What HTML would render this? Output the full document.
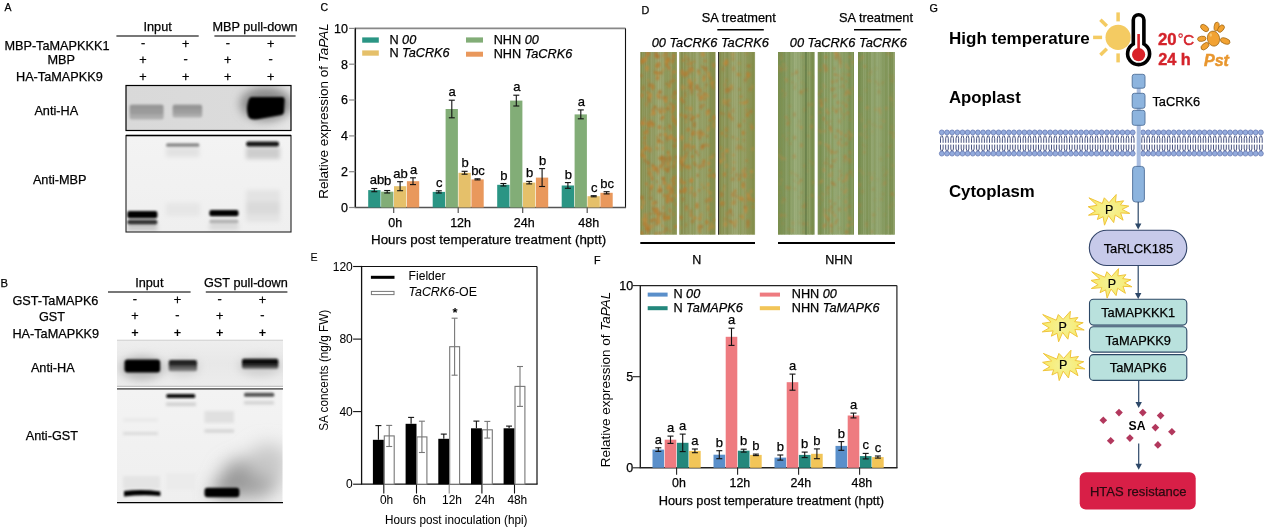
<!DOCTYPE html>
<html><head><meta charset="utf-8"><style>
html,body{margin:0;padding:0;background:#fff;}
svg{display:block;font-family:"Liberation Sans", sans-serif;will-change:transform;}
</style></head><body>
<svg width="1270" height="529" viewBox="0 0 1270 529">
<defs>
<filter id="bl1" x="-20%" y="-50%" width="140%" height="200%"><feGaussianBlur stdDeviation="1"/></filter>
<filter id="bl2" x="-20%" y="-50%" width="140%" height="200%"><feGaussianBlur stdDeviation="1.6"/></filter>
<filter id="bl3" x="-50%" y="-50%" width="200%" height="200%"><feGaussianBlur stdDeviation="8"/></filter>
<linearGradient id="gA1" x1="0" y1="0" x2="1" y2="0"><stop offset="0" stop-color="#d9d9d9"/><stop offset="0.7" stop-color="#dbdbdb"/><stop offset="1" stop-color="#e6e6e6"/></linearGradient>
<linearGradient id="gA2" x1="0" y1="0" x2="0" y2="1"><stop offset="0" stop-color="#f3f3f3"/><stop offset="1" stop-color="#efefef"/></linearGradient>
<linearGradient id="gB1" x1="0" y1="0" x2="0" y2="1"><stop offset="0" stop-color="#eeeeee"/><stop offset="0.5" stop-color="#e8e8e8"/><stop offset="1" stop-color="#ececec"/></linearGradient>
<linearGradient id="gB2" x1="0" y1="0" x2="0" y2="1"><stop offset="0" stop-color="#f3f3f3"/><stop offset="1" stop-color="#efefef"/></linearGradient>
<linearGradient id="band1" x1="0" y1="0" x2="0" y2="1"><stop offset="0" stop-color="#a3a3a3"/><stop offset="0.35" stop-color="#989898"/><stop offset="0.65" stop-color="#a6a6a6"/><stop offset="1" stop-color="#b2b2b2"/></linearGradient>
<linearGradient id="band2" x1="0" y1="0" x2="0" y2="1"><stop offset="0" stop-color="#1a1a1a"/><stop offset="0.4" stop-color="#262626"/><stop offset="0.6" stop-color="#555"/><stop offset="1" stop-color="#8a8a8a"/></linearGradient>
<linearGradient id="band3" x1="0" y1="0" x2="0" y2="1"><stop offset="0" stop-color="#080808"/><stop offset="0.5" stop-color="#151515"/><stop offset="0.75" stop-color="#444"/><stop offset="1" stop-color="#8a8a8a"/></linearGradient>
<clipPath id="cA1"><rect x="126" y="85.5" width="165" height="45"/></clipPath>
<clipPath id="cA2"><rect x="126" y="135.5" width="165" height="96.5"/></clipPath>
<clipPath id="cB1"><rect x="117" y="340" width="166" height="46.5"/></clipPath>
<clipPath id="cB2"><rect x="117" y="390" width="165.5" height="112"/></clipPath>
<radialGradient id="starg" cx="0.5" cy="0.5" r="0.5"><stop offset="0" stop-color="#f4f29a"/><stop offset="1" stop-color="#f8ea6a"/></radialGradient>
<filter id="bl05" x="-50%" y="-50%" width="200%" height="200%"><feGaussianBlur stdDeviation="0.7"/></filter>
<linearGradient id="leafN" x1="0" y1="0" x2="1" y2="0"><stop offset="0" stop-color="#838a4a"/><stop offset="0.5" stop-color="#9aa36e"/><stop offset="1" stop-color="#868e4c"/></linearGradient>
<linearGradient id="leafH" x1="0" y1="0" x2="1" y2="0"><stop offset="0" stop-color="#778c4e"/><stop offset="0.5" stop-color="#93a672"/><stop offset="1" stop-color="#7a8e50"/></linearGradient>
<filter id="f0_85" x="-50%" y="-50%" width="200%" height="200%"><feGaussianBlur stdDeviation="0.85"/></filter><filter id="f0_9" x="-50%" y="-50%" width="200%" height="200%"><feGaussianBlur stdDeviation="0.9"/></filter><filter id="f1_2" x="-50%" y="-50%" width="200%" height="200%"><feGaussianBlur stdDeviation="1.2"/></filter><filter id="f1_3" x="-50%" y="-50%" width="200%" height="200%"><feGaussianBlur stdDeviation="1.3"/></filter><filter id="f1_8" x="-50%" y="-50%" width="200%" height="200%"><feGaussianBlur stdDeviation="1.8"/></filter><filter id="f2_2" x="-50%" y="-50%" width="200%" height="200%"><feGaussianBlur stdDeviation="2.2"/></filter><filter id="f4" x="-50%" y="-50%" width="200%" height="200%"><feGaussianBlur stdDeviation="4"/></filter><filter id="f5" x="-50%" y="-50%" width="200%" height="200%"><feGaussianBlur stdDeviation="5"/></filter><filter id="f9" x="-50%" y="-50%" width="200%" height="200%"><feGaussianBlur stdDeviation="9"/></filter><clipPath id="cl0"><rect x="640.3" y="52" width="36.6" height="182.7"/></clipPath><clipPath id="cl1"><rect x="679.3" y="52" width="36.2" height="182.7"/></clipPath><clipPath id="cl2"><rect x="718.4" y="52" width="36.4" height="182.7"/></clipPath><clipPath id="cl3"><rect x="778.0" y="52" width="36.6" height="182.7"/></clipPath><clipPath id="cl4"><rect x="817.7" y="52" width="36.3" height="182.7"/></clipPath><clipPath id="cl5"><rect x="858.0" y="52" width="36.8" height="182.7"/></clipPath></defs>
<text x="4.6" y="11.2" font-size="10.5" text-anchor="start" font-weight="normal" font-style="normal" fill="#000"  stroke="#000" stroke-width="0.25">A</text>
<text x="4.4" y="49.9" font-size="12.7" text-anchor="start" font-weight="normal" font-style="normal" fill="#000"  stroke="#000" stroke-width="0.25">MBP-TaMAPKKK1</text>
<text x="47.4" y="64.4" font-size="12.7" text-anchor="start" font-weight="normal" font-style="normal" fill="#000"  stroke="#000" stroke-width="0.25">MBP</text>
<text x="16.0" y="81.1" font-size="12.7" text-anchor="start" font-weight="normal" font-style="normal" fill="#000"  stroke="#000" stroke-width="0.25">HA-TaMAPKK9</text>
<text x="34.4" y="115.0" font-size="12.7" text-anchor="start" font-weight="normal" font-style="normal" fill="#000"  stroke="#000" stroke-width="0.25">Anti-HA</text>
<text x="32.9" y="184.3" font-size="12.7" text-anchor="start" font-weight="normal" font-style="normal" fill="#000"  stroke="#000" stroke-width="0.25">Anti-MBP</text>
<text x="143.5" y="31.2" font-size="12.7" text-anchor="start" font-weight="normal" font-style="normal" fill="#000"  stroke="#000" stroke-width="0.25">Input</text>
<text x="212.5" y="31.2" font-size="12.7" text-anchor="start" font-weight="normal" font-style="normal" fill="#000"  stroke="#000" stroke-width="0.25">MBP pull-down</text>
<line x1="116.4" y1="36.0" x2="198.7" y2="36.0" stroke="#777" stroke-width="2"/>
<line x1="214.4" y1="36.0" x2="295.6" y2="36.0" stroke="#777" stroke-width="2"/>
<text x="143.0" y="47.2" font-size="12.7" text-anchor="middle" font-weight="normal" font-style="normal" fill="#000" stroke="#000" stroke-width="0.3">-</text>
<text x="185.6" y="48.2" font-size="12.7" text-anchor="middle" font-weight="normal" font-style="normal" fill="#000"  stroke="#000" stroke-width="0.25">+</text>
<text x="227.8" y="47.2" font-size="12.7" text-anchor="middle" font-weight="normal" font-style="normal" fill="#000" stroke="#000" stroke-width="0.3">-</text>
<text x="270.7" y="48.2" font-size="12.7" text-anchor="middle" font-weight="normal" font-style="normal" fill="#000"  stroke="#000" stroke-width="0.25">+</text>
<text x="143.0" y="63.8" font-size="12.7" text-anchor="middle" font-weight="normal" font-style="normal" fill="#000"  stroke="#000" stroke-width="0.25">+</text>
<text x="185.6" y="62.8" font-size="12.7" text-anchor="middle" font-weight="normal" font-style="normal" fill="#000" stroke="#000" stroke-width="0.3">-</text>
<text x="227.8" y="63.8" font-size="12.7" text-anchor="middle" font-weight="normal" font-style="normal" fill="#000"  stroke="#000" stroke-width="0.25">+</text>
<text x="270.7" y="62.8" font-size="12.7" text-anchor="middle" font-weight="normal" font-style="normal" fill="#000" stroke="#000" stroke-width="0.3">-</text>
<text x="143.0" y="80.9" font-size="12.7" text-anchor="middle" font-weight="normal" font-style="normal" fill="#000"  stroke="#000" stroke-width="0.25">+</text>
<text x="185.6" y="80.9" font-size="12.7" text-anchor="middle" font-weight="normal" font-style="normal" fill="#000"  stroke="#000" stroke-width="0.25">+</text>
<text x="227.8" y="80.9" font-size="12.7" text-anchor="middle" font-weight="normal" font-style="normal" fill="#000"  stroke="#000" stroke-width="0.25">+</text>
<text x="270.7" y="80.9" font-size="12.7" text-anchor="middle" font-weight="normal" font-style="normal" fill="#000"  stroke="#000" stroke-width="0.25">+</text>
<rect x="126" y="85.5" width="165" height="45" fill="url(#gA1)"/>
<g filter="url(#f5)" clip-path="url(#cA1)">
<ellipse cx="266" cy="104" rx="26" ry="17" fill="#8a8a8a"/>
</g>
<g filter="url(#f1_2)" clip-path="url(#cA1)">
<rect x="129.5" y="104.5" width="34.1" height="15.1" rx="2" fill="url(#band1)" opacity="1"/>
<rect x="172.6" y="104.5" width="29.6" height="13.0" rx="2" fill="url(#band1)" opacity="1"/>
<rect x="130.5" y="105.5" width="32.5" height="2.5" rx="1" fill="#8e8e8e" opacity="0.6"/>
<rect x="173.5" y="105.5" width="28.0" height="2.5" rx="1" fill="#8e8e8e" opacity="0.6"/>
<rect x="130.5" y="111.5" width="32.5" height="2.5" rx="1" fill="#959595" opacity="0.5"/>
<rect x="173.5" y="111.0" width="28.0" height="2.5" rx="1" fill="#999" opacity="0.4"/>
<path d="M252,97 L282,97 Q285,97 284.6,101 L284,112 Q283.5,115 280,115.3 L262,118.5 Q250,121.5 248,116 Q246,108 248,102 Q249,97 252,97 Z" fill="#050505"/>
</g>
<rect x="126" y="85.5" width="165" height="45" fill="none" stroke="#000" stroke-width="1.2"/>
<rect x="126" y="135.5" width="165" height="96.5" fill="url(#gA2)"/>
<g filter="url(#f2_2)" clip-path="url(#cA2)">
<rect x="166.0" y="147.0" width="33.4" height="10.0" rx="0" fill="#e2e2e2" opacity="1"/>
<rect x="246.0" y="147.0" width="34.0" height="12.0" rx="0" fill="#cdcdcd" opacity="1"/>
<rect x="166.0" y="203.0" width="34.0" height="13.0" rx="0" fill="#e6e6e6" opacity="1"/>
<rect x="246.0" y="190.0" width="34.0" height="32.0" rx="0" fill="#e3e3e3" opacity="1"/>
<rect x="246.0" y="202.0" width="34.0" height="12.0" rx="0" fill="#dadada" opacity="1"/>
<rect x="127.3" y="224.0" width="30.1" height="7.0" rx="0" fill="#c8c8c8" opacity="1"/>
<rect x="209.4" y="223.0" width="29.1" height="7.0" rx="0" fill="#d8d8d8" opacity="1"/>
</g>
<g filter="url(#f0_9)" clip-path="url(#cA2)">
<rect x="166.1" y="143.3" width="33.3" height="3.4" rx="1.5" fill="#8a8a8a" opacity="1"/>
<rect x="246.2" y="141.6" width="32.8" height="5.0" rx="2" fill="#151515" opacity="1"/>
<rect x="127.3" y="211.0" width="30.1" height="7.3" rx="2" fill="#000" opacity="1"/>
<rect x="127.3" y="219.8" width="30.1" height="4.8" rx="2" fill="#303030" opacity="1"/>
<rect x="209.4" y="210.0" width="29.1" height="6.3" rx="2" fill="#000" opacity="1"/>
<rect x="209.4" y="219.4" width="29.1" height="4.2" rx="2" fill="#b4b4b4" opacity="1"/>
</g>
<rect x="126" y="135.5" width="165" height="96.5" fill="none" stroke="#222" stroke-width="1.1"/>
<line x1="126.0" y1="135.5" x2="291.0" y2="135.5" stroke="#000" stroke-width="1.3"/>
<text x="0.5" y="286.8" font-size="11.2" text-anchor="start" font-weight="normal" font-style="normal" fill="#000"  stroke="#000" stroke-width="0.25">B</text>
<text x="12.4" y="305.2" font-size="12.7" text-anchor="start" font-weight="normal" font-style="normal" fill="#000"  stroke="#000" stroke-width="0.25">GST-TaMAPK6</text>
<text x="39.0" y="321.0" font-size="12.7" text-anchor="start" font-weight="normal" font-style="normal" fill="#000"  stroke="#000" stroke-width="0.25">GST</text>
<text x="12.4" y="337.8" font-size="12.7" text-anchor="start" font-weight="normal" font-style="normal" fill="#000"  stroke="#000" stroke-width="0.25">HA-TaMAPKK9</text>
<text x="30.9" y="371.5" font-size="12.7" text-anchor="start" font-weight="normal" font-style="normal" fill="#000"  stroke="#000" stroke-width="0.25">Anti-HA</text>
<text x="25.8" y="440.2" font-size="12.7" text-anchor="start" font-weight="normal" font-style="normal" fill="#000"  stroke="#000" stroke-width="0.25">Anti-GST</text>
<text x="135.2" y="287.2" font-size="12.7" text-anchor="start" font-weight="normal" font-style="normal" fill="#000"  stroke="#000" stroke-width="0.25">Input</text>
<text x="204.0" y="287.2" font-size="12.7" text-anchor="start" font-weight="normal" font-style="normal" fill="#000"  stroke="#000" stroke-width="0.25">GST pull-down</text>
<line x1="108.0" y1="292.0" x2="190.6" y2="292.0" stroke="#777" stroke-width="2"/>
<line x1="205.8" y1="292.0" x2="287.4" y2="292.0" stroke="#777" stroke-width="2"/>
<text x="134.9" y="303.2" font-size="12.7" text-anchor="middle" font-weight="normal" font-style="normal" fill="#000" stroke="#000" stroke-width="0.3">-</text>
<text x="177.4" y="304.2" font-size="12.7" text-anchor="middle" font-weight="normal" font-style="normal" fill="#000"  stroke="#000" stroke-width="0.25">+</text>
<text x="219.6" y="303.2" font-size="12.7" text-anchor="middle" font-weight="normal" font-style="normal" fill="#000" stroke="#000" stroke-width="0.3">-</text>
<text x="262.4" y="304.2" font-size="12.7" text-anchor="middle" font-weight="normal" font-style="normal" fill="#000"  stroke="#000" stroke-width="0.25">+</text>
<text x="134.9" y="319.8" font-size="12.7" text-anchor="middle" font-weight="normal" font-style="normal" fill="#000"  stroke="#000" stroke-width="0.25">+</text>
<text x="177.4" y="318.8" font-size="12.7" text-anchor="middle" font-weight="normal" font-style="normal" fill="#000" stroke="#000" stroke-width="0.3">-</text>
<text x="219.6" y="319.8" font-size="12.7" text-anchor="middle" font-weight="normal" font-style="normal" fill="#000"  stroke="#000" stroke-width="0.25">+</text>
<text x="262.4" y="318.8" font-size="12.7" text-anchor="middle" font-weight="normal" font-style="normal" fill="#000" stroke="#000" stroke-width="0.3">-</text>
<text x="134.9" y="337.3" font-size="12.7" text-anchor="middle" font-weight="bold" font-style="normal" fill="#000" >+</text>
<text x="177.4" y="337.3" font-size="12.7" text-anchor="middle" font-weight="bold" font-style="normal" fill="#000" >+</text>
<text x="219.6" y="337.3" font-size="12.7" text-anchor="middle" font-weight="bold" font-style="normal" fill="#000" >+</text>
<text x="262.4" y="337.3" font-size="12.7" text-anchor="middle" font-weight="bold" font-style="normal" fill="#000" >+</text>
<rect x="117" y="340" width="166" height="46.5" fill="url(#gB1)"/>
<g filter="url(#f4)" clip-path="url(#cB1)">
<ellipse cx="142" cy="368" rx="22" ry="12" fill="#b8b8b8"/>
<ellipse cx="260" cy="366" rx="22" ry="10" fill="#cfcfcf"/>
<ellipse cx="183" cy="367" rx="17" ry="9" fill="#d2d2d2"/>
</g>
<g filter="url(#f1_3)" clip-path="url(#cB1)">
<rect x="124.5" y="359.4" width="35.7" height="13.0" rx="3" fill="#020202" opacity="1"/>
<rect x="168.7" y="360.0" width="28.3" height="11.3" rx="2" fill="url(#band2)" opacity="1"/>
<rect x="242.0" y="358.8" width="36.3" height="10.2" rx="2" fill="url(#band3)" opacity="1"/>
</g>
<line x1="117.0" y1="340.2" x2="283.0" y2="340.2" stroke="#c8c8c8" stroke-width="0.8"/>
<line x1="117.0" y1="386.3" x2="283.0" y2="386.3" stroke="#b0b0b0" stroke-width="0.9"/>
<line x1="117.0" y1="388.9" x2="283.0" y2="388.9" stroke="#6a6a6a" stroke-width="1.7"/>
<rect x="117" y="390" width="165.5" height="112" fill="url(#gB2)"/>
<g filter="url(#f9)" clip-path="url(#cB2)">
<ellipse cx="250" cy="478" rx="30" ry="20" fill="#9c9c9c"/>
<ellipse cx="268" cy="462" rx="20" ry="18" fill="#c8c8c8"/>
<ellipse cx="225" cy="490" rx="14" ry="8" fill="#888"/>
</g>
<g filter="url(#f1_8)" clip-path="url(#cB2)">
<rect x="204.5" y="411.0" width="29.5" height="12.0" rx="0" fill="#e0e0e0" opacity="1"/>
<rect x="123.0" y="418.0" width="35.0" height="4.0" rx="0" fill="#eaeaea" opacity="1"/>
<rect x="123.0" y="432.0" width="35.0" height="3.0" rx="0" fill="#dadada" opacity="1"/>
<rect x="204.5" y="429.5" width="29.5" height="3.0" rx="0" fill="#d0d0d0" opacity="1"/>
<rect x="166.0" y="402.5" width="30.0" height="3.5" rx="0" fill="#cfcfcf" opacity="1"/>
<rect x="244.0" y="401.0" width="30.0" height="3.5" rx="0" fill="#d2d2d2" opacity="1"/>
<rect x="123.0" y="476.0" width="37.0" height="13.0" rx="0" fill="#e4e4e4" opacity="1"/>
<rect x="166.0" y="473.0" width="30.0" height="17.0" rx="0" fill="#ebebeb" opacity="1"/>
</g>
<g filter="url(#f0_9)" clip-path="url(#cB2)">
<rect x="166.3" y="394.0" width="28.9" height="4.0" rx="1.5" fill="#111" opacity="1"/>
<rect x="244.1" y="392.8" width="30.1" height="4.0" rx="1.5" fill="#555" opacity="1"/>
<path d="M124,491 Q142,489 160.4,491.5 L160.4,496 Q142,494.5 124,496.5 Z" fill="#000"/>
<rect x="204.5" y="487.8" width="34.9" height="9.4" rx="3" fill="#000" opacity="1"/>
</g>
<line x1="117.0" y1="502.6" x2="283.0" y2="502.6" stroke="#000" stroke-width="1.3"/>
<text x="320.5" y="11.0" font-size="10.5" text-anchor="start" font-weight="normal" font-style="normal" fill="#000"  stroke="#000" stroke-width="0.25">C</text>
<line x1="355.3" y1="28.4" x2="625.5" y2="28.4" stroke="#888" stroke-width="1.6"/>
<line x1="625.5" y1="28.4" x2="625.5" y2="207.5" stroke="#111" stroke-width="1.1"/>
<line x1="355.3" y1="27.8" x2="355.3" y2="207.5" stroke="#111" stroke-width="1.5"/>
<line x1="354.6" y1="207.5" x2="626.1" y2="207.5" stroke="#555" stroke-width="1.5"/>
<line x1="349.1" y1="207.5" x2="355.3" y2="207.5" stroke="#888" stroke-width="1.2"/>
<text x="348.0" y="211.8" font-size="12.5" text-anchor="end" font-weight="normal" font-style="normal" fill="#000"  stroke="#000" stroke-width="0.25">0</text>
<line x1="349.1" y1="171.7" x2="355.3" y2="171.7" stroke="#888" stroke-width="1.2"/>
<text x="348.0" y="176.0" font-size="12.5" text-anchor="end" font-weight="normal" font-style="normal" fill="#000"  stroke="#000" stroke-width="0.25">2</text>
<line x1="349.1" y1="135.9" x2="355.3" y2="135.9" stroke="#888" stroke-width="1.2"/>
<text x="348.0" y="140.2" font-size="12.5" text-anchor="end" font-weight="normal" font-style="normal" fill="#000"  stroke="#000" stroke-width="0.25">4</text>
<line x1="349.1" y1="100.0" x2="355.3" y2="100.0" stroke="#888" stroke-width="1.2"/>
<text x="348.0" y="104.3" font-size="12.5" text-anchor="end" font-weight="normal" font-style="normal" fill="#000"  stroke="#000" stroke-width="0.25">6</text>
<line x1="349.1" y1="64.2" x2="355.3" y2="64.2" stroke="#888" stroke-width="1.2"/>
<text x="348.0" y="68.5" font-size="12.5" text-anchor="end" font-weight="normal" font-style="normal" fill="#000"  stroke="#000" stroke-width="0.25">8</text>
<line x1="349.1" y1="28.4" x2="355.3" y2="28.4" stroke="#888" stroke-width="1.2"/>
<text x="348.0" y="32.7" font-size="12.5" text-anchor="end" font-weight="normal" font-style="normal" fill="#000"  stroke="#000" stroke-width="0.25">10</text>
<line x1="393.7" y1="207.5" x2="393.7" y2="213.0" stroke="#555" stroke-width="1.2"/>
<text x="395.3" y="226.8" font-size="12.5" text-anchor="middle" font-weight="normal" font-style="normal" fill="#000"  stroke="#000" stroke-width="0.25">0h</text>
<line x1="458.2" y1="207.5" x2="458.2" y2="213.0" stroke="#555" stroke-width="1.2"/>
<text x="460.6" y="226.8" font-size="12.5" text-anchor="middle" font-weight="normal" font-style="normal" fill="#000"  stroke="#000" stroke-width="0.25">12h</text>
<line x1="522.7" y1="207.5" x2="522.7" y2="213.0" stroke="#555" stroke-width="1.2"/>
<text x="524.3" y="226.8" font-size="12.5" text-anchor="middle" font-weight="normal" font-style="normal" fill="#000"  stroke="#000" stroke-width="0.25">24h</text>
<line x1="587.2" y1="207.5" x2="587.2" y2="213.0" stroke="#555" stroke-width="1.2"/>
<text x="588.8" y="226.8" font-size="12.5" text-anchor="middle" font-weight="normal" font-style="normal" fill="#000"  stroke="#000" stroke-width="0.25">48h</text>
<text x="488.6" y="244.4" font-size="13.35" text-anchor="middle" font-weight="normal" font-style="normal" fill="#000"  stroke="#000" stroke-width="0.25">Hours post temperature treatment (hptt)</text>
<text transform="translate(328.4,111) rotate(-90)" font-size="13.5" text-anchor="middle">Relative expression of <tspan font-style="italic">TaPAL</tspan></text>
<rect x="368.2" y="190.1" width="12.3" height="17.4" fill="#2a9584" />
<line x1="374.3" y1="188.5" x2="374.3" y2="191.7" stroke="#111" stroke-width="1.1"/>
<line x1="371.3" y1="188.5" x2="377.3" y2="188.5" stroke="#111" stroke-width="1.1"/>
<line x1="371.3" y1="191.7" x2="377.3" y2="191.7" stroke="#111" stroke-width="1.1"/>
<text x="369.7" y="183.6" font-size="13" text-anchor="start" font-weight="normal" font-style="normal" fill="#000"  stroke="#000" stroke-width="0.25">ab</text>
<rect x="381.1" y="191.7" width="12.3" height="15.8" fill="#82ad77" />
<line x1="387.2" y1="190.5" x2="387.2" y2="193.0" stroke="#111" stroke-width="1.1"/>
<line x1="384.2" y1="190.5" x2="390.2" y2="190.5" stroke="#111" stroke-width="1.1"/>
<line x1="384.2" y1="193.0" x2="390.2" y2="193.0" stroke="#111" stroke-width="1.1"/>
<text x="384.0" y="184.6" font-size="13" text-anchor="start" font-weight="normal" font-style="normal" fill="#000"  stroke="#000" stroke-width="0.25">b</text>
<rect x="394.0" y="186.2" width="12.3" height="21.3" fill="#e5c06a" />
<line x1="400.1" y1="181.7" x2="400.1" y2="190.7" stroke="#111" stroke-width="1.1"/>
<line x1="397.1" y1="181.7" x2="403.1" y2="181.7" stroke="#111" stroke-width="1.1"/>
<line x1="397.1" y1="190.7" x2="403.1" y2="190.7" stroke="#111" stroke-width="1.1"/>
<text x="400.6" y="177.7" font-size="13" text-anchor="middle" font-weight="normal" font-style="normal" fill="#000"  stroke="#000" stroke-width="0.25">ab</text>
<rect x="406.9" y="181.2" width="12.3" height="26.3" fill="#e9985c" />
<line x1="413.0" y1="177.8" x2="413.0" y2="184.6" stroke="#111" stroke-width="1.1"/>
<line x1="410.0" y1="177.8" x2="416.0" y2="177.8" stroke="#111" stroke-width="1.1"/>
<line x1="410.0" y1="184.6" x2="416.0" y2="184.6" stroke="#111" stroke-width="1.1"/>
<text x="413.5" y="173.8" font-size="13" text-anchor="middle" font-weight="normal" font-style="normal" fill="#000"  stroke="#000" stroke-width="0.25">a</text>
<rect x="432.7" y="191.9" width="12.3" height="15.6" fill="#2a9584" />
<line x1="438.8" y1="190.8" x2="438.8" y2="193.0" stroke="#111" stroke-width="1.1"/>
<line x1="435.8" y1="190.8" x2="441.8" y2="190.8" stroke="#111" stroke-width="1.1"/>
<line x1="435.8" y1="193.0" x2="441.8" y2="193.0" stroke="#111" stroke-width="1.1"/>
<text x="439.3" y="186.8" font-size="13" text-anchor="middle" font-weight="normal" font-style="normal" fill="#000"  stroke="#000" stroke-width="0.25">c</text>
<rect x="445.6" y="109.0" width="12.3" height="98.5" fill="#82ad77" />
<line x1="451.8" y1="100.2" x2="451.8" y2="117.8" stroke="#111" stroke-width="1.1"/>
<line x1="448.8" y1="100.2" x2="454.8" y2="100.2" stroke="#111" stroke-width="1.1"/>
<line x1="448.8" y1="117.8" x2="454.8" y2="117.8" stroke="#111" stroke-width="1.1"/>
<text x="452.2" y="96.2" font-size="13" text-anchor="middle" font-weight="normal" font-style="normal" fill="#000"  stroke="#000" stroke-width="0.25">a</text>
<rect x="458.5" y="172.8" width="12.3" height="34.7" fill="#e5c06a" />
<line x1="464.6" y1="171.3" x2="464.6" y2="174.2" stroke="#111" stroke-width="1.1"/>
<line x1="461.6" y1="171.3" x2="467.6" y2="171.3" stroke="#111" stroke-width="1.1"/>
<line x1="461.6" y1="174.2" x2="467.6" y2="174.2" stroke="#111" stroke-width="1.1"/>
<text x="465.1" y="167.3" font-size="13" text-anchor="middle" font-weight="normal" font-style="normal" fill="#000"  stroke="#000" stroke-width="0.25">b</text>
<rect x="471.4" y="179.4" width="12.3" height="28.1" fill="#e9985c" />
<line x1="477.5" y1="178.8" x2="477.5" y2="179.9" stroke="#111" stroke-width="1.1"/>
<line x1="474.5" y1="178.8" x2="480.5" y2="178.8" stroke="#111" stroke-width="1.1"/>
<line x1="474.5" y1="179.9" x2="480.5" y2="179.9" stroke="#111" stroke-width="1.1"/>
<text x="478.0" y="174.8" font-size="13" text-anchor="middle" font-weight="normal" font-style="normal" fill="#000"  stroke="#000" stroke-width="0.25">bc</text>
<rect x="497.2" y="184.8" width="12.3" height="22.7" fill="#2a9584" />
<line x1="503.4" y1="183.5" x2="503.4" y2="186.0" stroke="#111" stroke-width="1.1"/>
<line x1="500.4" y1="183.5" x2="506.4" y2="183.5" stroke="#111" stroke-width="1.1"/>
<line x1="500.4" y1="186.0" x2="506.4" y2="186.0" stroke="#111" stroke-width="1.1"/>
<text x="503.9" y="179.5" font-size="13" text-anchor="middle" font-weight="normal" font-style="normal" fill="#000"  stroke="#000" stroke-width="0.25">b</text>
<rect x="510.1" y="100.6" width="12.3" height="106.9" fill="#82ad77" />
<line x1="516.3" y1="95.2" x2="516.3" y2="106.0" stroke="#111" stroke-width="1.1"/>
<line x1="513.3" y1="95.2" x2="519.3" y2="95.2" stroke="#111" stroke-width="1.1"/>
<line x1="513.3" y1="106.0" x2="519.3" y2="106.0" stroke="#111" stroke-width="1.1"/>
<text x="516.8" y="91.2" font-size="13" text-anchor="middle" font-weight="normal" font-style="normal" fill="#000"  stroke="#000" stroke-width="0.25">a</text>
<rect x="523.0" y="182.6" width="12.3" height="24.9" fill="#e5c06a" />
<line x1="529.2" y1="181.4" x2="529.2" y2="183.9" stroke="#111" stroke-width="1.1"/>
<line x1="526.2" y1="181.4" x2="532.2" y2="181.4" stroke="#111" stroke-width="1.1"/>
<line x1="526.2" y1="183.9" x2="532.2" y2="183.9" stroke="#111" stroke-width="1.1"/>
<text x="529.7" y="177.4" font-size="13" text-anchor="middle" font-weight="normal" font-style="normal" fill="#000"  stroke="#000" stroke-width="0.25">b</text>
<rect x="535.9" y="177.6" width="12.3" height="29.9" fill="#e9985c" />
<line x1="542.1" y1="168.6" x2="542.1" y2="186.5" stroke="#111" stroke-width="1.1"/>
<line x1="539.1" y1="168.6" x2="545.1" y2="168.6" stroke="#111" stroke-width="1.1"/>
<line x1="539.1" y1="186.5" x2="545.1" y2="186.5" stroke="#111" stroke-width="1.1"/>
<text x="542.6" y="164.6" font-size="13" text-anchor="middle" font-weight="normal" font-style="normal" fill="#000"  stroke="#000" stroke-width="0.25">b</text>
<rect x="561.7" y="185.5" width="12.3" height="22.0" fill="#2a9584" />
<line x1="567.9" y1="182.6" x2="567.9" y2="188.3" stroke="#111" stroke-width="1.1"/>
<line x1="564.9" y1="182.6" x2="570.9" y2="182.6" stroke="#111" stroke-width="1.1"/>
<line x1="564.9" y1="188.3" x2="570.9" y2="188.3" stroke="#111" stroke-width="1.1"/>
<text x="568.4" y="178.6" font-size="13" text-anchor="middle" font-weight="normal" font-style="normal" fill="#000"  stroke="#000" stroke-width="0.25">b</text>
<rect x="574.6" y="114.4" width="12.3" height="93.1" fill="#82ad77" />
<line x1="580.8" y1="109.9" x2="580.8" y2="118.8" stroke="#111" stroke-width="1.1"/>
<line x1="577.8" y1="109.9" x2="583.8" y2="109.9" stroke="#111" stroke-width="1.1"/>
<line x1="577.8" y1="118.8" x2="583.8" y2="118.8" stroke="#111" stroke-width="1.1"/>
<text x="581.3" y="105.9" font-size="13" text-anchor="middle" font-weight="normal" font-style="normal" fill="#000"  stroke="#000" stroke-width="0.25">a</text>
<rect x="587.5" y="196.2" width="12.3" height="11.3" fill="#e5c06a" />
<line x1="593.7" y1="195.7" x2="593.7" y2="196.8" stroke="#111" stroke-width="1.1"/>
<line x1="590.7" y1="195.7" x2="596.7" y2="195.7" stroke="#111" stroke-width="1.1"/>
<line x1="590.7" y1="196.8" x2="596.7" y2="196.8" stroke="#111" stroke-width="1.1"/>
<text x="594.2" y="191.7" font-size="13" text-anchor="middle" font-weight="normal" font-style="normal" fill="#000"  stroke="#000" stroke-width="0.25">c</text>
<rect x="600.4" y="192.8" width="12.3" height="14.7" fill="#e9985c" />
<line x1="606.6" y1="191.7" x2="606.6" y2="193.9" stroke="#111" stroke-width="1.1"/>
<line x1="603.6" y1="191.7" x2="609.6" y2="191.7" stroke="#111" stroke-width="1.1"/>
<line x1="603.6" y1="193.9" x2="609.6" y2="193.9" stroke="#111" stroke-width="1.1"/>
<text x="607.1" y="187.7" font-size="13" text-anchor="middle" font-weight="normal" font-style="normal" fill="#000"  stroke="#000" stroke-width="0.25">bc</text>
<rect x="362.2" y="37.4" width="16.6" height="5.3" fill="#2a9584" />
<rect x="362.2" y="50.4" width="16.6" height="5.3" fill="#e5c06a" />
<rect x="466.0" y="37.4" width="17.0" height="5.2" fill="#82ad77" />
<rect x="466.0" y="51.7" width="17.0" height="5.0" fill="#e9985c" />
<text x="389.4" y="43.8" font-size="12.7" text-anchor="start" font-weight="normal" font-style="normal" fill="#000"  stroke="#000" stroke-width="0.25">N <tspan font-style="italic">00</tspan></text>
<text x="389.4" y="56.6" font-size="12.7" text-anchor="start" font-weight="normal" font-style="normal" fill="#000"  stroke="#000" stroke-width="0.25">N <tspan font-style="italic">TaCRK6</tspan></text>
<text x="493.7" y="43.8" font-size="12.7" text-anchor="start" font-weight="normal" font-style="normal" fill="#000"  stroke="#000" stroke-width="0.25">NHN <tspan font-style="italic">00</tspan></text>
<text x="493.7" y="58.2" font-size="12.7" text-anchor="start" font-weight="normal" font-style="normal" fill="#000"  stroke="#000" stroke-width="0.25">NHN <tspan font-style="italic">TaCRK6</tspan></text>
<text x="641.5" y="13.6" font-size="10.8" text-anchor="start" font-weight="normal" font-style="normal" fill="#000"  stroke="#000" stroke-width="0.25">D</text>
<text x="701.8" y="21.7" font-size="12.8" text-anchor="start" font-weight="normal" font-style="normal" fill="#000"  stroke="#000" stroke-width="0.25">SA treatment</text>
<line x1="717.3" y1="29.7" x2="763.8" y2="29.7" stroke="#000" stroke-width="1.6"/>
<text x="651.7" y="46.9" font-size="12.8" text-anchor="start" font-weight="normal" font-style="italic" fill="#000"  stroke="#000" stroke-width="0.25"><tspan>00</tspan> TaCRK6 TaCRK6</text>
<text x="839.0" y="21.7" font-size="12.8" text-anchor="start" font-weight="normal" font-style="normal" fill="#000"  stroke="#000" stroke-width="0.25">SA treatment</text>
<line x1="854.0" y1="29.7" x2="900.7" y2="29.7" stroke="#000" stroke-width="1.6"/>
<text x="789.8" y="46.9" font-size="12.8" text-anchor="start" font-weight="normal" font-style="italic" fill="#000"  stroke="#000" stroke-width="0.25"><tspan>00</tspan> TaCRK6 TaCRK6</text>
<rect x="640.3" y="52" width="36.6" height="182.7" fill="url(#leafN)"/>
<rect x="640.8" y="52" width="0.8" height="182.7" fill="#778a46" opacity="0.37"/>
<rect x="642.2" y="52" width="1.2" height="182.7" fill="#a9b886" opacity="0.36"/>
<rect x="644.1" y="52" width="0.9" height="182.7" fill="#a9b886" opacity="0.28"/>
<rect x="646.4" y="52" width="0.7" height="182.7" fill="#b3c093" opacity="0.38"/>
<rect x="649.1" y="52" width="0.6" height="182.7" fill="#778a46" opacity="0.44"/>
<rect x="651.4" y="52" width="0.5" height="182.7" fill="#b3c093" opacity="0.37"/>
<rect x="654.3" y="52" width="0.5" height="182.7" fill="#778a46" opacity="0.34"/>
<rect x="655.7" y="52" width="0.6" height="182.7" fill="#9cad72" opacity="0.42"/>
<rect x="658.1" y="52" width="0.6" height="182.7" fill="#b3c093" opacity="0.44"/>
<rect x="660.0" y="52" width="0.9" height="182.7" fill="#a9b886" opacity="0.42"/>
<rect x="662.6" y="52" width="0.9" height="182.7" fill="#b3c093" opacity="0.38"/>
<rect x="664.7" y="52" width="1.0" height="182.7" fill="#84964f" opacity="0.36"/>
<rect x="666.7" y="52" width="0.6" height="182.7" fill="#778a46" opacity="0.27"/>
<rect x="668.5" y="52" width="0.9" height="182.7" fill="#9cad72" opacity="0.47"/>
<rect x="670.5" y="52" width="1.3" height="182.7" fill="#a9b886" opacity="0.40"/>
<rect x="672.7" y="52" width="0.8" height="182.7" fill="#84964f" opacity="0.38"/>
<rect x="675.8" y="52" width="0.6" height="182.7" fill="#b3c093" opacity="0.42"/>
<g filter="url(#f0_85)" clip-path="url(#cl0)">
<ellipse cx="652.2" cy="178.6" rx="1.6" ry="2.3" fill="#b87c2e" opacity="0.71"/>
<ellipse cx="674.0" cy="138.7" rx="1.7" ry="1.7" fill="#b5803a" opacity="0.82"/>
<ellipse cx="651.1" cy="122.7" rx="1.7" ry="1.7" fill="#ad7630" opacity="0.71"/>
<ellipse cx="662.4" cy="142.2" rx="1.2" ry="1.5" fill="#b5803a" opacity="0.83"/>
<ellipse cx="654.8" cy="210.5" rx="1.1" ry="1.5" fill="#ad7630" opacity="0.75"/>
<ellipse cx="669.6" cy="209.1" rx="1.3" ry="1.7" fill="#b5803a" opacity="0.66"/>
<ellipse cx="674.4" cy="80.3" rx="1.2" ry="1.4" fill="#b5803a" opacity="0.61"/>
<ellipse cx="670.1" cy="85.9" rx="1.3" ry="1.4" fill="#c08a3c" opacity="0.74"/>
<ellipse cx="674.3" cy="177.8" rx="1.5" ry="2.3" fill="#b87c2e" opacity="0.80"/>
<ellipse cx="657.1" cy="210.4" rx="2.0" ry="3.0" fill="#b5803a" opacity="0.75"/>
<ellipse cx="655.1" cy="71.7" rx="1.6" ry="1.7" fill="#ad7630" opacity="0.53"/>
<ellipse cx="656.5" cy="72.9" rx="1.6" ry="1.7" fill="#b87c2e" opacity="0.76"/>
<ellipse cx="674.1" cy="163.9" rx="1.1" ry="1.2" fill="#c08a3c" opacity="0.67"/>
<ellipse cx="674.4" cy="161.8" rx="1.5" ry="1.6" fill="#b5803a" opacity="0.72"/>
<ellipse cx="657.9" cy="109.4" rx="1.1" ry="1.8" fill="#b5803a" opacity="0.83"/>
<ellipse cx="670.0" cy="82.2" rx="1.0" ry="1.8" fill="#ad7630" opacity="0.74"/>
<ellipse cx="665.2" cy="218.2" rx="1.8" ry="2.2" fill="#b87c2e" opacity="0.79"/>
<ellipse cx="665.4" cy="100.2" rx="1.4" ry="1.5" fill="#c08a3c" opacity="0.85"/>
<ellipse cx="663.3" cy="163.8" rx="1.8" ry="2.9" fill="#ad7630" opacity="0.59"/>
<ellipse cx="669.6" cy="186.7" rx="1.2" ry="1.7" fill="#b87c2e" opacity="0.66"/>
<ellipse cx="675.5" cy="195.8" rx="1.5" ry="1.7" fill="#c08a3c" opacity="0.77"/>
<ellipse cx="656.8" cy="222.3" rx="2.0" ry="3.5" fill="#ad7630" opacity="0.66"/>
<ellipse cx="644.8" cy="137.9" rx="1.3" ry="1.9" fill="#b87c2e" opacity="0.94"/>
<ellipse cx="657.9" cy="171.0" rx="1.8" ry="1.9" fill="#b5803a" opacity="0.80"/>
<ellipse cx="668.4" cy="188.6" rx="1.5" ry="1.7" fill="#c08a3c" opacity="0.86"/>
<ellipse cx="644.3" cy="224.0" rx="1.7" ry="2.4" fill="#b87c2e" opacity="0.83"/>
<ellipse cx="666.4" cy="83.7" rx="1.1" ry="1.3" fill="#ad7630" opacity="0.91"/>
<ellipse cx="662.5" cy="160.7" rx="1.5" ry="2.6" fill="#ad7630" opacity="0.57"/>
<ellipse cx="642.0" cy="197.4" rx="1.7" ry="1.9" fill="#ad7630" opacity="0.84"/>
<ellipse cx="656.3" cy="210.5" rx="1.8" ry="2.1" fill="#c08a3c" opacity="0.61"/>
<ellipse cx="658.6" cy="191.0" rx="1.3" ry="1.9" fill="#b87c2e" opacity="0.88"/>
<ellipse cx="672.8" cy="116.9" rx="1.5" ry="2.1" fill="#b5803a" opacity="0.91"/>
<ellipse cx="669.9" cy="211.7" rx="1.1" ry="1.3" fill="#b5803a" opacity="0.73"/>
<ellipse cx="668.2" cy="163.0" rx="1.8" ry="2.0" fill="#b87c2e" opacity="0.56"/>
<ellipse cx="660.6" cy="111.9" rx="1.5" ry="2.2" fill="#b87c2e" opacity="0.85"/>
<ellipse cx="671.9" cy="63.3" rx="1.2" ry="1.2" fill="#b5803a" opacity="0.54"/>
<ellipse cx="660.7" cy="190.3" rx="1.9" ry="2.6" fill="#ad7630" opacity="0.78"/>
<ellipse cx="665.3" cy="134.7" rx="1.5" ry="2.1" fill="#c08a3c" opacity="0.92"/>
<ellipse cx="673.2" cy="214.3" rx="1.2" ry="1.6" fill="#b5803a" opacity="0.69"/>
<ellipse cx="656.6" cy="66.1" rx="1.2" ry="1.3" fill="#b87c2e" opacity="0.80"/>
<ellipse cx="672.3" cy="80.9" rx="1.7" ry="2.6" fill="#ad7630" opacity="0.56"/>
<ellipse cx="674.8" cy="92.7" rx="2.0" ry="2.6" fill="#ad7630" opacity="0.72"/>
<ellipse cx="646.9" cy="131.0" rx="1.5" ry="1.9" fill="#c08a3c" opacity="0.59"/>
<ellipse cx="644.5" cy="119.1" rx="1.3" ry="1.8" fill="#b5803a" opacity="0.82"/>
<ellipse cx="652.8" cy="165.7" rx="1.5" ry="1.6" fill="#ad7630" opacity="0.94"/>
<ellipse cx="674.9" cy="71.9" rx="1.3" ry="1.3" fill="#c08a3c" opacity="0.85"/>
<ellipse cx="667.4" cy="201.1" rx="1.8" ry="2.8" fill="#b5803a" opacity="0.93"/>
<ellipse cx="646.5" cy="219.1" rx="1.6" ry="2.5" fill="#b87c2e" opacity="0.54"/>
<ellipse cx="669.0" cy="86.1" rx="1.9" ry="2.3" fill="#b87c2e" opacity="0.51"/>
<ellipse cx="669.0" cy="68.1" rx="1.9" ry="2.0" fill="#b5803a" opacity="0.89"/>
<ellipse cx="641.7" cy="232.7" rx="1.4" ry="2.5" fill="#b87c2e" opacity="0.78"/>
<ellipse cx="659.5" cy="96.1" rx="1.1" ry="1.3" fill="#ad7630" opacity="0.52"/>
<ellipse cx="673.6" cy="166.6" rx="1.5" ry="1.8" fill="#ad7630" opacity="0.70"/>
<ellipse cx="650.7" cy="198.2" rx="2.0" ry="2.1" fill="#ad7630" opacity="0.51"/>
<ellipse cx="659.1" cy="97.4" rx="1.4" ry="2.2" fill="#b5803a" opacity="0.79"/>
<ellipse cx="660.2" cy="213.6" rx="2.0" ry="2.5" fill="#ad7630" opacity="0.60"/>
<ellipse cx="653.2" cy="203.4" rx="1.7" ry="2.6" fill="#c08a3c" opacity="0.68"/>
<ellipse cx="675.3" cy="204.2" rx="1.0" ry="1.5" fill="#b5803a" opacity="0.90"/>
<ellipse cx="646.9" cy="68.3" rx="1.8" ry="3.1" fill="#c08a3c" opacity="0.80"/>
<ellipse cx="662.0" cy="178.2" rx="1.0" ry="1.2" fill="#b87c2e" opacity="0.62"/>
<ellipse cx="650.4" cy="226.8" rx="2.0" ry="2.8" fill="#c08a3c" opacity="0.61"/>
<ellipse cx="648.8" cy="86.1" rx="1.3" ry="1.4" fill="#ad7630" opacity="0.63"/>
<ellipse cx="649.9" cy="193.3" rx="1.1" ry="1.8" fill="#b87c2e" opacity="0.56"/>
<ellipse cx="654.9" cy="107.1" rx="1.6" ry="1.7" fill="#ad7630" opacity="0.93"/>
<ellipse cx="664.1" cy="182.4" rx="1.9" ry="2.5" fill="#b5803a" opacity="0.65"/>
<ellipse cx="646.5" cy="183.9" rx="1.6" ry="1.7" fill="#b5803a" opacity="0.88"/>
<ellipse cx="666.7" cy="199.8" rx="1.1" ry="1.6" fill="#b87c2e" opacity="0.73"/>
<ellipse cx="669.9" cy="158.5" rx="1.9" ry="2.9" fill="#ad7630" opacity="0.81"/>
<ellipse cx="644.2" cy="60.6" rx="1.6" ry="2.9" fill="#b5803a" opacity="0.67"/>
<ellipse cx="660.6" cy="166.4" rx="1.6" ry="2.5" fill="#b87c2e" opacity="0.72"/>
<ellipse cx="657.1" cy="65.7" rx="1.9" ry="3.3" fill="#b87c2e" opacity="0.54"/>
<ellipse cx="667.1" cy="138.6" rx="1.8" ry="3.0" fill="#ad7630" opacity="0.61"/>
<ellipse cx="649.3" cy="170.4" rx="1.5" ry="2.4" fill="#c08a3c" opacity="0.53"/>
<ellipse cx="667.8" cy="164.5" rx="1.6" ry="1.7" fill="#c08a3c" opacity="0.57"/>
<ellipse cx="663.8" cy="178.2" rx="1.6" ry="1.8" fill="#b5803a" opacity="0.72"/>
<ellipse cx="650.6" cy="174.4" rx="1.7" ry="2.6" fill="#c08a3c" opacity="0.63"/>
<ellipse cx="657.4" cy="137.3" rx="1.1" ry="1.9" fill="#b87c2e" opacity="0.59"/>
<ellipse cx="673.7" cy="56.2" rx="1.5" ry="2.4" fill="#b5803a" opacity="0.94"/>
<ellipse cx="675.7" cy="122.9" rx="1.9" ry="3.3" fill="#b87c2e" opacity="0.53"/>
<ellipse cx="646.2" cy="147.7" rx="2.0" ry="2.2" fill="#c08a3c" opacity="0.87"/>
<ellipse cx="672.0" cy="180.1" rx="1.2" ry="2.1" fill="#b87c2e" opacity="0.72"/>
<ellipse cx="646.8" cy="224.7" rx="1.7" ry="2.2" fill="#b5803a" opacity="0.83"/>
<ellipse cx="653.2" cy="110.1" rx="1.8" ry="1.8" fill="#b5803a" opacity="0.84"/>
<ellipse cx="645.5" cy="220.4" rx="1.7" ry="2.9" fill="#c08a3c" opacity="0.63"/>
<ellipse cx="643.5" cy="123.5" rx="1.9" ry="2.0" fill="#c08a3c" opacity="0.92"/>
<ellipse cx="670.9" cy="103.7" rx="1.1" ry="1.6" fill="#ad7630" opacity="0.79"/>
<ellipse cx="649.9" cy="101.0" rx="1.5" ry="1.7" fill="#b5803a" opacity="0.67"/>
<ellipse cx="671.9" cy="199.7" rx="1.6" ry="2.8" fill="#ad7630" opacity="0.92"/>
<ellipse cx="666.2" cy="61.9" rx="1.7" ry="2.4" fill="#c08a3c" opacity="0.84"/>
<ellipse cx="658.1" cy="217.8" rx="1.6" ry="1.8" fill="#c08a3c" opacity="0.69"/>
<ellipse cx="651.6" cy="186.5" rx="2.0" ry="2.4" fill="#c08a3c" opacity="0.80"/>
<ellipse cx="658.0" cy="173.9" rx="1.1" ry="1.7" fill="#b5803a" opacity="0.53"/>
<ellipse cx="660.3" cy="134.9" rx="1.3" ry="2.1" fill="#ad7630" opacity="0.69"/>
<ellipse cx="649.7" cy="84.6" rx="1.6" ry="2.0" fill="#ad7630" opacity="0.67"/>
<ellipse cx="672.0" cy="188.5" rx="1.4" ry="1.9" fill="#b5803a" opacity="0.74"/>
<ellipse cx="650.7" cy="188.9" rx="1.5" ry="2.2" fill="#ad7630" opacity="0.66"/>
<ellipse cx="644.5" cy="215.0" rx="1.4" ry="2.1" fill="#c08a3c" opacity="0.69"/>
<ellipse cx="670.7" cy="210.7" rx="1.0" ry="1.0" fill="#b5803a" opacity="0.82"/>
<ellipse cx="674.8" cy="141.5" rx="1.1" ry="1.9" fill="#b5803a" opacity="0.92"/>
<ellipse cx="674.9" cy="97.9" rx="1.1" ry="1.2" fill="#b87c2e" opacity="0.74"/>
<ellipse cx="673.9" cy="183.4" rx="1.6" ry="2.7" fill="#b87c2e" opacity="0.71"/>
<ellipse cx="641.3" cy="75.7" rx="1.6" ry="1.6" fill="#ad7630" opacity="0.82"/>
<ellipse cx="663.0" cy="148.5" rx="1.4" ry="2.3" fill="#c08a3c" opacity="0.54"/>
<ellipse cx="659.4" cy="158.3" rx="1.4" ry="1.6" fill="#b87c2e" opacity="0.77"/>
<ellipse cx="659.9" cy="233.0" rx="1.3" ry="1.6" fill="#ad7630" opacity="0.88"/>
<ellipse cx="657.7" cy="95.4" rx="1.2" ry="2.2" fill="#c08a3c" opacity="0.82"/>
<ellipse cx="643.2" cy="88.1" rx="1.9" ry="2.9" fill="#ad7630" opacity="0.54"/>
<ellipse cx="664.4" cy="220.2" rx="1.2" ry="1.3" fill="#b5803a" opacity="0.65"/>
<ellipse cx="653.8" cy="124.6" rx="1.0" ry="1.2" fill="#b87c2e" opacity="0.88"/>
<ellipse cx="648.4" cy="228.3" rx="1.3" ry="2.2" fill="#ad7630" opacity="0.60"/>
<ellipse cx="650.5" cy="213.7" rx="1.1" ry="1.7" fill="#ad7630" opacity="0.77"/>
<ellipse cx="658.1" cy="217.5" rx="1.1" ry="1.6" fill="#b87c2e" opacity="0.91"/>
<ellipse cx="648.7" cy="229.0" rx="1.1" ry="1.2" fill="#b5803a" opacity="0.53"/>
<ellipse cx="656.9" cy="181.7" rx="1.3" ry="1.4" fill="#ad7630" opacity="0.54"/>
<ellipse cx="652.7" cy="86.5" rx="1.9" ry="3.1" fill="#b5803a" opacity="0.51"/>
<ellipse cx="670.3" cy="231.0" rx="1.4" ry="1.6" fill="#b87c2e" opacity="0.54"/>
<ellipse cx="653.5" cy="225.7" rx="1.1" ry="2.0" fill="#c08a3c" opacity="0.59"/>
<ellipse cx="667.9" cy="108.8" rx="1.8" ry="1.9" fill="#ad7630" opacity="0.82"/>
<ellipse cx="654.2" cy="219.2" rx="1.2" ry="1.5" fill="#b87c2e" opacity="0.90"/>
<ellipse cx="663.2" cy="97.8" rx="1.6" ry="2.2" fill="#b5803a" opacity="0.67"/>
<ellipse cx="643.5" cy="219.3" rx="1.3" ry="2.0" fill="#c08a3c" opacity="0.90"/>
<ellipse cx="653.9" cy="113.5" rx="2.0" ry="2.0" fill="#c08a3c" opacity="0.84"/>
<ellipse cx="673.3" cy="106.7" rx="1.7" ry="2.5" fill="#b87c2e" opacity="0.86"/>
<ellipse cx="642.1" cy="95.3" rx="1.5" ry="2.6" fill="#b5803a" opacity="0.93"/>
<ellipse cx="668.6" cy="218.1" rx="1.8" ry="2.0" fill="#b87c2e" opacity="0.72"/>
<ellipse cx="669.1" cy="186.4" rx="1.8" ry="2.9" fill="#c08a3c" opacity="0.77"/>
<ellipse cx="671.1" cy="136.3" rx="1.8" ry="2.6" fill="#b5803a" opacity="0.73"/>
<ellipse cx="667.3" cy="97.7" rx="1.1" ry="1.1" fill="#c08a3c" opacity="0.75"/>
<ellipse cx="646.9" cy="130.1" rx="1.1" ry="1.2" fill="#ad7630" opacity="0.78"/>
<ellipse cx="644.6" cy="143.1" rx="1.7" ry="2.3" fill="#b5803a" opacity="0.61"/>
<ellipse cx="657.2" cy="214.1" rx="1.2" ry="1.8" fill="#b87c2e" opacity="0.85"/>
<ellipse cx="668.3" cy="106.1" rx="1.3" ry="1.6" fill="#c08a3c" opacity="0.61"/>
<ellipse cx="648.2" cy="97.7" rx="1.2" ry="1.4" fill="#ad7630" opacity="0.90"/>
<ellipse cx="652.6" cy="124.6" rx="2.0" ry="2.8" fill="#b87c2e" opacity="0.60"/>
<ellipse cx="663.9" cy="232.1" rx="1.1" ry="1.5" fill="#b5803a" opacity="0.87"/>
<ellipse cx="672.9" cy="60.3" rx="1.3" ry="1.4" fill="#ad7630" opacity="0.59"/>
<ellipse cx="673.5" cy="120.3" rx="1.9" ry="2.5" fill="#b87c2e" opacity="0.62"/>
<ellipse cx="645.0" cy="160.7" rx="1.6" ry="1.9" fill="#ad7630" opacity="0.67"/>
<ellipse cx="642.8" cy="233.7" rx="1.0" ry="1.6" fill="#b87c2e" opacity="0.91"/>
<ellipse cx="669.6" cy="126.9" rx="1.4" ry="2.1" fill="#b87c2e" opacity="0.54"/>
<ellipse cx="668.8" cy="152.0" rx="1.1" ry="1.1" fill="#ad7630" opacity="0.68"/>
<ellipse cx="663.4" cy="69.5" rx="1.2" ry="1.8" fill="#c08a3c" opacity="0.68"/>
<ellipse cx="664.4" cy="128.5" rx="1.1" ry="1.7" fill="#b5803a" opacity="0.90"/>
<ellipse cx="655.7" cy="209.2" rx="2.0" ry="2.6" fill="#b5803a" opacity="0.59"/>
<ellipse cx="648.3" cy="54.1" rx="1.9" ry="2.5" fill="#b5803a" opacity="0.87"/>
<ellipse cx="661.3" cy="118.9" rx="1.8" ry="2.0" fill="#ad7630" opacity="0.52"/>
<ellipse cx="663.5" cy="217.4" rx="1.1" ry="1.6" fill="#ad7630" opacity="0.67"/>
<ellipse cx="646.3" cy="104.2" rx="1.5" ry="2.6" fill="#b5803a" opacity="0.55"/>
<ellipse cx="667.4" cy="196.1" rx="1.8" ry="2.2" fill="#b87c2e" opacity="0.88"/>
<ellipse cx="675.1" cy="140.2" rx="1.1" ry="1.8" fill="#ad7630" opacity="0.67"/>
<ellipse cx="663.5" cy="207.8" rx="1.6" ry="2.4" fill="#b5803a" opacity="0.59"/>
<ellipse cx="647.6" cy="92.4" rx="1.4" ry="2.0" fill="#b87c2e" opacity="0.67"/>
<ellipse cx="646.5" cy="228.4" rx="1.8" ry="2.1" fill="#b87c2e" opacity="0.90"/>
<ellipse cx="664.4" cy="111.6" rx="1.4" ry="1.9" fill="#c08a3c" opacity="0.88"/>
<ellipse cx="663.8" cy="108.7" rx="1.2" ry="1.6" fill="#b5803a" opacity="0.67"/>
<ellipse cx="647.5" cy="53.6" rx="2.0" ry="2.7" fill="#b5803a" opacity="0.70"/>
<ellipse cx="670.2" cy="199.5" rx="1.4" ry="1.5" fill="#c08a3c" opacity="0.66"/>
<ellipse cx="644.5" cy="132.9" rx="1.5" ry="1.6" fill="#b87c2e" opacity="0.79"/>
<ellipse cx="673.2" cy="109.7" rx="1.7" ry="1.8" fill="#b5803a" opacity="0.84"/>
<ellipse cx="663.9" cy="194.7" rx="1.0" ry="1.1" fill="#b87c2e" opacity="0.78"/>
<ellipse cx="648.0" cy="230.4" rx="1.5" ry="2.6" fill="#ad7630" opacity="0.91"/>
<ellipse cx="665.0" cy="183.3" rx="1.2" ry="2.0" fill="#c08a3c" opacity="0.77"/>
<ellipse cx="646.8" cy="215.0" rx="1.3" ry="2.1" fill="#b5803a" opacity="0.56"/>
<ellipse cx="648.5" cy="100.5" rx="1.5" ry="1.9" fill="#ad7630" opacity="0.52"/>
<ellipse cx="655.3" cy="168.0" rx="1.3" ry="1.6" fill="#c08a3c" opacity="0.67"/>
<ellipse cx="645.3" cy="148.9" rx="1.6" ry="2.1" fill="#b87c2e" opacity="0.89"/>
<ellipse cx="650.0" cy="149.8" rx="1.9" ry="3.0" fill="#b5803a" opacity="0.67"/>
<ellipse cx="675.6" cy="157.3" rx="1.4" ry="2.2" fill="#ad7630" opacity="0.70"/>
<ellipse cx="662.6" cy="226.1" rx="1.3" ry="1.8" fill="#c08a3c" opacity="0.64"/>
<ellipse cx="666.7" cy="188.0" rx="1.2" ry="1.5" fill="#b5803a" opacity="0.78"/>
<ellipse cx="659.0" cy="214.8" rx="1.1" ry="1.3" fill="#b87c2e" opacity="0.79"/>
<ellipse cx="643.2" cy="155.5" rx="1.3" ry="1.8" fill="#b5803a" opacity="0.74"/>
<ellipse cx="661.5" cy="159.4" rx="1.2" ry="1.8" fill="#ad7630" opacity="0.71"/>
<ellipse cx="641.8" cy="197.8" rx="1.7" ry="2.3" fill="#ad7630" opacity="0.53"/>
<ellipse cx="671.4" cy="194.3" rx="1.4" ry="1.7" fill="#c08a3c" opacity="0.51"/>
<ellipse cx="661.9" cy="157.5" rx="1.6" ry="2.3" fill="#ad7630" opacity="0.72"/>
<ellipse cx="672.6" cy="61.0" rx="1.5" ry="2.0" fill="#b87c2e" opacity="0.61"/>
<ellipse cx="672.8" cy="72.0" rx="1.6" ry="2.5" fill="#b5803a" opacity="0.59"/>
<ellipse cx="648.2" cy="162.9" rx="1.5" ry="2.3" fill="#ad7630" opacity="0.87"/>
<ellipse cx="658.9" cy="64.5" rx="1.6" ry="2.9" fill="#b5803a" opacity="0.83"/>
<ellipse cx="666.1" cy="54.1" rx="1.8" ry="2.9" fill="#b5803a" opacity="0.71"/>
<ellipse cx="647.4" cy="233.1" rx="1.3" ry="1.9" fill="#c08a3c" opacity="0.56"/>
<ellipse cx="665.9" cy="101.1" rx="1.6" ry="2.1" fill="#c08a3c" opacity="0.85"/>
<ellipse cx="651.5" cy="220.8" rx="1.9" ry="2.0" fill="#ad7630" opacity="0.73"/>
<ellipse cx="650.3" cy="95.7" rx="1.7" ry="3.1" fill="#c08a3c" opacity="0.84"/>
<ellipse cx="647.9" cy="123.2" rx="1.6" ry="2.1" fill="#b5803a" opacity="0.88"/>
<ellipse cx="657.6" cy="148.9" rx="1.0" ry="1.0" fill="#ad7630" opacity="0.93"/>
<ellipse cx="661.0" cy="108.6" rx="1.2" ry="1.8" fill="#ad7630" opacity="0.54"/>
<ellipse cx="646.3" cy="57.9" rx="1.1" ry="1.9" fill="#ad7630" opacity="0.66"/>
<ellipse cx="665.5" cy="58.6" rx="1.1" ry="1.7" fill="#b87c2e" opacity="0.52"/>
<ellipse cx="666.8" cy="64.9" rx="1.6" ry="2.1" fill="#b87c2e" opacity="0.87"/>
<ellipse cx="671.7" cy="189.6" rx="1.7" ry="2.2" fill="#ad7630" opacity="0.61"/>
<ellipse cx="645.2" cy="59.2" rx="1.8" ry="3.0" fill="#c08a3c" opacity="0.79"/>
<ellipse cx="657.8" cy="77.0" rx="1.8" ry="2.7" fill="#c08a3c" opacity="0.63"/>
<ellipse cx="656.0" cy="56.8" rx="1.3" ry="1.5" fill="#c08a3c" opacity="0.82"/>
<ellipse cx="672.8" cy="192.0" rx="1.6" ry="2.2" fill="#b87c2e" opacity="0.63"/>
<ellipse cx="668.6" cy="58.6" rx="1.5" ry="1.6" fill="#b87c2e" opacity="0.71"/>
<ellipse cx="659.9" cy="92.1" rx="1.9" ry="2.0" fill="#ad7630" opacity="0.87"/>
<ellipse cx="656.4" cy="147.6" rx="1.3" ry="2.1" fill="#c08a3c" opacity="0.52"/>
<ellipse cx="658.3" cy="141.8" rx="1.8" ry="2.1" fill="#c08a3c" opacity="0.72"/>
<ellipse cx="674.4" cy="146.1" rx="1.6" ry="1.8" fill="#ad7630" opacity="0.87"/>
<ellipse cx="658.5" cy="72.9" rx="1.6" ry="1.7" fill="#b87c2e" opacity="0.85"/>
<ellipse cx="663.0" cy="117.3" rx="1.4" ry="1.8" fill="#b87c2e" opacity="0.90"/>
<ellipse cx="655.9" cy="169.7" rx="1.4" ry="1.7" fill="#ad7630" opacity="0.69"/>
<ellipse cx="654.4" cy="212.7" rx="1.2" ry="1.7" fill="#b87c2e" opacity="0.74"/>
<ellipse cx="653.4" cy="112.0" rx="1.2" ry="1.9" fill="#c08a3c" opacity="0.80"/>
<ellipse cx="647.2" cy="132.3" rx="1.8" ry="2.6" fill="#b5803a" opacity="0.56"/>
<ellipse cx="663.5" cy="178.9" rx="1.5" ry="1.8" fill="#ad7630" opacity="0.84"/>
<ellipse cx="666.3" cy="229.1" rx="1.7" ry="2.6" fill="#ad7630" opacity="0.66"/>
<ellipse cx="652.7" cy="87.2" rx="2.0" ry="3.1" fill="#b87c2e" opacity="0.55"/>
<ellipse cx="648.1" cy="80.3" rx="1.1" ry="1.4" fill="#c08a3c" opacity="0.63"/>
<ellipse cx="648.1" cy="168.3" rx="1.1" ry="1.3" fill="#b87c2e" opacity="0.67"/>
<ellipse cx="641.7" cy="207.4" rx="1.4" ry="1.7" fill="#c08a3c" opacity="0.94"/>
<ellipse cx="657.3" cy="78.6" rx="1.6" ry="2.1" fill="#b5803a" opacity="0.83"/>
<ellipse cx="665.6" cy="159.1" rx="1.6" ry="2.8" fill="#ad7630" opacity="0.80"/>
<ellipse cx="664.8" cy="168.9" rx="1.5" ry="1.8" fill="#b87c2e" opacity="0.78"/>
<ellipse cx="672.3" cy="96.8" rx="1.4" ry="2.2" fill="#b5803a" opacity="0.57"/>
<ellipse cx="658.0" cy="56.6" rx="1.9" ry="2.6" fill="#ad7630" opacity="0.80"/>
<ellipse cx="672.2" cy="112.3" rx="1.0" ry="1.7" fill="#b87c2e" opacity="0.91"/>
<ellipse cx="642.6" cy="151.2" rx="1.2" ry="1.9" fill="#c08a3c" opacity="0.92"/>
<ellipse cx="644.8" cy="156.8" rx="1.5" ry="2.4" fill="#c08a3c" opacity="0.73"/>
<ellipse cx="659.4" cy="127.2" rx="1.9" ry="2.3" fill="#b5803a" opacity="0.81"/>
<ellipse cx="659.1" cy="221.5" rx="1.7" ry="2.6" fill="#c08a3c" opacity="0.79"/>
<ellipse cx="650.8" cy="125.2" rx="1.0" ry="1.4" fill="#c08a3c" opacity="0.69"/>
<ellipse cx="661.4" cy="72.7" rx="1.3" ry="1.7" fill="#ad7630" opacity="0.93"/>
<ellipse cx="675.7" cy="226.6" rx="1.5" ry="1.7" fill="#b87c2e" opacity="0.92"/>
<ellipse cx="669.3" cy="167.6" rx="1.5" ry="2.1" fill="#ad7630" opacity="0.60"/>
<ellipse cx="653.5" cy="168.4" rx="1.8" ry="3.0" fill="#c08a3c" opacity="0.71"/>
<ellipse cx="667.6" cy="170.4" rx="1.8" ry="2.4" fill="#ad7630" opacity="0.85"/>
<ellipse cx="650.6" cy="121.0" rx="1.3" ry="1.7" fill="#b87c2e" opacity="0.58"/>
<ellipse cx="669.2" cy="197.4" rx="1.4" ry="2.1" fill="#b5803a" opacity="0.64"/>
<ellipse cx="656.1" cy="168.2" rx="1.7" ry="2.1" fill="#b5803a" opacity="0.92"/>
<ellipse cx="643.3" cy="202.6" rx="1.9" ry="3.1" fill="#c08a3c" opacity="0.56"/>
<ellipse cx="663.2" cy="55.7" rx="1.0" ry="1.8" fill="#c08a3c" opacity="0.80"/>
<ellipse cx="662.3" cy="157.5" rx="1.9" ry="2.1" fill="#ad7630" opacity="0.70"/>
<ellipse cx="648.5" cy="125.7" rx="1.5" ry="2.3" fill="#b87c2e" opacity="0.81"/>
<ellipse cx="664.4" cy="214.5" rx="1.8" ry="3.0" fill="#ad7630" opacity="0.59"/>
<ellipse cx="659.7" cy="187.1" rx="1.4" ry="2.5" fill="#c08a3c" opacity="0.75"/>
<ellipse cx="655.8" cy="202.4" rx="1.5" ry="2.1" fill="#ad7630" opacity="0.72"/>
<ellipse cx="665.5" cy="97.6" rx="1.2" ry="1.7" fill="#ad7630" opacity="0.83"/>
<ellipse cx="670.4" cy="137.6" rx="1.6" ry="2.4" fill="#c08a3c" opacity="0.88"/>
<ellipse cx="656.0" cy="233.7" rx="1.7" ry="1.9" fill="#b87c2e" opacity="0.66"/>
<ellipse cx="642.0" cy="61.3" rx="1.7" ry="3.1" fill="#b87c2e" opacity="0.86"/>
<ellipse cx="659.0" cy="140.6" rx="1.9" ry="1.9" fill="#ad7630" opacity="0.82"/>
<ellipse cx="653.0" cy="208.7" rx="1.4" ry="1.9" fill="#ad7630" opacity="0.74"/>
<ellipse cx="651.1" cy="114.8" rx="1.3" ry="1.3" fill="#c08a3c" opacity="0.63"/>
<ellipse cx="669.9" cy="126.0" rx="1.5" ry="1.8" fill="#ad7630" opacity="0.73"/>
<ellipse cx="663.9" cy="196.1" rx="1.3" ry="1.7" fill="#b87c2e" opacity="0.63"/>
<ellipse cx="668.4" cy="60.2" rx="1.7" ry="2.9" fill="#b87c2e" opacity="0.75"/>
<ellipse cx="655.1" cy="72.6" rx="1.0" ry="1.7" fill="#b87c2e" opacity="0.71"/>
<ellipse cx="668.6" cy="217.4" rx="1.6" ry="2.4" fill="#b87c2e" opacity="0.78"/>
<ellipse cx="648.7" cy="173.5" rx="1.5" ry="2.3" fill="#ad7630" opacity="0.55"/>
<ellipse cx="671.4" cy="129.2" rx="1.1" ry="1.9" fill="#ad7630" opacity="0.51"/>
<ellipse cx="668.5" cy="154.6" rx="1.3" ry="1.6" fill="#c08a3c" opacity="0.69"/>
<ellipse cx="642.0" cy="155.3" rx="1.6" ry="2.7" fill="#b87c2e" opacity="0.72"/>
<ellipse cx="669.8" cy="192.8" rx="1.4" ry="2.2" fill="#b87c2e" opacity="0.68"/>
<ellipse cx="641.8" cy="123.0" rx="1.6" ry="2.8" fill="#b5803a" opacity="0.94"/>
<ellipse cx="667.9" cy="152.2" rx="1.1" ry="1.5" fill="#b87c2e" opacity="0.90"/>
<ellipse cx="656.1" cy="54.7" rx="1.7" ry="3.0" fill="#ad7630" opacity="0.89"/>
<ellipse cx="671.4" cy="76.3" rx="1.0" ry="1.6" fill="#ad7630" opacity="0.61"/>
</g>
<rect x="679.3" y="52" width="36.2" height="182.7" fill="url(#leafN)"/>
<rect x="679.8" y="52" width="1.2" height="182.7" fill="#9cad72" opacity="0.48"/>
<rect x="682.9" y="52" width="1.2" height="182.7" fill="#a9b886" opacity="0.34"/>
<rect x="685.7" y="52" width="0.9" height="182.7" fill="#9cad72" opacity="0.52"/>
<rect x="687.3" y="52" width="0.5" height="182.7" fill="#a9b886" opacity="0.25"/>
<rect x="689.6" y="52" width="1.2" height="182.7" fill="#a9b886" opacity="0.37"/>
<rect x="691.9" y="52" width="1.0" height="182.7" fill="#84964f" opacity="0.43"/>
<rect x="694.1" y="52" width="1.3" height="182.7" fill="#84964f" opacity="0.39"/>
<rect x="696.2" y="52" width="1.3" height="182.7" fill="#a9b886" opacity="0.36"/>
<rect x="699.3" y="52" width="1.0" height="182.7" fill="#84964f" opacity="0.39"/>
<rect x="702.3" y="52" width="0.9" height="182.7" fill="#9cad72" opacity="0.49"/>
<rect x="704.7" y="52" width="0.7" height="182.7" fill="#a9b886" opacity="0.44"/>
<rect x="707.3" y="52" width="1.1" height="182.7" fill="#b3c093" opacity="0.35"/>
<rect x="710.1" y="52" width="1.3" height="182.7" fill="#778a46" opacity="0.43"/>
<rect x="712.5" y="52" width="0.8" height="182.7" fill="#778a46" opacity="0.36"/>
<g filter="url(#f0_85)" clip-path="url(#cl1)">
<ellipse cx="700.9" cy="214.9" rx="1.8" ry="2.2" fill="#c08a3c" opacity="0.45"/>
<ellipse cx="689.5" cy="81.4" rx="1.9" ry="3.1" fill="#c08a3c" opacity="0.77"/>
<ellipse cx="708.8" cy="199.7" rx="1.9" ry="2.7" fill="#b5803a" opacity="0.56"/>
<ellipse cx="692.2" cy="68.4" rx="1.6" ry="2.5" fill="#ad7630" opacity="0.53"/>
<ellipse cx="690.9" cy="63.4" rx="1.4" ry="2.2" fill="#b87c2e" opacity="0.83"/>
<ellipse cx="707.4" cy="136.1" rx="1.1" ry="1.8" fill="#ad7630" opacity="0.76"/>
<ellipse cx="693.9" cy="147.2" rx="1.3" ry="2.1" fill="#ad7630" opacity="0.58"/>
<ellipse cx="686.8" cy="87.8" rx="1.2" ry="1.8" fill="#c08a3c" opacity="0.60"/>
<ellipse cx="694.1" cy="146.5" rx="1.1" ry="1.2" fill="#c08a3c" opacity="0.85"/>
<ellipse cx="709.9" cy="120.2" rx="1.5" ry="1.6" fill="#b87c2e" opacity="0.58"/>
<ellipse cx="692.1" cy="146.9" rx="1.0" ry="1.0" fill="#b5803a" opacity="0.85"/>
<ellipse cx="700.4" cy="91.6" rx="1.9" ry="2.4" fill="#b5803a" opacity="0.49"/>
<ellipse cx="706.5" cy="201.0" rx="2.0" ry="2.4" fill="#ad7630" opacity="0.47"/>
<ellipse cx="714.3" cy="121.3" rx="1.0" ry="1.1" fill="#b5803a" opacity="0.60"/>
<ellipse cx="696.9" cy="205.8" rx="1.9" ry="3.2" fill="#b87c2e" opacity="0.71"/>
<ellipse cx="704.5" cy="69.3" rx="1.3" ry="1.6" fill="#b5803a" opacity="0.49"/>
<ellipse cx="686.5" cy="206.5" rx="1.4" ry="1.6" fill="#ad7630" opacity="0.74"/>
<ellipse cx="681.6" cy="99.2" rx="1.4" ry="2.3" fill="#b87c2e" opacity="0.82"/>
<ellipse cx="689.1" cy="145.8" rx="1.7" ry="2.8" fill="#b87c2e" opacity="0.65"/>
<ellipse cx="685.3" cy="189.4" rx="1.9" ry="3.0" fill="#b5803a" opacity="0.57"/>
<ellipse cx="706.2" cy="72.0" rx="1.3" ry="1.6" fill="#b5803a" opacity="0.50"/>
<ellipse cx="693.3" cy="132.8" rx="1.8" ry="3.1" fill="#b5803a" opacity="0.81"/>
<ellipse cx="704.8" cy="88.3" rx="1.0" ry="1.8" fill="#c08a3c" opacity="0.54"/>
<ellipse cx="710.7" cy="78.3" rx="1.4" ry="1.6" fill="#b87c2e" opacity="0.83"/>
<ellipse cx="701.8" cy="134.7" rx="1.3" ry="2.2" fill="#c08a3c" opacity="0.64"/>
<ellipse cx="685.2" cy="93.1" rx="1.1" ry="1.7" fill="#ad7630" opacity="0.67"/>
<ellipse cx="695.3" cy="80.0" rx="1.4" ry="1.7" fill="#c08a3c" opacity="0.46"/>
<ellipse cx="691.7" cy="83.3" rx="1.5" ry="1.9" fill="#b87c2e" opacity="0.82"/>
<ellipse cx="685.5" cy="145.8" rx="1.6" ry="2.7" fill="#b5803a" opacity="0.82"/>
<ellipse cx="708.9" cy="74.5" rx="1.8" ry="3.1" fill="#c08a3c" opacity="0.62"/>
<ellipse cx="714.4" cy="220.2" rx="1.1" ry="1.4" fill="#b87c2e" opacity="0.81"/>
<ellipse cx="708.8" cy="229.8" rx="1.1" ry="1.7" fill="#c08a3c" opacity="0.63"/>
<ellipse cx="697.8" cy="133.1" rx="1.8" ry="3.1" fill="#c08a3c" opacity="0.57"/>
<ellipse cx="695.2" cy="217.8" rx="1.2" ry="1.8" fill="#ad7630" opacity="0.51"/>
<ellipse cx="698.1" cy="94.6" rx="1.2" ry="1.7" fill="#b5803a" opacity="0.79"/>
<ellipse cx="706.3" cy="84.7" rx="1.1" ry="1.7" fill="#ad7630" opacity="0.70"/>
<ellipse cx="700.2" cy="89.6" rx="1.1" ry="1.7" fill="#b87c2e" opacity="0.62"/>
<ellipse cx="698.0" cy="115.8" rx="1.3" ry="1.9" fill="#b87c2e" opacity="0.83"/>
<ellipse cx="680.8" cy="217.5" rx="1.5" ry="2.5" fill="#ad7630" opacity="0.56"/>
<ellipse cx="699.6" cy="231.1" rx="1.0" ry="1.6" fill="#b87c2e" opacity="0.68"/>
<ellipse cx="692.5" cy="221.4" rx="2.0" ry="2.1" fill="#ad7630" opacity="0.59"/>
<ellipse cx="708.2" cy="209.4" rx="1.3" ry="2.1" fill="#b87c2e" opacity="0.60"/>
<ellipse cx="690.3" cy="72.5" rx="1.7" ry="2.3" fill="#ad7630" opacity="0.46"/>
<ellipse cx="681.0" cy="227.8" rx="1.2" ry="1.4" fill="#c08a3c" opacity="0.49"/>
<ellipse cx="699.3" cy="225.6" rx="1.0" ry="1.8" fill="#c08a3c" opacity="0.75"/>
<ellipse cx="680.9" cy="161.3" rx="1.6" ry="2.2" fill="#b87c2e" opacity="0.73"/>
<ellipse cx="692.3" cy="70.0" rx="1.2" ry="1.4" fill="#c08a3c" opacity="0.64"/>
<ellipse cx="684.1" cy="75.0" rx="1.9" ry="2.7" fill="#ad7630" opacity="0.54"/>
<ellipse cx="685.3" cy="156.5" rx="1.7" ry="2.0" fill="#b5803a" opacity="0.78"/>
<ellipse cx="704.0" cy="160.9" rx="1.6" ry="1.6" fill="#b87c2e" opacity="0.84"/>
<ellipse cx="706.9" cy="114.2" rx="1.2" ry="1.6" fill="#c08a3c" opacity="0.63"/>
<ellipse cx="708.2" cy="206.2" rx="1.1" ry="1.5" fill="#c08a3c" opacity="0.84"/>
<ellipse cx="688.8" cy="129.3" rx="1.6" ry="2.1" fill="#b87c2e" opacity="0.66"/>
<ellipse cx="691.4" cy="89.3" rx="1.7" ry="2.0" fill="#b5803a" opacity="0.62"/>
<ellipse cx="706.9" cy="222.3" rx="1.6" ry="2.7" fill="#b87c2e" opacity="0.81"/>
<ellipse cx="681.5" cy="168.9" rx="1.3" ry="2.0" fill="#b87c2e" opacity="0.56"/>
<ellipse cx="701.5" cy="98.3" rx="1.5" ry="2.0" fill="#c08a3c" opacity="0.84"/>
<ellipse cx="684.2" cy="115.8" rx="1.2" ry="1.2" fill="#c08a3c" opacity="0.84"/>
<ellipse cx="683.2" cy="159.7" rx="1.9" ry="2.6" fill="#c08a3c" opacity="0.66"/>
<ellipse cx="711.6" cy="157.3" rx="1.3" ry="2.0" fill="#c08a3c" opacity="0.75"/>
<ellipse cx="709.0" cy="163.2" rx="1.6" ry="2.4" fill="#c08a3c" opacity="0.53"/>
<ellipse cx="696.1" cy="152.0" rx="1.6" ry="2.2" fill="#ad7630" opacity="0.58"/>
<ellipse cx="691.7" cy="87.1" rx="1.5" ry="2.7" fill="#c08a3c" opacity="0.61"/>
<ellipse cx="685.9" cy="225.0" rx="1.3" ry="1.7" fill="#ad7630" opacity="0.56"/>
<ellipse cx="690.4" cy="192.5" rx="1.2" ry="1.2" fill="#b5803a" opacity="0.80"/>
<ellipse cx="702.8" cy="146.4" rx="1.8" ry="2.4" fill="#ad7630" opacity="0.76"/>
<ellipse cx="714.1" cy="175.5" rx="1.9" ry="2.6" fill="#ad7630" opacity="0.72"/>
<ellipse cx="703.4" cy="164.4" rx="1.8" ry="3.1" fill="#b5803a" opacity="0.66"/>
<ellipse cx="689.5" cy="167.0" rx="1.6" ry="2.6" fill="#b87c2e" opacity="0.62"/>
<ellipse cx="680.4" cy="191.4" rx="1.6" ry="2.2" fill="#ad7630" opacity="0.84"/>
<ellipse cx="694.6" cy="194.6" rx="1.9" ry="2.8" fill="#b5803a" opacity="0.60"/>
<ellipse cx="704.0" cy="105.1" rx="1.4" ry="1.7" fill="#b5803a" opacity="0.66"/>
<ellipse cx="702.5" cy="54.2" rx="1.7" ry="3.1" fill="#c08a3c" opacity="0.60"/>
<ellipse cx="686.6" cy="107.9" rx="1.1" ry="1.7" fill="#b87c2e" opacity="0.69"/>
<ellipse cx="708.4" cy="112.6" rx="2.0" ry="2.9" fill="#c08a3c" opacity="0.55"/>
<ellipse cx="687.3" cy="130.1" rx="1.9" ry="1.9" fill="#b5803a" opacity="0.47"/>
<ellipse cx="690.6" cy="149.9" rx="1.3" ry="2.0" fill="#b5803a" opacity="0.63"/>
<ellipse cx="693.6" cy="117.6" rx="1.6" ry="2.0" fill="#b87c2e" opacity="0.83"/>
<ellipse cx="698.3" cy="70.9" rx="1.4" ry="1.8" fill="#ad7630" opacity="0.68"/>
<ellipse cx="710.4" cy="227.3" rx="1.5" ry="2.0" fill="#c08a3c" opacity="0.70"/>
<ellipse cx="704.0" cy="187.9" rx="1.1" ry="1.4" fill="#b87c2e" opacity="0.60"/>
<ellipse cx="708.6" cy="145.6" rx="1.1" ry="1.9" fill="#b5803a" opacity="0.73"/>
<ellipse cx="701.9" cy="147.7" rx="1.8" ry="2.1" fill="#b5803a" opacity="0.81"/>
<ellipse cx="686.5" cy="166.9" rx="1.6" ry="2.1" fill="#b87c2e" opacity="0.85"/>
<ellipse cx="704.0" cy="54.9" rx="1.0" ry="1.6" fill="#c08a3c" opacity="0.67"/>
<ellipse cx="693.9" cy="70.8" rx="1.0" ry="1.0" fill="#c08a3c" opacity="0.52"/>
<ellipse cx="710.1" cy="214.8" rx="1.5" ry="1.7" fill="#b87c2e" opacity="0.53"/>
<ellipse cx="685.3" cy="146.7" rx="1.5" ry="1.5" fill="#b5803a" opacity="0.48"/>
<ellipse cx="708.5" cy="163.8" rx="1.8" ry="1.9" fill="#c08a3c" opacity="0.46"/>
<ellipse cx="685.2" cy="96.1" rx="1.3" ry="1.3" fill="#b87c2e" opacity="0.70"/>
<ellipse cx="692.2" cy="134.3" rx="1.4" ry="1.4" fill="#b87c2e" opacity="0.81"/>
<ellipse cx="695.3" cy="165.1" rx="1.2" ry="1.3" fill="#ad7630" opacity="0.83"/>
<ellipse cx="691.1" cy="215.4" rx="1.8" ry="2.3" fill="#b5803a" opacity="0.69"/>
<ellipse cx="713.8" cy="65.2" rx="1.7" ry="2.6" fill="#b5803a" opacity="0.69"/>
<ellipse cx="690.9" cy="211.2" rx="1.5" ry="2.4" fill="#ad7630" opacity="0.55"/>
<ellipse cx="686.1" cy="121.5" rx="1.0" ry="1.7" fill="#c08a3c" opacity="0.61"/>
<ellipse cx="684.2" cy="149.4" rx="1.4" ry="1.8" fill="#b87c2e" opacity="0.48"/>
<ellipse cx="694.7" cy="218.0" rx="1.6" ry="2.0" fill="#c08a3c" opacity="0.64"/>
<ellipse cx="688.4" cy="59.3" rx="1.7" ry="2.1" fill="#ad7630" opacity="0.51"/>
<ellipse cx="683.5" cy="101.7" rx="1.8" ry="2.0" fill="#ad7630" opacity="0.63"/>
<ellipse cx="685.7" cy="116.8" rx="1.7" ry="2.2" fill="#ad7630" opacity="0.84"/>
<ellipse cx="690.5" cy="139.0" rx="1.2" ry="2.0" fill="#c08a3c" opacity="0.72"/>
<ellipse cx="700.7" cy="132.6" rx="2.0" ry="2.8" fill="#ad7630" opacity="0.61"/>
<ellipse cx="684.6" cy="188.6" rx="1.7" ry="1.8" fill="#b5803a" opacity="0.80"/>
<ellipse cx="681.3" cy="182.8" rx="1.1" ry="1.2" fill="#ad7630" opacity="0.74"/>
<ellipse cx="706.8" cy="94.8" rx="1.2" ry="2.0" fill="#c08a3c" opacity="0.48"/>
<ellipse cx="707.8" cy="190.1" rx="1.2" ry="1.9" fill="#c08a3c" opacity="0.49"/>
<ellipse cx="684.6" cy="182.5" rx="1.3" ry="1.7" fill="#ad7630" opacity="0.82"/>
<ellipse cx="712.3" cy="84.9" rx="1.4" ry="2.2" fill="#b5803a" opacity="0.73"/>
<ellipse cx="681.2" cy="180.2" rx="1.5" ry="2.6" fill="#b87c2e" opacity="0.61"/>
<ellipse cx="686.5" cy="73.8" rx="1.9" ry="3.0" fill="#b87c2e" opacity="0.74"/>
<ellipse cx="694.1" cy="163.0" rx="1.4" ry="2.3" fill="#b87c2e" opacity="0.51"/>
<ellipse cx="699.2" cy="166.7" rx="1.9" ry="2.8" fill="#b5803a" opacity="0.54"/>
<ellipse cx="704.8" cy="99.0" rx="1.4" ry="2.2" fill="#b87c2e" opacity="0.59"/>
<ellipse cx="684.1" cy="191.0" rx="1.7" ry="2.8" fill="#b87c2e" opacity="0.80"/>
<ellipse cx="713.6" cy="176.1" rx="1.0" ry="1.3" fill="#c08a3c" opacity="0.76"/>
<ellipse cx="705.9" cy="68.6" rx="1.7" ry="2.2" fill="#ad7630" opacity="0.75"/>
<ellipse cx="689.9" cy="69.3" rx="1.9" ry="2.6" fill="#b5803a" opacity="0.83"/>
<ellipse cx="697.7" cy="175.3" rx="1.2" ry="1.9" fill="#ad7630" opacity="0.79"/>
<ellipse cx="697.0" cy="87.2" rx="2.0" ry="3.2" fill="#ad7630" opacity="0.68"/>
<ellipse cx="699.0" cy="228.2" rx="1.6" ry="2.4" fill="#b87c2e" opacity="0.55"/>
<ellipse cx="686.0" cy="115.7" rx="1.1" ry="1.6" fill="#b5803a" opacity="0.51"/>
<ellipse cx="703.2" cy="96.0" rx="1.2" ry="1.8" fill="#c08a3c" opacity="0.63"/>
<ellipse cx="704.2" cy="77.1" rx="1.7" ry="2.5" fill="#b87c2e" opacity="0.55"/>
<ellipse cx="699.1" cy="190.4" rx="1.2" ry="1.8" fill="#b5803a" opacity="0.69"/>
<ellipse cx="709.0" cy="126.4" rx="1.2" ry="1.9" fill="#b5803a" opacity="0.46"/>
<ellipse cx="687.4" cy="63.9" rx="1.3" ry="1.5" fill="#b5803a" opacity="0.73"/>
<ellipse cx="713.2" cy="82.2" rx="1.4" ry="2.1" fill="#b87c2e" opacity="0.57"/>
<ellipse cx="681.9" cy="137.7" rx="2.0" ry="2.7" fill="#c08a3c" opacity="0.75"/>
<ellipse cx="713.8" cy="154.9" rx="1.1" ry="1.5" fill="#ad7630" opacity="0.63"/>
<ellipse cx="707.1" cy="111.2" rx="1.4" ry="1.5" fill="#c08a3c" opacity="0.57"/>
<ellipse cx="702.6" cy="67.1" rx="1.7" ry="1.8" fill="#ad7630" opacity="0.61"/>
<ellipse cx="690.4" cy="86.6" rx="1.6" ry="2.7" fill="#ad7630" opacity="0.83"/>
<ellipse cx="683.8" cy="182.9" rx="1.3" ry="2.0" fill="#c08a3c" opacity="0.60"/>
<ellipse cx="691.2" cy="119.6" rx="1.6" ry="2.0" fill="#ad7630" opacity="0.79"/>
<ellipse cx="682.3" cy="72.4" rx="1.8" ry="3.1" fill="#b5803a" opacity="0.85"/>
<ellipse cx="711.3" cy="223.7" rx="1.5" ry="2.1" fill="#c08a3c" opacity="0.51"/>
<ellipse cx="700.9" cy="166.2" rx="1.1" ry="1.3" fill="#b5803a" opacity="0.51"/>
<ellipse cx="683.4" cy="60.2" rx="1.4" ry="1.7" fill="#b87c2e" opacity="0.74"/>
<ellipse cx="681.4" cy="163.4" rx="1.8" ry="2.6" fill="#b87c2e" opacity="0.51"/>
<ellipse cx="702.9" cy="146.0" rx="1.4" ry="1.8" fill="#ad7630" opacity="0.63"/>
<ellipse cx="711.2" cy="82.7" rx="1.3" ry="1.8" fill="#c08a3c" opacity="0.68"/>
<ellipse cx="699.7" cy="137.7" rx="1.5" ry="2.2" fill="#ad7630" opacity="0.62"/>
<ellipse cx="713.6" cy="226.8" rx="1.6" ry="2.7" fill="#c08a3c" opacity="0.47"/>
<ellipse cx="701.1" cy="106.7" rx="1.6" ry="2.8" fill="#ad7630" opacity="0.64"/>
<ellipse cx="690.5" cy="115.1" rx="1.9" ry="1.9" fill="#b5803a" opacity="0.53"/>
<ellipse cx="703.9" cy="79.5" rx="1.6" ry="2.3" fill="#c08a3c" opacity="0.83"/>
<ellipse cx="698.4" cy="155.1" rx="1.4" ry="1.5" fill="#ad7630" opacity="0.52"/>
<ellipse cx="699.0" cy="73.3" rx="1.9" ry="2.2" fill="#c08a3c" opacity="0.49"/>
<ellipse cx="704.6" cy="94.0" rx="1.5" ry="2.1" fill="#b87c2e" opacity="0.73"/>
<ellipse cx="709.4" cy="175.8" rx="1.8" ry="2.0" fill="#b87c2e" opacity="0.65"/>
<ellipse cx="701.7" cy="226.5" rx="1.5" ry="2.1" fill="#ad7630" opacity="0.73"/>
<ellipse cx="713.4" cy="87.6" rx="1.5" ry="1.6" fill="#b87c2e" opacity="0.60"/>
<ellipse cx="694.1" cy="61.5" rx="1.0" ry="1.6" fill="#b5803a" opacity="0.84"/>
<ellipse cx="690.6" cy="180.8" rx="1.4" ry="2.4" fill="#ad7630" opacity="0.70"/>
<ellipse cx="699.6" cy="218.8" rx="1.9" ry="2.1" fill="#c08a3c" opacity="0.75"/>
<ellipse cx="707.8" cy="186.0" rx="1.0" ry="1.2" fill="#c08a3c" opacity="0.55"/>
<ellipse cx="705.0" cy="60.9" rx="1.6" ry="1.7" fill="#b87c2e" opacity="0.67"/>
<ellipse cx="681.5" cy="217.5" rx="1.2" ry="1.6" fill="#b87c2e" opacity="0.73"/>
<ellipse cx="709.0" cy="158.1" rx="1.1" ry="1.1" fill="#c08a3c" opacity="0.49"/>
<ellipse cx="686.6" cy="153.2" rx="1.3" ry="2.0" fill="#ad7630" opacity="0.60"/>
<ellipse cx="700.4" cy="98.2" rx="2.0" ry="3.2" fill="#b5803a" opacity="0.56"/>
<ellipse cx="680.8" cy="114.9" rx="1.2" ry="1.6" fill="#b87c2e" opacity="0.80"/>
<ellipse cx="682.9" cy="165.1" rx="1.6" ry="2.4" fill="#ad7630" opacity="0.79"/>
<ellipse cx="704.0" cy="134.1" rx="1.2" ry="2.2" fill="#c08a3c" opacity="0.66"/>
<ellipse cx="691.6" cy="92.1" rx="1.9" ry="2.8" fill="#ad7630" opacity="0.47"/>
<ellipse cx="708.3" cy="184.4" rx="1.3" ry="1.8" fill="#c08a3c" opacity="0.83"/>
<ellipse cx="680.5" cy="157.7" rx="1.3" ry="1.4" fill="#b87c2e" opacity="0.64"/>
<ellipse cx="701.9" cy="184.4" rx="1.1" ry="1.5" fill="#c08a3c" opacity="0.48"/>
<ellipse cx="692.5" cy="156.6" rx="1.6" ry="1.8" fill="#b87c2e" opacity="0.73"/>
<ellipse cx="710.1" cy="192.9" rx="1.6" ry="2.5" fill="#c08a3c" opacity="0.60"/>
<ellipse cx="707.4" cy="96.0" rx="1.8" ry="2.0" fill="#c08a3c" opacity="0.48"/>
<ellipse cx="705.6" cy="145.0" rx="1.6" ry="2.1" fill="#b5803a" opacity="0.67"/>
<ellipse cx="691.7" cy="180.3" rx="1.7" ry="2.9" fill="#c08a3c" opacity="0.77"/>
<ellipse cx="710.9" cy="199.2" rx="2.0" ry="2.2" fill="#b5803a" opacity="0.53"/>
<ellipse cx="694.2" cy="124.6" rx="1.8" ry="3.1" fill="#ad7630" opacity="0.69"/>
<ellipse cx="690.6" cy="108.7" rx="1.7" ry="2.5" fill="#c08a3c" opacity="0.83"/>
<ellipse cx="682.8" cy="87.4" rx="1.9" ry="2.8" fill="#c08a3c" opacity="0.57"/>
<ellipse cx="714.1" cy="117.5" rx="1.8" ry="2.4" fill="#b87c2e" opacity="0.80"/>
<ellipse cx="709.0" cy="110.7" rx="1.2" ry="2.0" fill="#ad7630" opacity="0.67"/>
<ellipse cx="701.7" cy="95.8" rx="1.0" ry="1.1" fill="#c08a3c" opacity="0.63"/>
<ellipse cx="709.9" cy="170.1" rx="1.2" ry="1.9" fill="#b87c2e" opacity="0.84"/>
<ellipse cx="683.0" cy="199.3" rx="1.9" ry="2.4" fill="#ad7630" opacity="0.51"/>
<ellipse cx="689.6" cy="169.1" rx="1.0" ry="1.3" fill="#c08a3c" opacity="0.46"/>
<ellipse cx="691.5" cy="188.4" rx="1.6" ry="2.2" fill="#c08a3c" opacity="0.72"/>
<ellipse cx="686.3" cy="209.0" rx="1.8" ry="1.9" fill="#b5803a" opacity="0.70"/>
<ellipse cx="714.1" cy="125.2" rx="1.9" ry="3.3" fill="#c08a3c" opacity="0.46"/>
<ellipse cx="699.6" cy="231.4" rx="1.1" ry="1.6" fill="#c08a3c" opacity="0.74"/>
<ellipse cx="685.7" cy="56.4" rx="1.2" ry="1.7" fill="#c08a3c" opacity="0.79"/>
<ellipse cx="708.1" cy="129.5" rx="1.5" ry="2.3" fill="#c08a3c" opacity="0.67"/>
</g>
<rect x="718.4" y="52" width="36.4" height="182.7" fill="url(#leafN)"/>
<rect x="718.9" y="52" width="0.7" height="182.7" fill="#b3c093" opacity="0.33"/>
<rect x="721.5" y="52" width="1.1" height="182.7" fill="#9cad72" opacity="0.45"/>
<rect x="724.2" y="52" width="1.1" height="182.7" fill="#b3c093" opacity="0.33"/>
<rect x="726.8" y="52" width="1.3" height="182.7" fill="#778a46" opacity="0.33"/>
<rect x="729.6" y="52" width="0.6" height="182.7" fill="#9cad72" opacity="0.30"/>
<rect x="731.9" y="52" width="0.8" height="182.7" fill="#a9b886" opacity="0.53"/>
<rect x="734.5" y="52" width="0.6" height="182.7" fill="#b3c093" opacity="0.40"/>
<rect x="736.7" y="52" width="0.6" height="182.7" fill="#b3c093" opacity="0.36"/>
<rect x="738.2" y="52" width="0.6" height="182.7" fill="#778a46" opacity="0.41"/>
<rect x="740.1" y="52" width="1.1" height="182.7" fill="#84964f" opacity="0.54"/>
<rect x="742.6" y="52" width="1.0" height="182.7" fill="#9cad72" opacity="0.52"/>
<rect x="744.9" y="52" width="0.7" height="182.7" fill="#a9b886" opacity="0.28"/>
<rect x="747.5" y="52" width="0.6" height="182.7" fill="#84964f" opacity="0.45"/>
<rect x="749.3" y="52" width="0.7" height="182.7" fill="#84964f" opacity="0.37"/>
<rect x="752.3" y="52" width="1.3" height="182.7" fill="#778a46" opacity="0.26"/>
<rect x="754.1" y="52" width="1.1" height="182.7" fill="#778a46" opacity="0.32"/>
<g filter="url(#f0_85)" clip-path="url(#cl2)">
<ellipse cx="745.5" cy="169.1" rx="1.3" ry="2.3" fill="#ad7630" opacity="0.45"/>
<ellipse cx="735.8" cy="221.8" rx="1.8" ry="3.1" fill="#c08a3c" opacity="0.42"/>
<ellipse cx="729.1" cy="112.9" rx="1.5" ry="2.5" fill="#b5803a" opacity="0.43"/>
<ellipse cx="726.7" cy="62.4" rx="1.8" ry="3.0" fill="#b87c2e" opacity="0.62"/>
<ellipse cx="746.2" cy="209.0" rx="1.2" ry="2.0" fill="#c08a3c" opacity="0.71"/>
<ellipse cx="743.0" cy="198.5" rx="1.2" ry="2.0" fill="#c08a3c" opacity="0.42"/>
<ellipse cx="724.6" cy="186.0" rx="1.1" ry="1.2" fill="#b87c2e" opacity="0.61"/>
<ellipse cx="733.6" cy="169.0" rx="1.7" ry="2.2" fill="#b87c2e" opacity="0.49"/>
<ellipse cx="739.5" cy="89.4" rx="1.6" ry="1.6" fill="#ad7630" opacity="0.42"/>
<ellipse cx="739.2" cy="179.2" rx="1.7" ry="1.8" fill="#b87c2e" opacity="0.68"/>
<ellipse cx="749.6" cy="74.8" rx="1.5" ry="1.6" fill="#ad7630" opacity="0.52"/>
<ellipse cx="727.1" cy="150.7" rx="1.6" ry="2.3" fill="#c08a3c" opacity="0.71"/>
<ellipse cx="748.3" cy="226.0" rx="1.1" ry="1.9" fill="#ad7630" opacity="0.66"/>
<ellipse cx="744.6" cy="102.3" rx="1.2" ry="1.4" fill="#b87c2e" opacity="0.40"/>
<ellipse cx="726.2" cy="61.6" rx="1.8" ry="3.2" fill="#c08a3c" opacity="0.47"/>
<ellipse cx="743.1" cy="171.0" rx="1.5" ry="2.2" fill="#c08a3c" opacity="0.61"/>
<ellipse cx="733.1" cy="110.5" rx="1.4" ry="2.5" fill="#b5803a" opacity="0.51"/>
<ellipse cx="749.7" cy="198.2" rx="1.9" ry="2.9" fill="#c08a3c" opacity="0.46"/>
<ellipse cx="743.3" cy="184.9" rx="2.0" ry="3.3" fill="#b87c2e" opacity="0.60"/>
<ellipse cx="748.4" cy="194.7" rx="1.9" ry="2.0" fill="#c08a3c" opacity="0.61"/>
<ellipse cx="743.0" cy="132.9" rx="1.7" ry="2.3" fill="#b5803a" opacity="0.57"/>
<ellipse cx="745.1" cy="207.2" rx="1.5" ry="2.2" fill="#ad7630" opacity="0.71"/>
<ellipse cx="747.8" cy="196.0" rx="1.9" ry="2.4" fill="#c08a3c" opacity="0.40"/>
<ellipse cx="740.5" cy="175.4" rx="1.3" ry="2.0" fill="#ad7630" opacity="0.56"/>
<ellipse cx="751.2" cy="191.3" rx="1.3" ry="2.1" fill="#c08a3c" opacity="0.66"/>
<ellipse cx="737.4" cy="139.1" rx="1.2" ry="1.4" fill="#c08a3c" opacity="0.69"/>
<ellipse cx="737.4" cy="148.3" rx="1.8" ry="2.2" fill="#b5803a" opacity="0.43"/>
<ellipse cx="725.5" cy="224.2" rx="1.9" ry="2.8" fill="#c08a3c" opacity="0.68"/>
<ellipse cx="732.5" cy="203.4" rx="1.8" ry="2.0" fill="#c08a3c" opacity="0.43"/>
<ellipse cx="732.3" cy="118.9" rx="1.7" ry="2.4" fill="#b87c2e" opacity="0.48"/>
<ellipse cx="728.9" cy="105.5" rx="1.4" ry="1.6" fill="#ad7630" opacity="0.59"/>
<ellipse cx="745.5" cy="80.1" rx="1.7" ry="2.2" fill="#ad7630" opacity="0.55"/>
<ellipse cx="740.8" cy="147.6" rx="1.8" ry="2.2" fill="#b87c2e" opacity="0.56"/>
<ellipse cx="739.0" cy="63.4" rx="1.2" ry="1.9" fill="#c08a3c" opacity="0.47"/>
<ellipse cx="728.2" cy="101.0" rx="1.4" ry="2.0" fill="#b87c2e" opacity="0.54"/>
<ellipse cx="726.3" cy="129.5" rx="1.8" ry="2.7" fill="#b87c2e" opacity="0.50"/>
<ellipse cx="744.1" cy="120.9" rx="1.0" ry="1.7" fill="#b5803a" opacity="0.70"/>
<ellipse cx="741.7" cy="199.5" rx="1.4" ry="1.8" fill="#ad7630" opacity="0.57"/>
<ellipse cx="753.0" cy="206.9" rx="1.6" ry="1.7" fill="#b87c2e" opacity="0.44"/>
<ellipse cx="722.1" cy="133.5" rx="1.4" ry="1.9" fill="#b87c2e" opacity="0.69"/>
<ellipse cx="723.1" cy="154.8" rx="1.9" ry="3.0" fill="#b5803a" opacity="0.52"/>
<ellipse cx="725.5" cy="64.8" rx="1.4" ry="1.5" fill="#b87c2e" opacity="0.63"/>
<ellipse cx="742.5" cy="186.8" rx="1.4" ry="1.4" fill="#c08a3c" opacity="0.60"/>
<ellipse cx="745.9" cy="192.1" rx="1.1" ry="1.3" fill="#b87c2e" opacity="0.40"/>
<ellipse cx="722.9" cy="68.9" rx="1.8" ry="2.5" fill="#ad7630" opacity="0.39"/>
<ellipse cx="743.9" cy="140.2" rx="1.1" ry="1.6" fill="#ad7630" opacity="0.52"/>
<ellipse cx="753.7" cy="200.6" rx="1.9" ry="2.1" fill="#b87c2e" opacity="0.49"/>
<ellipse cx="725.8" cy="150.4" rx="1.5" ry="1.6" fill="#c08a3c" opacity="0.50"/>
<ellipse cx="738.5" cy="145.3" rx="1.4" ry="1.5" fill="#b5803a" opacity="0.48"/>
<ellipse cx="747.0" cy="207.8" rx="1.3" ry="1.5" fill="#c08a3c" opacity="0.39"/>
<ellipse cx="751.5" cy="171.6" rx="1.7" ry="1.9" fill="#c08a3c" opacity="0.69"/>
<ellipse cx="726.3" cy="219.1" rx="1.6" ry="1.6" fill="#b87c2e" opacity="0.48"/>
<ellipse cx="733.5" cy="155.1" rx="1.3" ry="1.6" fill="#c08a3c" opacity="0.64"/>
<ellipse cx="726.3" cy="90.8" rx="2.0" ry="2.9" fill="#b5803a" opacity="0.51"/>
<ellipse cx="726.4" cy="89.7" rx="1.2" ry="2.0" fill="#ad7630" opacity="0.42"/>
<ellipse cx="749.1" cy="66.0" rx="1.6" ry="1.8" fill="#ad7630" opacity="0.69"/>
<ellipse cx="736.5" cy="174.8" rx="1.7" ry="2.1" fill="#ad7630" opacity="0.45"/>
<ellipse cx="724.4" cy="218.9" rx="1.2" ry="1.3" fill="#b87c2e" opacity="0.41"/>
<ellipse cx="752.1" cy="127.9" rx="1.7" ry="2.0" fill="#b5803a" opacity="0.68"/>
<ellipse cx="724.7" cy="63.2" rx="1.7" ry="1.8" fill="#c08a3c" opacity="0.66"/>
<ellipse cx="745.5" cy="211.1" rx="1.8" ry="2.8" fill="#c08a3c" opacity="0.62"/>
<ellipse cx="750.8" cy="111.6" rx="1.8" ry="2.1" fill="#ad7630" opacity="0.64"/>
<ellipse cx="732.9" cy="59.0" rx="1.4" ry="2.1" fill="#b87c2e" opacity="0.45"/>
<ellipse cx="726.2" cy="79.9" rx="1.2" ry="1.5" fill="#b87c2e" opacity="0.51"/>
<ellipse cx="747.9" cy="75.1" rx="1.9" ry="3.5" fill="#b87c2e" opacity="0.69"/>
<ellipse cx="729.4" cy="115.9" rx="1.8" ry="2.4" fill="#b87c2e" opacity="0.69"/>
<ellipse cx="726.3" cy="103.6" rx="1.3" ry="1.9" fill="#ad7630" opacity="0.63"/>
<ellipse cx="724.2" cy="102.0" rx="1.9" ry="3.2" fill="#c08a3c" opacity="0.45"/>
<ellipse cx="720.5" cy="161.2" rx="2.0" ry="2.5" fill="#c08a3c" opacity="0.69"/>
<ellipse cx="721.1" cy="113.2" rx="1.4" ry="1.7" fill="#ad7630" opacity="0.63"/>
<ellipse cx="723.2" cy="203.3" rx="1.8" ry="2.9" fill="#b87c2e" opacity="0.53"/>
<ellipse cx="746.5" cy="160.6" rx="1.5" ry="1.5" fill="#b87c2e" opacity="0.55"/>
<ellipse cx="733.6" cy="178.9" rx="1.4" ry="2.4" fill="#ad7630" opacity="0.40"/>
<ellipse cx="731.8" cy="172.8" rx="1.1" ry="1.1" fill="#b5803a" opacity="0.59"/>
<ellipse cx="729.8" cy="100.2" rx="1.1" ry="1.3" fill="#c08a3c" opacity="0.43"/>
<ellipse cx="737.8" cy="74.2" rx="1.5" ry="1.7" fill="#c08a3c" opacity="0.56"/>
<ellipse cx="732.0" cy="88.7" rx="1.4" ry="1.6" fill="#ad7630" opacity="0.42"/>
<ellipse cx="744.4" cy="149.6" rx="1.2" ry="1.3" fill="#b87c2e" opacity="0.41"/>
<ellipse cx="736.2" cy="195.9" rx="1.6" ry="2.4" fill="#ad7630" opacity="0.45"/>
<ellipse cx="724.7" cy="100.7" rx="1.0" ry="1.4" fill="#c08a3c" opacity="0.55"/>
<ellipse cx="739.0" cy="74.8" rx="1.7" ry="2.0" fill="#b87c2e" opacity="0.46"/>
<ellipse cx="747.7" cy="66.2" rx="1.3" ry="1.4" fill="#ad7630" opacity="0.45"/>
<ellipse cx="747.4" cy="114.8" rx="1.8" ry="2.5" fill="#b87c2e" opacity="0.69"/>
<ellipse cx="730.3" cy="221.3" rx="1.8" ry="1.8" fill="#ad7630" opacity="0.64"/>
<ellipse cx="744.6" cy="175.7" rx="1.2" ry="1.5" fill="#ad7630" opacity="0.42"/>
<ellipse cx="751.2" cy="177.0" rx="1.7" ry="1.8" fill="#b5803a" opacity="0.38"/>
<ellipse cx="720.7" cy="148.0" rx="1.3" ry="1.4" fill="#b87c2e" opacity="0.58"/>
<ellipse cx="726.2" cy="166.0" rx="1.8" ry="3.0" fill="#c08a3c" opacity="0.41"/>
<ellipse cx="739.4" cy="198.2" rx="1.5" ry="2.4" fill="#c08a3c" opacity="0.54"/>
<ellipse cx="747.9" cy="222.3" rx="1.9" ry="3.0" fill="#ad7630" opacity="0.66"/>
<ellipse cx="734.4" cy="202.1" rx="1.8" ry="3.0" fill="#b87c2e" opacity="0.48"/>
<ellipse cx="721.7" cy="194.5" rx="1.8" ry="2.9" fill="#ad7630" opacity="0.66"/>
<ellipse cx="726.2" cy="135.7" rx="1.2" ry="1.7" fill="#b87c2e" opacity="0.68"/>
<ellipse cx="732.9" cy="194.6" rx="1.8" ry="2.8" fill="#b5803a" opacity="0.69"/>
<ellipse cx="733.4" cy="68.7" rx="1.7" ry="2.8" fill="#b5803a" opacity="0.49"/>
<ellipse cx="746.7" cy="53.8" rx="1.5" ry="1.5" fill="#b5803a" opacity="0.41"/>
<ellipse cx="733.8" cy="162.3" rx="1.5" ry="1.8" fill="#c08a3c" opacity="0.45"/>
<ellipse cx="732.9" cy="137.2" rx="1.0" ry="1.3" fill="#ad7630" opacity="0.71"/>
<ellipse cx="743.5" cy="132.9" rx="1.7" ry="2.7" fill="#b87c2e" opacity="0.42"/>
<ellipse cx="732.3" cy="215.0" rx="1.4" ry="1.8" fill="#ad7630" opacity="0.43"/>
<ellipse cx="727.1" cy="213.8" rx="1.6" ry="2.8" fill="#b5803a" opacity="0.51"/>
<ellipse cx="730.4" cy="211.3" rx="1.8" ry="2.7" fill="#ad7630" opacity="0.66"/>
<ellipse cx="732.8" cy="54.6" rx="1.9" ry="2.0" fill="#c08a3c" opacity="0.46"/>
<ellipse cx="744.7" cy="175.2" rx="2.0" ry="3.2" fill="#b5803a" opacity="0.63"/>
<ellipse cx="724.0" cy="189.1" rx="1.3" ry="1.7" fill="#c08a3c" opacity="0.55"/>
<ellipse cx="734.7" cy="226.1" rx="1.4" ry="2.1" fill="#b5803a" opacity="0.59"/>
<ellipse cx="751.7" cy="199.1" rx="1.1" ry="1.6" fill="#b87c2e" opacity="0.54"/>
<ellipse cx="721.4" cy="203.9" rx="1.7" ry="2.4" fill="#ad7630" opacity="0.53"/>
<ellipse cx="744.5" cy="188.5" rx="1.0" ry="1.3" fill="#c08a3c" opacity="0.42"/>
<ellipse cx="724.4" cy="159.2" rx="1.6" ry="1.6" fill="#c08a3c" opacity="0.51"/>
<ellipse cx="741.0" cy="96.7" rx="1.8" ry="1.8" fill="#b5803a" opacity="0.56"/>
<ellipse cx="741.7" cy="198.4" rx="1.7" ry="2.2" fill="#c08a3c" opacity="0.70"/>
<ellipse cx="743.2" cy="103.1" rx="1.2" ry="1.7" fill="#c08a3c" opacity="0.65"/>
<ellipse cx="750.1" cy="89.3" rx="1.8" ry="1.9" fill="#ad7630" opacity="0.48"/>
<ellipse cx="742.8" cy="217.0" rx="1.6" ry="2.8" fill="#c08a3c" opacity="0.64"/>
<ellipse cx="752.5" cy="86.8" rx="1.3" ry="2.3" fill="#c08a3c" opacity="0.44"/>
<ellipse cx="751.3" cy="125.8" rx="1.7" ry="2.2" fill="#b5803a" opacity="0.48"/>
<ellipse cx="728.6" cy="89.9" rx="1.9" ry="2.6" fill="#ad7630" opacity="0.66"/>
<ellipse cx="746.2" cy="109.9" rx="1.2" ry="1.8" fill="#b5803a" opacity="0.53"/>
<ellipse cx="745.3" cy="102.8" rx="1.4" ry="2.4" fill="#c08a3c" opacity="0.55"/>
<ellipse cx="748.7" cy="74.9" rx="1.4" ry="1.5" fill="#c08a3c" opacity="0.55"/>
<ellipse cx="731.6" cy="222.8" rx="1.3" ry="1.5" fill="#b87c2e" opacity="0.40"/>
<ellipse cx="745.3" cy="175.5" rx="1.4" ry="2.3" fill="#c08a3c" opacity="0.41"/>
<ellipse cx="725.1" cy="84.9" rx="1.7" ry="2.7" fill="#b5803a" opacity="0.41"/>
<ellipse cx="733.0" cy="222.9" rx="1.7" ry="2.2" fill="#c08a3c" opacity="0.51"/>
<ellipse cx="731.4" cy="86.6" rx="1.9" ry="2.7" fill="#c08a3c" opacity="0.55"/>
<ellipse cx="724.0" cy="114.2" rx="1.1" ry="1.4" fill="#ad7630" opacity="0.54"/>
<ellipse cx="739.3" cy="125.9" rx="1.6" ry="1.9" fill="#ad7630" opacity="0.66"/>
<ellipse cx="724.6" cy="174.3" rx="1.8" ry="2.5" fill="#b87c2e" opacity="0.68"/>
<ellipse cx="745.0" cy="201.4" rx="1.6" ry="2.8" fill="#b5803a" opacity="0.42"/>
<ellipse cx="740.5" cy="102.7" rx="1.1" ry="1.6" fill="#c08a3c" opacity="0.65"/>
<ellipse cx="740.3" cy="216.3" rx="1.3" ry="1.7" fill="#b87c2e" opacity="0.57"/>
<ellipse cx="731.8" cy="179.4" rx="1.1" ry="1.8" fill="#b87c2e" opacity="0.48"/>
<ellipse cx="735.1" cy="191.1" rx="1.4" ry="2.0" fill="#b87c2e" opacity="0.70"/>
<ellipse cx="720.8" cy="202.5" rx="1.1" ry="1.3" fill="#c08a3c" opacity="0.59"/>
<ellipse cx="752.6" cy="148.9" rx="1.2" ry="1.8" fill="#c08a3c" opacity="0.65"/>
<ellipse cx="748.3" cy="199.1" rx="1.5" ry="1.6" fill="#b87c2e" opacity="0.64"/>
<ellipse cx="747.3" cy="101.4" rx="1.4" ry="2.4" fill="#b87c2e" opacity="0.47"/>
<ellipse cx="739.5" cy="125.3" rx="1.5" ry="2.2" fill="#b87c2e" opacity="0.45"/>
<ellipse cx="747.1" cy="226.7" rx="1.3" ry="2.4" fill="#b5803a" opacity="0.40"/>
</g>
<rect x="778.0" y="52" width="36.6" height="182.7" fill="url(#leafH)"/>
<rect x="778.5" y="52" width="1.0" height="182.7" fill="#84964f" opacity="0.39"/>
<rect x="781.3" y="52" width="1.1" height="182.7" fill="#84964f" opacity="0.31"/>
<rect x="784.1" y="52" width="0.6" height="182.7" fill="#778a46" opacity="0.33"/>
<rect x="785.6" y="52" width="1.1" height="182.7" fill="#b3c093" opacity="0.25"/>
<rect x="788.7" y="52" width="1.1" height="182.7" fill="#778a46" opacity="0.48"/>
<rect x="790.8" y="52" width="1.1" height="182.7" fill="#9cad72" opacity="0.47"/>
<rect x="794.2" y="52" width="1.2" height="182.7" fill="#b3c093" opacity="0.47"/>
<rect x="796.1" y="52" width="0.7" height="182.7" fill="#a9b886" opacity="0.50"/>
<rect x="798.6" y="52" width="1.1" height="182.7" fill="#b3c093" opacity="0.33"/>
<rect x="800.9" y="52" width="0.6" height="182.7" fill="#9cad72" opacity="0.55"/>
<rect x="802.7" y="52" width="0.5" height="182.7" fill="#778a46" opacity="0.46"/>
<rect x="804.6" y="52" width="0.5" height="182.7" fill="#84964f" opacity="0.48"/>
<rect x="806.3" y="52" width="1.2" height="182.7" fill="#9cad72" opacity="0.48"/>
<rect x="809.0" y="52" width="1.3" height="182.7" fill="#9cad72" opacity="0.49"/>
<rect x="811.7" y="52" width="1.2" height="182.7" fill="#778a46" opacity="0.50"/>
<g filter="url(#f0_85)" clip-path="url(#cl3)">
<ellipse cx="787.7" cy="123.3" rx="1.1" ry="1.7" fill="#b08440" opacity="0.55"/>
<ellipse cx="803.6" cy="223.8" rx="1.6" ry="2.1" fill="#a8803e" opacity="0.50"/>
<ellipse cx="784.6" cy="215.0" rx="1.1" ry="1.3" fill="#b88c48" opacity="0.33"/>
<ellipse cx="799.3" cy="121.5" rx="0.8" ry="1.3" fill="#a8803e" opacity="0.51"/>
<ellipse cx="806.0" cy="89.9" rx="1.3" ry="2.2" fill="#a8803e" opacity="0.53"/>
<ellipse cx="800.6" cy="213.0" rx="1.2" ry="1.8" fill="#b08440" opacity="0.36"/>
<ellipse cx="786.1" cy="117.1" rx="1.5" ry="1.6" fill="#b08440" opacity="0.54"/>
<ellipse cx="794.2" cy="156.4" rx="1.5" ry="2.4" fill="#b08440" opacity="0.55"/>
<ellipse cx="798.7" cy="183.0" rx="1.5" ry="1.7" fill="#b88c48" opacity="0.48"/>
<ellipse cx="813.3" cy="182.5" rx="1.2" ry="2.0" fill="#b08440" opacity="0.46"/>
<ellipse cx="810.5" cy="161.3" rx="0.9" ry="1.0" fill="#b08440" opacity="0.57"/>
<ellipse cx="779.2" cy="155.3" rx="1.4" ry="1.6" fill="#b88c48" opacity="0.50"/>
<ellipse cx="780.3" cy="69.9" rx="1.6" ry="2.6" fill="#b08440" opacity="0.31"/>
<ellipse cx="792.9" cy="223.1" rx="1.6" ry="2.5" fill="#b88c48" opacity="0.31"/>
<ellipse cx="801.1" cy="219.1" rx="1.0" ry="1.1" fill="#b08440" opacity="0.30"/>
<ellipse cx="805.3" cy="212.4" rx="0.9" ry="1.0" fill="#b88c48" opacity="0.44"/>
<ellipse cx="796.7" cy="72.1" rx="1.4" ry="2.4" fill="#b08440" opacity="0.55"/>
<ellipse cx="781.5" cy="58.4" rx="1.3" ry="1.4" fill="#b88c48" opacity="0.45"/>
<ellipse cx="799.6" cy="197.5" rx="0.9" ry="0.9" fill="#a8803e" opacity="0.45"/>
<ellipse cx="794.8" cy="174.2" rx="1.2" ry="1.5" fill="#b88c48" opacity="0.35"/>
<ellipse cx="807.1" cy="135.8" rx="0.9" ry="1.4" fill="#a8803e" opacity="0.36"/>
<ellipse cx="813.0" cy="163.7" rx="0.9" ry="1.2" fill="#b08440" opacity="0.48"/>
<ellipse cx="804.3" cy="206.5" rx="1.5" ry="1.6" fill="#a8803e" opacity="0.40"/>
<ellipse cx="789.7" cy="106.4" rx="1.2" ry="1.7" fill="#b08440" opacity="0.39"/>
<ellipse cx="779.2" cy="66.6" rx="0.9" ry="1.4" fill="#b88c48" opacity="0.46"/>
<ellipse cx="792.3" cy="230.8" rx="1.5" ry="2.2" fill="#b88c48" opacity="0.36"/>
<ellipse cx="805.0" cy="67.4" rx="0.8" ry="0.9" fill="#b88c48" opacity="0.50"/>
<ellipse cx="802.6" cy="206.6" rx="1.1" ry="1.9" fill="#a8803e" opacity="0.35"/>
<ellipse cx="794.3" cy="180.7" rx="1.0" ry="1.2" fill="#a8803e" opacity="0.39"/>
<ellipse cx="792.2" cy="82.3" rx="0.9" ry="1.6" fill="#a8803e" opacity="0.48"/>
<ellipse cx="805.4" cy="204.2" rx="1.6" ry="2.6" fill="#b08440" opacity="0.37"/>
<ellipse cx="779.5" cy="150.2" rx="1.1" ry="1.5" fill="#a8803e" opacity="0.40"/>
<ellipse cx="779.1" cy="192.3" rx="1.0" ry="1.3" fill="#b08440" opacity="0.32"/>
<ellipse cx="782.6" cy="202.2" rx="1.1" ry="1.6" fill="#b88c48" opacity="0.40"/>
<ellipse cx="783.2" cy="135.8" rx="1.0" ry="1.0" fill="#b08440" opacity="0.48"/>
<ellipse cx="811.5" cy="126.6" rx="1.5" ry="2.4" fill="#b08440" opacity="0.56"/>
<ellipse cx="801.4" cy="92.4" rx="1.4" ry="2.4" fill="#a8803e" opacity="0.49"/>
<ellipse cx="803.8" cy="231.8" rx="0.9" ry="1.3" fill="#b88c48" opacity="0.49"/>
<ellipse cx="811.8" cy="104.4" rx="1.1" ry="1.4" fill="#b08440" opacity="0.56"/>
<ellipse cx="802.9" cy="90.8" rx="1.0" ry="1.8" fill="#b88c48" opacity="0.47"/>
<ellipse cx="783.9" cy="65.5" rx="0.9" ry="1.1" fill="#b88c48" opacity="0.32"/>
<ellipse cx="781.3" cy="55.6" rx="1.1" ry="1.2" fill="#a8803e" opacity="0.33"/>
<ellipse cx="801.4" cy="145.2" rx="1.5" ry="2.6" fill="#b08440" opacity="0.42"/>
<ellipse cx="787.8" cy="124.3" rx="1.4" ry="1.5" fill="#b08440" opacity="0.57"/>
<ellipse cx="808.8" cy="136.2" rx="1.1" ry="1.2" fill="#b08440" opacity="0.40"/>
<ellipse cx="782.7" cy="90.7" rx="1.1" ry="1.4" fill="#b08440" opacity="0.47"/>
<ellipse cx="781.5" cy="69.2" rx="1.4" ry="2.2" fill="#a8803e" opacity="0.38"/>
<ellipse cx="785.2" cy="79.0" rx="0.9" ry="1.6" fill="#b88c48" opacity="0.40"/>
<ellipse cx="782.1" cy="158.5" rx="0.8" ry="1.1" fill="#b08440" opacity="0.37"/>
<ellipse cx="811.4" cy="117.2" rx="1.2" ry="1.4" fill="#b88c48" opacity="0.40"/>
<ellipse cx="787.7" cy="119.2" rx="1.2" ry="1.3" fill="#b08440" opacity="0.37"/>
<ellipse cx="788.9" cy="121.8" rx="1.4" ry="1.7" fill="#b08440" opacity="0.35"/>
<ellipse cx="805.4" cy="207.2" rx="1.0" ry="1.7" fill="#b08440" opacity="0.37"/>
<ellipse cx="780.7" cy="172.9" rx="1.5" ry="1.7" fill="#a8803e" opacity="0.31"/>
<ellipse cx="795.9" cy="72.9" rx="1.2" ry="1.7" fill="#a8803e" opacity="0.41"/>
<ellipse cx="795.6" cy="84.4" rx="1.0" ry="1.3" fill="#b08440" opacity="0.33"/>
<ellipse cx="788.2" cy="133.2" rx="1.0" ry="1.3" fill="#b88c48" opacity="0.32"/>
<ellipse cx="786.7" cy="187.5" rx="1.3" ry="2.1" fill="#a8803e" opacity="0.56"/>
<ellipse cx="782.8" cy="223.5" rx="1.2" ry="1.5" fill="#a8803e" opacity="0.35"/>
<ellipse cx="786.3" cy="68.0" rx="1.0" ry="1.8" fill="#b88c48" opacity="0.42"/>
<ellipse cx="783.6" cy="198.8" rx="1.3" ry="1.4" fill="#a8803e" opacity="0.38"/>
<ellipse cx="781.4" cy="180.1" rx="1.2" ry="1.4" fill="#b88c48" opacity="0.44"/>
<ellipse cx="801.6" cy="146.0" rx="0.8" ry="1.1" fill="#b88c48" opacity="0.50"/>
<ellipse cx="801.4" cy="192.6" rx="1.3" ry="1.5" fill="#a8803e" opacity="0.40"/>
<ellipse cx="806.8" cy="223.9" rx="1.4" ry="2.3" fill="#b88c48" opacity="0.40"/>
<ellipse cx="785.3" cy="94.0" rx="1.3" ry="2.2" fill="#b08440" opacity="0.32"/>
<ellipse cx="808.4" cy="104.5" rx="1.6" ry="2.6" fill="#a8803e" opacity="0.38"/>
<ellipse cx="799.2" cy="222.8" rx="1.1" ry="1.7" fill="#a8803e" opacity="0.30"/>
<ellipse cx="787.1" cy="139.2" rx="1.2" ry="2.1" fill="#b08440" opacity="0.43"/>
<ellipse cx="800.5" cy="92.1" rx="1.5" ry="1.7" fill="#a8803e" opacity="0.57"/>
<ellipse cx="788.4" cy="229.2" rx="1.4" ry="1.4" fill="#a8803e" opacity="0.35"/>
<ellipse cx="802.1" cy="57.1" rx="1.1" ry="1.2" fill="#b08440" opacity="0.52"/>
<ellipse cx="784.4" cy="199.7" rx="1.3" ry="1.8" fill="#a8803e" opacity="0.45"/>
<ellipse cx="783.8" cy="96.4" rx="0.9" ry="1.6" fill="#b08440" opacity="0.34"/>
<ellipse cx="813.5" cy="77.4" rx="1.1" ry="1.7" fill="#a8803e" opacity="0.35"/>
<ellipse cx="784.8" cy="158.8" rx="1.2" ry="1.5" fill="#b88c48" opacity="0.54"/>
<ellipse cx="786.7" cy="80.2" rx="1.4" ry="2.5" fill="#b08440" opacity="0.49"/>
<ellipse cx="780.8" cy="218.3" rx="0.9" ry="0.9" fill="#a8803e" opacity="0.38"/>
<ellipse cx="805.1" cy="84.7" rx="0.9" ry="1.0" fill="#a8803e" opacity="0.40"/>
<ellipse cx="806.9" cy="171.1" rx="1.2" ry="1.3" fill="#b88c48" opacity="0.37"/>
<ellipse cx="797.4" cy="175.8" rx="1.1" ry="1.6" fill="#a8803e" opacity="0.45"/>
<ellipse cx="781.6" cy="215.2" rx="1.3" ry="1.4" fill="#a8803e" opacity="0.49"/>
<ellipse cx="801.3" cy="127.5" rx="1.6" ry="1.9" fill="#b88c48" opacity="0.52"/>
<ellipse cx="804.6" cy="165.8" rx="1.2" ry="1.8" fill="#b08440" opacity="0.52"/>
<ellipse cx="794.4" cy="114.4" rx="1.4" ry="2.5" fill="#a8803e" opacity="0.54"/>
<ellipse cx="812.2" cy="195.0" rx="1.0" ry="1.3" fill="#b08440" opacity="0.56"/>
<ellipse cx="797.8" cy="125.5" rx="0.9" ry="1.4" fill="#b88c48" opacity="0.40"/>
<ellipse cx="791.4" cy="172.9" rx="1.4" ry="1.6" fill="#b08440" opacity="0.36"/>
<ellipse cx="809.4" cy="73.4" rx="1.2" ry="2.1" fill="#b88c48" opacity="0.47"/>
<ellipse cx="781.7" cy="158.2" rx="1.6" ry="2.3" fill="#b88c48" opacity="0.40"/>
<ellipse cx="805.2" cy="109.8" rx="1.4" ry="2.3" fill="#b08440" opacity="0.48"/>
<ellipse cx="792.6" cy="74.2" rx="1.3" ry="1.6" fill="#b08440" opacity="0.45"/>
<ellipse cx="801.0" cy="180.4" rx="1.6" ry="1.8" fill="#a8803e" opacity="0.51"/>
<ellipse cx="801.4" cy="82.5" rx="0.9" ry="1.2" fill="#b88c48" opacity="0.48"/>
<ellipse cx="780.6" cy="215.1" rx="1.3" ry="1.7" fill="#b08440" opacity="0.45"/>
<ellipse cx="781.4" cy="53.9" rx="0.9" ry="1.5" fill="#b08440" opacity="0.30"/>
<ellipse cx="785.0" cy="215.7" rx="1.4" ry="1.7" fill="#b08440" opacity="0.31"/>
<ellipse cx="811.3" cy="228.3" rx="0.9" ry="1.2" fill="#a8803e" opacity="0.44"/>
<ellipse cx="789.1" cy="188.1" rx="1.5" ry="1.9" fill="#a8803e" opacity="0.55"/>
<ellipse cx="784.6" cy="69.5" rx="1.3" ry="2.0" fill="#b88c48" opacity="0.37"/>
<ellipse cx="790.4" cy="143.7" rx="0.9" ry="1.4" fill="#b08440" opacity="0.57"/>
<ellipse cx="805.0" cy="204.6" rx="1.1" ry="1.4" fill="#a8803e" opacity="0.30"/>
<ellipse cx="806.6" cy="197.9" rx="0.9" ry="1.3" fill="#b88c48" opacity="0.35"/>
<ellipse cx="794.6" cy="137.6" rx="1.5" ry="2.2" fill="#a8803e" opacity="0.52"/>
<ellipse cx="798.5" cy="78.0" rx="1.0" ry="1.4" fill="#b88c48" opacity="0.33"/>
<ellipse cx="794.8" cy="188.7" rx="1.2" ry="1.7" fill="#b08440" opacity="0.39"/>
<ellipse cx="780.1" cy="183.9" rx="1.0" ry="1.2" fill="#b88c48" opacity="0.47"/>
<ellipse cx="794.7" cy="87.8" rx="0.9" ry="1.7" fill="#a8803e" opacity="0.57"/>
<ellipse cx="783.5" cy="64.2" rx="1.2" ry="1.5" fill="#b88c48" opacity="0.49"/>
<ellipse cx="812.2" cy="196.5" rx="1.0" ry="1.3" fill="#b08440" opacity="0.49"/>
</g>
<rect x="817.7" y="52" width="36.3" height="182.7" fill="url(#leafH)"/>
<rect x="818.2" y="52" width="1.1" height="182.7" fill="#9cad72" opacity="0.28"/>
<rect x="820.0" y="52" width="0.9" height="182.7" fill="#778a46" opacity="0.30"/>
<rect x="822.7" y="52" width="0.7" height="182.7" fill="#a9b886" opacity="0.31"/>
<rect x="824.2" y="52" width="0.9" height="182.7" fill="#b3c093" opacity="0.51"/>
<rect x="826.9" y="52" width="0.9" height="182.7" fill="#9cad72" opacity="0.48"/>
<rect x="828.6" y="52" width="0.6" height="182.7" fill="#84964f" opacity="0.38"/>
<rect x="829.9" y="52" width="1.1" height="182.7" fill="#b3c093" opacity="0.32"/>
<rect x="832.2" y="52" width="0.9" height="182.7" fill="#84964f" opacity="0.48"/>
<rect x="834.3" y="52" width="0.9" height="182.7" fill="#9cad72" opacity="0.44"/>
<rect x="836.0" y="52" width="0.9" height="182.7" fill="#9cad72" opacity="0.29"/>
<rect x="839.0" y="52" width="1.3" height="182.7" fill="#b3c093" opacity="0.29"/>
<rect x="841.7" y="52" width="1.0" height="182.7" fill="#9cad72" opacity="0.45"/>
<rect x="844.8" y="52" width="1.0" height="182.7" fill="#9cad72" opacity="0.38"/>
<rect x="846.6" y="52" width="0.8" height="182.7" fill="#a9b886" opacity="0.46"/>
<rect x="849.3" y="52" width="0.5" height="182.7" fill="#778a46" opacity="0.41"/>
<rect x="851.7" y="52" width="0.8" height="182.7" fill="#b3c093" opacity="0.43"/>
<g filter="url(#f0_85)" clip-path="url(#cl4)">
<ellipse cx="826.9" cy="122.9" rx="1.4" ry="2.3" fill="#b08440" opacity="0.53"/>
<ellipse cx="834.4" cy="152.7" rx="0.9" ry="1.5" fill="#b88c48" opacity="0.74"/>
<ellipse cx="849.7" cy="138.4" rx="1.6" ry="2.3" fill="#a8803e" opacity="0.50"/>
<ellipse cx="832.2" cy="89.5" rx="1.4" ry="2.3" fill="#a8803e" opacity="0.73"/>
<ellipse cx="822.4" cy="200.0" rx="1.1" ry="1.3" fill="#a8803e" opacity="0.49"/>
<ellipse cx="846.6" cy="178.6" rx="1.6" ry="2.4" fill="#b88c48" opacity="0.51"/>
<ellipse cx="844.2" cy="114.7" rx="1.0" ry="1.3" fill="#b08440" opacity="0.70"/>
<ellipse cx="838.4" cy="54.9" rx="1.4" ry="2.1" fill="#a8803e" opacity="0.72"/>
<ellipse cx="826.5" cy="110.4" rx="1.5" ry="2.6" fill="#b88c48" opacity="0.51"/>
<ellipse cx="830.8" cy="121.3" rx="0.9" ry="1.0" fill="#a8803e" opacity="0.73"/>
<ellipse cx="844.6" cy="192.1" rx="1.3" ry="2.2" fill="#b88c48" opacity="0.69"/>
<ellipse cx="846.3" cy="232.0" rx="1.4" ry="2.2" fill="#a8803e" opacity="0.69"/>
<ellipse cx="836.0" cy="111.9" rx="1.1" ry="1.4" fill="#b88c48" opacity="0.49"/>
<ellipse cx="830.2" cy="201.3" rx="1.1" ry="1.8" fill="#b08440" opacity="0.71"/>
<ellipse cx="848.1" cy="225.5" rx="1.5" ry="2.1" fill="#b88c48" opacity="0.73"/>
<ellipse cx="852.3" cy="224.0" rx="1.2" ry="1.6" fill="#b08440" opacity="0.67"/>
<ellipse cx="843.7" cy="118.2" rx="0.9" ry="0.9" fill="#b08440" opacity="0.72"/>
<ellipse cx="826.5" cy="65.8" rx="0.9" ry="1.4" fill="#a8803e" opacity="0.47"/>
<ellipse cx="840.7" cy="109.2" rx="1.2" ry="1.5" fill="#b88c48" opacity="0.63"/>
<ellipse cx="834.8" cy="215.6" rx="1.4" ry="1.7" fill="#b88c48" opacity="0.71"/>
<ellipse cx="850.1" cy="161.4" rx="1.6" ry="2.7" fill="#a8803e" opacity="0.42"/>
<ellipse cx="833.0" cy="212.1" rx="1.3" ry="1.6" fill="#a8803e" opacity="0.53"/>
<ellipse cx="850.5" cy="172.0" rx="1.5" ry="2.3" fill="#a8803e" opacity="0.60"/>
<ellipse cx="839.0" cy="131.1" rx="1.4" ry="1.8" fill="#b88c48" opacity="0.43"/>
<ellipse cx="828.7" cy="146.1" rx="1.4" ry="1.5" fill="#b88c48" opacity="0.69"/>
<ellipse cx="846.2" cy="92.6" rx="1.5" ry="2.7" fill="#a8803e" opacity="0.56"/>
<ellipse cx="840.5" cy="66.9" rx="1.1" ry="1.4" fill="#b88c48" opacity="0.76"/>
<ellipse cx="843.8" cy="86.8" rx="1.2" ry="1.7" fill="#b08440" opacity="0.64"/>
<ellipse cx="839.4" cy="121.3" rx="1.5" ry="2.5" fill="#b08440" opacity="0.46"/>
<ellipse cx="849.9" cy="152.6" rx="1.4" ry="2.4" fill="#b08440" opacity="0.53"/>
<ellipse cx="825.8" cy="57.2" rx="1.2" ry="2.1" fill="#b08440" opacity="0.72"/>
<ellipse cx="836.2" cy="221.5" rx="1.2" ry="1.4" fill="#b08440" opacity="0.63"/>
<ellipse cx="833.2" cy="161.8" rx="1.0" ry="1.2" fill="#b88c48" opacity="0.55"/>
<ellipse cx="840.3" cy="62.8" rx="1.4" ry="2.3" fill="#b08440" opacity="0.73"/>
<ellipse cx="844.4" cy="95.8" rx="1.0" ry="1.4" fill="#b88c48" opacity="0.46"/>
<ellipse cx="824.7" cy="210.6" rx="1.6" ry="2.5" fill="#a8803e" opacity="0.44"/>
<ellipse cx="843.1" cy="181.4" rx="1.0" ry="1.7" fill="#b08440" opacity="0.73"/>
<ellipse cx="835.5" cy="53.3" rx="1.5" ry="2.5" fill="#b88c48" opacity="0.72"/>
<ellipse cx="841.9" cy="78.7" rx="1.2" ry="1.8" fill="#a8803e" opacity="0.76"/>
<ellipse cx="832.7" cy="183.4" rx="1.6" ry="1.9" fill="#a8803e" opacity="0.71"/>
<ellipse cx="839.9" cy="107.8" rx="0.9" ry="1.1" fill="#b08440" opacity="0.43"/>
<ellipse cx="838.9" cy="75.5" rx="1.0" ry="1.4" fill="#b88c48" opacity="0.70"/>
<ellipse cx="835.4" cy="223.7" rx="1.2" ry="1.4" fill="#b08440" opacity="0.61"/>
<ellipse cx="835.9" cy="95.1" rx="1.1" ry="1.4" fill="#b08440" opacity="0.43"/>
<ellipse cx="830.8" cy="129.8" rx="1.1" ry="1.7" fill="#b08440" opacity="0.54"/>
<ellipse cx="834.7" cy="203.8" rx="1.2" ry="1.3" fill="#a8803e" opacity="0.68"/>
<ellipse cx="830.9" cy="166.8" rx="1.5" ry="2.0" fill="#a8803e" opacity="0.56"/>
<ellipse cx="824.1" cy="170.9" rx="1.4" ry="1.4" fill="#b88c48" opacity="0.65"/>
<ellipse cx="831.2" cy="206.9" rx="1.4" ry="2.1" fill="#a8803e" opacity="0.64"/>
<ellipse cx="846.2" cy="81.3" rx="1.2" ry="1.9" fill="#b08440" opacity="0.50"/>
<ellipse cx="849.5" cy="197.6" rx="0.8" ry="1.0" fill="#a8803e" opacity="0.57"/>
<ellipse cx="828.1" cy="147.2" rx="0.8" ry="1.2" fill="#a8803e" opacity="0.69"/>
<ellipse cx="840.6" cy="139.2" rx="1.1" ry="1.4" fill="#a8803e" opacity="0.62"/>
<ellipse cx="819.3" cy="197.6" rx="0.9" ry="1.4" fill="#b08440" opacity="0.63"/>
<ellipse cx="828.2" cy="113.1" rx="1.5" ry="1.6" fill="#b08440" opacity="0.65"/>
<ellipse cx="821.3" cy="90.9" rx="1.4" ry="1.5" fill="#b08440" opacity="0.51"/>
<ellipse cx="820.7" cy="100.7" rx="1.4" ry="2.2" fill="#b08440" opacity="0.73"/>
<ellipse cx="837.6" cy="219.6" rx="0.9" ry="1.5" fill="#b08440" opacity="0.56"/>
<ellipse cx="820.1" cy="142.8" rx="1.4" ry="1.9" fill="#b88c48" opacity="0.63"/>
<ellipse cx="844.5" cy="160.9" rx="1.6" ry="1.6" fill="#b08440" opacity="0.42"/>
<ellipse cx="820.0" cy="112.2" rx="1.4" ry="1.5" fill="#b08440" opacity="0.57"/>
<ellipse cx="824.9" cy="163.1" rx="1.3" ry="2.4" fill="#a8803e" opacity="0.53"/>
<ellipse cx="829.9" cy="126.9" rx="1.2" ry="1.6" fill="#b88c48" opacity="0.41"/>
<ellipse cx="842.9" cy="84.6" rx="0.9" ry="1.1" fill="#b88c48" opacity="0.53"/>
<ellipse cx="841.2" cy="133.5" rx="1.3" ry="2.2" fill="#b88c48" opacity="0.68"/>
<ellipse cx="845.8" cy="157.0" rx="1.2" ry="2.0" fill="#a8803e" opacity="0.62"/>
<ellipse cx="841.3" cy="145.4" rx="0.9" ry="1.0" fill="#b88c48" opacity="0.68"/>
<ellipse cx="823.6" cy="84.6" rx="1.1" ry="1.7" fill="#b88c48" opacity="0.40"/>
<ellipse cx="836.4" cy="54.0" rx="1.4" ry="1.9" fill="#b88c48" opacity="0.64"/>
<ellipse cx="831.8" cy="172.7" rx="1.1" ry="1.5" fill="#b88c48" opacity="0.61"/>
<ellipse cx="824.2" cy="214.7" rx="1.0" ry="1.7" fill="#b88c48" opacity="0.48"/>
<ellipse cx="845.7" cy="201.4" rx="1.6" ry="2.5" fill="#b88c48" opacity="0.51"/>
<ellipse cx="827.7" cy="163.4" rx="0.9" ry="1.6" fill="#a8803e" opacity="0.58"/>
<ellipse cx="848.1" cy="231.7" rx="1.2" ry="2.0" fill="#a8803e" opacity="0.42"/>
<ellipse cx="844.8" cy="156.6" rx="1.5" ry="2.2" fill="#b08440" opacity="0.55"/>
<ellipse cx="821.7" cy="193.4" rx="0.9" ry="1.1" fill="#a8803e" opacity="0.44"/>
<ellipse cx="833.9" cy="184.3" rx="1.0" ry="1.6" fill="#b08440" opacity="0.63"/>
<ellipse cx="819.9" cy="203.8" rx="1.0" ry="1.1" fill="#a8803e" opacity="0.49"/>
<ellipse cx="825.8" cy="144.8" rx="1.2" ry="1.7" fill="#b88c48" opacity="0.68"/>
<ellipse cx="846.4" cy="190.1" rx="1.2" ry="2.0" fill="#b88c48" opacity="0.54"/>
<ellipse cx="834.9" cy="74.4" rx="1.4" ry="1.6" fill="#b08440" opacity="0.64"/>
<ellipse cx="839.3" cy="209.3" rx="1.4" ry="2.4" fill="#a8803e" opacity="0.53"/>
<ellipse cx="848.1" cy="99.9" rx="1.2" ry="1.6" fill="#b08440" opacity="0.41"/>
<ellipse cx="847.9" cy="214.4" rx="0.8" ry="1.1" fill="#b88c48" opacity="0.57"/>
<ellipse cx="821.5" cy="105.6" rx="1.5" ry="2.2" fill="#b88c48" opacity="0.74"/>
<ellipse cx="846.6" cy="74.7" rx="0.9" ry="1.3" fill="#b08440" opacity="0.52"/>
<ellipse cx="849.8" cy="93.3" rx="1.5" ry="1.8" fill="#b08440" opacity="0.49"/>
<ellipse cx="826.3" cy="216.8" rx="1.3" ry="2.3" fill="#b88c48" opacity="0.68"/>
<ellipse cx="831.8" cy="165.9" rx="1.6" ry="1.8" fill="#a8803e" opacity="0.55"/>
<ellipse cx="846.3" cy="176.2" rx="1.4" ry="1.7" fill="#b88c48" opacity="0.57"/>
<ellipse cx="851.7" cy="219.8" rx="0.9" ry="1.4" fill="#a8803e" opacity="0.60"/>
<ellipse cx="849.2" cy="218.3" rx="1.5" ry="2.1" fill="#b88c48" opacity="0.74"/>
<ellipse cx="831.3" cy="153.1" rx="1.4" ry="2.1" fill="#b08440" opacity="0.46"/>
<ellipse cx="831.3" cy="226.4" rx="1.6" ry="1.8" fill="#a8803e" opacity="0.61"/>
<ellipse cx="831.9" cy="151.9" rx="1.1" ry="1.1" fill="#b08440" opacity="0.47"/>
<ellipse cx="851.5" cy="135.3" rx="1.1" ry="1.8" fill="#b88c48" opacity="0.74"/>
<ellipse cx="831.1" cy="224.6" rx="1.3" ry="1.9" fill="#b88c48" opacity="0.71"/>
<ellipse cx="824.7" cy="87.0" rx="1.0" ry="1.2" fill="#b88c48" opacity="0.66"/>
<ellipse cx="852.1" cy="64.6" rx="0.8" ry="1.2" fill="#b88c48" opacity="0.47"/>
<ellipse cx="841.4" cy="189.1" rx="1.0" ry="1.1" fill="#b08440" opacity="0.50"/>
<ellipse cx="852.7" cy="175.6" rx="1.4" ry="1.4" fill="#a8803e" opacity="0.42"/>
<ellipse cx="821.7" cy="103.7" rx="1.5" ry="2.4" fill="#a8803e" opacity="0.59"/>
<ellipse cx="849.7" cy="159.5" rx="1.5" ry="1.5" fill="#b08440" opacity="0.47"/>
<ellipse cx="849.8" cy="93.5" rx="1.0" ry="1.1" fill="#b88c48" opacity="0.61"/>
<ellipse cx="836.4" cy="111.5" rx="1.6" ry="2.1" fill="#b08440" opacity="0.65"/>
<ellipse cx="839.2" cy="179.1" rx="1.1" ry="1.9" fill="#b88c48" opacity="0.72"/>
<ellipse cx="823.8" cy="118.8" rx="1.3" ry="2.3" fill="#a8803e" opacity="0.76"/>
<ellipse cx="840.1" cy="171.1" rx="0.9" ry="1.5" fill="#a8803e" opacity="0.60"/>
<ellipse cx="850.2" cy="119.9" rx="1.2" ry="1.4" fill="#b08440" opacity="0.45"/>
<ellipse cx="838.9" cy="197.7" rx="0.9" ry="1.3" fill="#b88c48" opacity="0.61"/>
<ellipse cx="835.7" cy="136.7" rx="1.4" ry="2.2" fill="#b08440" opacity="0.49"/>
<ellipse cx="826.8" cy="189.8" rx="1.0" ry="1.6" fill="#b08440" opacity="0.49"/>
<ellipse cx="847.3" cy="159.4" rx="1.1" ry="1.6" fill="#b88c48" opacity="0.41"/>
<ellipse cx="852.7" cy="61.8" rx="1.6" ry="1.9" fill="#b08440" opacity="0.41"/>
<ellipse cx="825.5" cy="99.9" rx="1.4" ry="2.3" fill="#b08440" opacity="0.52"/>
<ellipse cx="833.2" cy="108.7" rx="1.2" ry="2.1" fill="#b08440" opacity="0.49"/>
<ellipse cx="824.6" cy="131.1" rx="1.5" ry="1.7" fill="#b08440" opacity="0.58"/>
<ellipse cx="838.8" cy="142.9" rx="1.6" ry="2.5" fill="#b88c48" opacity="0.67"/>
<ellipse cx="845.8" cy="104.5" rx="0.8" ry="0.9" fill="#b88c48" opacity="0.59"/>
<ellipse cx="843.3" cy="145.3" rx="0.9" ry="1.4" fill="#b88c48" opacity="0.56"/>
<ellipse cx="834.3" cy="96.4" rx="1.2" ry="1.8" fill="#b08440" opacity="0.64"/>
<ellipse cx="825.5" cy="68.9" rx="1.3" ry="2.4" fill="#a8803e" opacity="0.52"/>
<ellipse cx="841.4" cy="112.7" rx="0.8" ry="1.1" fill="#b08440" opacity="0.70"/>
<ellipse cx="824.0" cy="65.7" rx="1.2" ry="2.2" fill="#b08440" opacity="0.73"/>
<ellipse cx="831.8" cy="176.0" rx="1.0" ry="1.1" fill="#b88c48" opacity="0.73"/>
<ellipse cx="846.4" cy="105.8" rx="1.5" ry="2.6" fill="#b08440" opacity="0.57"/>
<ellipse cx="821.0" cy="132.0" rx="1.3" ry="1.4" fill="#b88c48" opacity="0.47"/>
<ellipse cx="820.3" cy="182.3" rx="1.4" ry="1.6" fill="#b08440" opacity="0.52"/>
<ellipse cx="826.3" cy="224.4" rx="1.0" ry="1.2" fill="#a8803e" opacity="0.70"/>
<ellipse cx="843.1" cy="103.0" rx="1.6" ry="2.1" fill="#b08440" opacity="0.40"/>
<ellipse cx="837.4" cy="130.8" rx="1.0" ry="1.7" fill="#a8803e" opacity="0.64"/>
<ellipse cx="843.3" cy="73.8" rx="1.1" ry="1.7" fill="#b08440" opacity="0.40"/>
<ellipse cx="848.7" cy="68.2" rx="1.0" ry="1.5" fill="#b88c48" opacity="0.70"/>
<ellipse cx="845.7" cy="209.3" rx="1.3" ry="2.3" fill="#b88c48" opacity="0.63"/>
<ellipse cx="837.0" cy="109.2" rx="1.0" ry="1.5" fill="#a8803e" opacity="0.45"/>
<ellipse cx="836.2" cy="159.3" rx="1.0" ry="1.2" fill="#b88c48" opacity="0.58"/>
<ellipse cx="819.5" cy="130.7" rx="1.3" ry="1.3" fill="#b08440" opacity="0.51"/>
<ellipse cx="845.1" cy="180.2" rx="1.4" ry="2.0" fill="#b88c48" opacity="0.49"/>
<ellipse cx="837.3" cy="151.3" rx="1.0" ry="1.7" fill="#a8803e" opacity="0.41"/>
<ellipse cx="835.3" cy="185.1" rx="1.0" ry="1.3" fill="#a8803e" opacity="0.53"/>
<ellipse cx="834.3" cy="68.6" rx="1.1" ry="1.7" fill="#a8803e" opacity="0.70"/>
<ellipse cx="841.2" cy="175.2" rx="1.3" ry="2.0" fill="#b08440" opacity="0.50"/>
<ellipse cx="830.4" cy="127.0" rx="1.1" ry="1.7" fill="#a8803e" opacity="0.72"/>
<ellipse cx="846.3" cy="94.4" rx="1.1" ry="1.2" fill="#b88c48" opacity="0.69"/>
<ellipse cx="825.1" cy="71.4" rx="1.0" ry="1.6" fill="#b08440" opacity="0.42"/>
<ellipse cx="849.4" cy="206.4" rx="1.5" ry="2.0" fill="#a8803e" opacity="0.55"/>
<ellipse cx="824.0" cy="168.9" rx="1.4" ry="1.8" fill="#b88c48" opacity="0.42"/>
<ellipse cx="847.9" cy="112.9" rx="1.5" ry="2.5" fill="#b08440" opacity="0.55"/>
<ellipse cx="823.9" cy="194.7" rx="1.2" ry="1.3" fill="#b88c48" opacity="0.50"/>
<ellipse cx="832.3" cy="160.6" rx="1.0" ry="1.0" fill="#a8803e" opacity="0.54"/>
<ellipse cx="845.5" cy="185.9" rx="0.9" ry="1.1" fill="#b08440" opacity="0.45"/>
<ellipse cx="840.1" cy="87.0" rx="0.8" ry="1.3" fill="#a8803e" opacity="0.62"/>
<ellipse cx="822.1" cy="181.0" rx="1.5" ry="1.8" fill="#b88c48" opacity="0.57"/>
<ellipse cx="849.0" cy="74.9" rx="1.3" ry="1.8" fill="#b08440" opacity="0.71"/>
<ellipse cx="836.2" cy="75.1" rx="1.0" ry="1.2" fill="#a8803e" opacity="0.55"/>
<ellipse cx="819.2" cy="94.2" rx="1.1" ry="1.4" fill="#a8803e" opacity="0.64"/>
<ellipse cx="827.1" cy="159.1" rx="1.1" ry="1.1" fill="#a8803e" opacity="0.69"/>
<ellipse cx="827.9" cy="193.3" rx="1.2" ry="2.1" fill="#a8803e" opacity="0.42"/>
<ellipse cx="834.5" cy="161.2" rx="0.9" ry="1.4" fill="#a8803e" opacity="0.57"/>
<ellipse cx="824.2" cy="225.8" rx="1.6" ry="2.5" fill="#b08440" opacity="0.67"/>
<ellipse cx="829.4" cy="210.4" rx="1.4" ry="1.4" fill="#b08440" opacity="0.73"/>
<ellipse cx="831.4" cy="131.2" rx="1.2" ry="1.5" fill="#b88c48" opacity="0.65"/>
<ellipse cx="831.3" cy="181.9" rx="0.9" ry="1.3" fill="#a8803e" opacity="0.44"/>
<ellipse cx="848.2" cy="90.9" rx="1.5" ry="1.9" fill="#b88c48" opacity="0.52"/>
<ellipse cx="837.9" cy="102.5" rx="1.4" ry="2.1" fill="#b08440" opacity="0.66"/>
<ellipse cx="831.3" cy="230.9" rx="1.3" ry="1.5" fill="#b08440" opacity="0.64"/>
<ellipse cx="830.3" cy="128.4" rx="1.6" ry="2.0" fill="#b08440" opacity="0.54"/>
<ellipse cx="852.9" cy="88.7" rx="1.2" ry="1.6" fill="#b08440" opacity="0.49"/>
<ellipse cx="845.8" cy="135.6" rx="1.5" ry="1.9" fill="#b08440" opacity="0.66"/>
<ellipse cx="831.6" cy="213.4" rx="1.1" ry="1.4" fill="#b88c48" opacity="0.42"/>
<ellipse cx="834.9" cy="88.7" rx="0.9" ry="1.4" fill="#a8803e" opacity="0.65"/>
<ellipse cx="846.5" cy="143.7" rx="1.4" ry="2.2" fill="#a8803e" opacity="0.64"/>
<ellipse cx="828.7" cy="149.5" rx="1.4" ry="2.2" fill="#a8803e" opacity="0.44"/>
<ellipse cx="829.3" cy="175.6" rx="1.2" ry="1.8" fill="#b88c48" opacity="0.68"/>
<ellipse cx="847.3" cy="174.4" rx="1.4" ry="1.8" fill="#a8803e" opacity="0.45"/>
<ellipse cx="835.6" cy="152.4" rx="0.9" ry="1.0" fill="#b08440" opacity="0.74"/>
<ellipse cx="839.7" cy="59.0" rx="1.5" ry="2.8" fill="#a8803e" opacity="0.66"/>
<ellipse cx="846.4" cy="65.7" rx="1.5" ry="2.7" fill="#b88c48" opacity="0.41"/>
<ellipse cx="849.2" cy="132.5" rx="1.5" ry="2.3" fill="#b08440" opacity="0.59"/>
<ellipse cx="825.7" cy="215.4" rx="1.1" ry="1.1" fill="#b08440" opacity="0.52"/>
<ellipse cx="849.9" cy="57.1" rx="1.4" ry="1.4" fill="#b88c48" opacity="0.65"/>
<ellipse cx="828.3" cy="219.3" rx="1.5" ry="2.6" fill="#a8803e" opacity="0.76"/>
<ellipse cx="839.4" cy="228.4" rx="1.2" ry="1.2" fill="#a8803e" opacity="0.42"/>
<ellipse cx="826.5" cy="69.5" rx="1.5" ry="2.2" fill="#b08440" opacity="0.62"/>
<ellipse cx="831.8" cy="151.1" rx="1.1" ry="1.8" fill="#b08440" opacity="0.70"/>
<ellipse cx="828.3" cy="187.6" rx="1.5" ry="1.8" fill="#a8803e" opacity="0.65"/>
<ellipse cx="820.3" cy="70.2" rx="1.2" ry="1.9" fill="#a8803e" opacity="0.57"/>
<ellipse cx="835.9" cy="57.8" rx="1.4" ry="2.2" fill="#a8803e" opacity="0.72"/>
<ellipse cx="832.5" cy="81.9" rx="1.2" ry="2.1" fill="#b08440" opacity="0.74"/>
<ellipse cx="836.7" cy="80.8" rx="1.5" ry="2.1" fill="#b08440" opacity="0.58"/>
</g>
<rect x="858.0" y="52" width="36.8" height="182.7" fill="url(#leafH)"/>
<rect x="858.5" y="52" width="1.0" height="182.7" fill="#778a46" opacity="0.36"/>
<rect x="861.6" y="52" width="0.6" height="182.7" fill="#9cad72" opacity="0.35"/>
<rect x="863.0" y="52" width="0.7" height="182.7" fill="#b3c093" opacity="0.42"/>
<rect x="864.7" y="52" width="0.8" height="182.7" fill="#a9b886" opacity="0.51"/>
<rect x="866.7" y="52" width="1.1" height="182.7" fill="#778a46" opacity="0.42"/>
<rect x="869.5" y="52" width="1.0" height="182.7" fill="#778a46" opacity="0.46"/>
<rect x="871.4" y="52" width="1.0" height="182.7" fill="#a9b886" opacity="0.49"/>
<rect x="874.3" y="52" width="1.2" height="182.7" fill="#84964f" opacity="0.50"/>
<rect x="877.3" y="52" width="0.8" height="182.7" fill="#a9b886" opacity="0.30"/>
<rect x="879.1" y="52" width="1.2" height="182.7" fill="#9cad72" opacity="0.32"/>
<rect x="882.4" y="52" width="0.8" height="182.7" fill="#778a46" opacity="0.28"/>
<rect x="885.2" y="52" width="1.2" height="182.7" fill="#778a46" opacity="0.39"/>
<rect x="887.9" y="52" width="0.9" height="182.7" fill="#b3c093" opacity="0.40"/>
<rect x="889.5" y="52" width="1.3" height="182.7" fill="#778a46" opacity="0.38"/>
<rect x="893.0" y="52" width="1.0" height="182.7" fill="#a9b886" opacity="0.41"/>
<g filter="url(#f0_85)" clip-path="url(#cl5)">
<ellipse cx="886.2" cy="108.4" rx="1.4" ry="1.6" fill="#b88c48" opacity="0.38"/>
<ellipse cx="871.1" cy="71.8" rx="1.4" ry="2.6" fill="#a8803e" opacity="0.29"/>
<ellipse cx="864.3" cy="152.5" rx="1.4" ry="1.5" fill="#b08440" opacity="0.44"/>
<ellipse cx="865.9" cy="90.2" rx="1.0" ry="1.7" fill="#b08440" opacity="0.31"/>
<ellipse cx="867.7" cy="107.2" rx="1.2" ry="1.5" fill="#b88c48" opacity="0.43"/>
<ellipse cx="873.4" cy="189.3" rx="1.5" ry="1.6" fill="#a8803e" opacity="0.42"/>
<ellipse cx="883.3" cy="194.0" rx="1.6" ry="1.9" fill="#a8803e" opacity="0.26"/>
<ellipse cx="873.3" cy="221.2" rx="1.1" ry="1.4" fill="#b88c48" opacity="0.27"/>
<ellipse cx="885.0" cy="175.3" rx="1.3" ry="1.8" fill="#a8803e" opacity="0.42"/>
<ellipse cx="865.2" cy="126.4" rx="1.5" ry="2.0" fill="#b88c48" opacity="0.40"/>
<ellipse cx="866.5" cy="225.2" rx="1.5" ry="2.7" fill="#b08440" opacity="0.36"/>
<ellipse cx="861.8" cy="119.7" rx="1.5" ry="2.7" fill="#b88c48" opacity="0.25"/>
<ellipse cx="876.0" cy="81.5" rx="1.0" ry="1.6" fill="#a8803e" opacity="0.45"/>
<ellipse cx="883.8" cy="184.6" rx="1.0" ry="1.5" fill="#b88c48" opacity="0.40"/>
<ellipse cx="869.3" cy="122.0" rx="1.4" ry="1.9" fill="#b08440" opacity="0.30"/>
<ellipse cx="863.5" cy="174.1" rx="1.0" ry="1.7" fill="#b88c48" opacity="0.32"/>
<ellipse cx="883.0" cy="82.3" rx="0.9" ry="1.3" fill="#a8803e" opacity="0.47"/>
<ellipse cx="859.9" cy="183.8" rx="1.1" ry="1.3" fill="#b88c48" opacity="0.34"/>
<ellipse cx="884.8" cy="214.8" rx="0.9" ry="1.2" fill="#a8803e" opacity="0.36"/>
<ellipse cx="872.3" cy="131.7" rx="1.0" ry="1.7" fill="#b88c48" opacity="0.32"/>
<ellipse cx="883.8" cy="121.4" rx="1.2" ry="1.8" fill="#b88c48" opacity="0.44"/>
<ellipse cx="860.5" cy="134.1" rx="1.5" ry="1.7" fill="#b88c48" opacity="0.35"/>
<ellipse cx="868.6" cy="80.6" rx="1.2" ry="1.6" fill="#b08440" opacity="0.46"/>
<ellipse cx="863.3" cy="56.0" rx="0.9" ry="1.3" fill="#a8803e" opacity="0.40"/>
<ellipse cx="890.7" cy="132.5" rx="1.4" ry="1.5" fill="#a8803e" opacity="0.43"/>
<ellipse cx="869.5" cy="182.4" rx="0.8" ry="1.1" fill="#a8803e" opacity="0.28"/>
<ellipse cx="862.1" cy="57.9" rx="1.2" ry="1.8" fill="#b88c48" opacity="0.43"/>
<ellipse cx="865.8" cy="146.5" rx="0.9" ry="1.5" fill="#a8803e" opacity="0.34"/>
<ellipse cx="879.4" cy="109.5" rx="1.6" ry="2.3" fill="#b88c48" opacity="0.47"/>
<ellipse cx="891.9" cy="126.8" rx="1.3" ry="2.2" fill="#b08440" opacity="0.27"/>
<ellipse cx="878.9" cy="91.8" rx="1.5" ry="2.5" fill="#a8803e" opacity="0.40"/>
<ellipse cx="865.5" cy="132.0" rx="1.0" ry="1.5" fill="#a8803e" opacity="0.32"/>
<ellipse cx="881.2" cy="145.0" rx="0.9" ry="1.2" fill="#a8803e" opacity="0.33"/>
<ellipse cx="863.0" cy="144.9" rx="1.2" ry="1.9" fill="#a8803e" opacity="0.33"/>
<ellipse cx="890.8" cy="145.7" rx="1.3" ry="1.9" fill="#a8803e" opacity="0.30"/>
<ellipse cx="891.8" cy="99.5" rx="1.5" ry="2.2" fill="#b88c48" opacity="0.30"/>
<ellipse cx="881.5" cy="199.3" rx="1.2" ry="1.3" fill="#b08440" opacity="0.44"/>
<ellipse cx="871.5" cy="177.7" rx="1.5" ry="2.0" fill="#b88c48" opacity="0.29"/>
<ellipse cx="862.3" cy="172.4" rx="0.9" ry="1.2" fill="#b88c48" opacity="0.40"/>
<ellipse cx="873.6" cy="214.9" rx="1.6" ry="2.1" fill="#b08440" opacity="0.40"/>
<ellipse cx="872.0" cy="178.8" rx="1.4" ry="2.1" fill="#b88c48" opacity="0.34"/>
<ellipse cx="872.9" cy="124.5" rx="1.1" ry="1.2" fill="#a8803e" opacity="0.37"/>
<ellipse cx="893.5" cy="137.1" rx="1.5" ry="1.8" fill="#b88c48" opacity="0.42"/>
<ellipse cx="878.4" cy="84.2" rx="1.1" ry="1.8" fill="#a8803e" opacity="0.45"/>
<ellipse cx="875.5" cy="109.5" rx="1.1" ry="1.8" fill="#b88c48" opacity="0.44"/>
<ellipse cx="882.3" cy="83.8" rx="0.9" ry="1.3" fill="#a8803e" opacity="0.30"/>
<ellipse cx="889.1" cy="147.8" rx="0.9" ry="1.3" fill="#a8803e" opacity="0.47"/>
<ellipse cx="892.8" cy="105.2" rx="0.9" ry="1.0" fill="#a8803e" opacity="0.46"/>
<ellipse cx="866.7" cy="137.3" rx="1.2" ry="1.7" fill="#b08440" opacity="0.43"/>
<ellipse cx="892.4" cy="94.3" rx="1.0" ry="1.0" fill="#b88c48" opacity="0.27"/>
<ellipse cx="873.6" cy="173.5" rx="0.9" ry="1.2" fill="#b08440" opacity="0.30"/>
<ellipse cx="872.0" cy="231.8" rx="1.5" ry="1.7" fill="#b08440" opacity="0.44"/>
<ellipse cx="880.9" cy="159.0" rx="1.5" ry="2.1" fill="#a8803e" opacity="0.28"/>
<ellipse cx="864.4" cy="150.5" rx="1.0" ry="1.3" fill="#b88c48" opacity="0.29"/>
<ellipse cx="893.2" cy="195.0" rx="1.3" ry="1.7" fill="#b08440" opacity="0.35"/>
<ellipse cx="887.3" cy="155.4" rx="1.1" ry="1.8" fill="#b08440" opacity="0.33"/>
<ellipse cx="860.3" cy="98.9" rx="1.4" ry="2.4" fill="#a8803e" opacity="0.31"/>
<ellipse cx="891.6" cy="193.6" rx="1.2" ry="1.6" fill="#a8803e" opacity="0.42"/>
<ellipse cx="891.0" cy="177.4" rx="0.9" ry="1.0" fill="#b88c48" opacity="0.42"/>
<ellipse cx="890.1" cy="76.1" rx="0.9" ry="1.3" fill="#a8803e" opacity="0.33"/>
<ellipse cx="893.7" cy="133.5" rx="1.4" ry="2.2" fill="#b08440" opacity="0.29"/>
<ellipse cx="865.1" cy="66.7" rx="1.2" ry="1.2" fill="#a8803e" opacity="0.36"/>
<ellipse cx="876.5" cy="68.6" rx="1.0" ry="1.1" fill="#a8803e" opacity="0.26"/>
<ellipse cx="867.3" cy="108.1" rx="1.2" ry="1.6" fill="#b88c48" opacity="0.40"/>
<ellipse cx="859.3" cy="59.7" rx="1.4" ry="1.9" fill="#b08440" opacity="0.30"/>
<ellipse cx="859.9" cy="205.2" rx="1.5" ry="2.5" fill="#a8803e" opacity="0.36"/>
<ellipse cx="892.6" cy="204.2" rx="1.3" ry="1.9" fill="#a8803e" opacity="0.25"/>
<ellipse cx="880.9" cy="127.0" rx="1.6" ry="2.2" fill="#b08440" opacity="0.37"/>
<ellipse cx="876.1" cy="126.1" rx="0.9" ry="1.4" fill="#b88c48" opacity="0.43"/>
<ellipse cx="859.9" cy="185.2" rx="1.2" ry="1.9" fill="#a8803e" opacity="0.44"/>
<ellipse cx="860.6" cy="211.7" rx="1.3" ry="1.6" fill="#a8803e" opacity="0.46"/>
<ellipse cx="890.2" cy="97.7" rx="1.3" ry="1.6" fill="#b88c48" opacity="0.32"/>
<ellipse cx="880.5" cy="113.0" rx="1.2" ry="2.2" fill="#b88c48" opacity="0.38"/>
<ellipse cx="886.8" cy="172.2" rx="1.1" ry="2.0" fill="#b88c48" opacity="0.39"/>
<ellipse cx="892.7" cy="165.6" rx="1.2" ry="1.8" fill="#b88c48" opacity="0.37"/>
<ellipse cx="869.1" cy="173.4" rx="0.9" ry="1.4" fill="#b08440" opacity="0.41"/>
<ellipse cx="860.1" cy="170.1" rx="1.4" ry="1.7" fill="#b08440" opacity="0.34"/>
<ellipse cx="884.9" cy="182.7" rx="1.6" ry="2.6" fill="#b08440" opacity="0.39"/>
<ellipse cx="892.2" cy="193.8" rx="1.6" ry="1.9" fill="#a8803e" opacity="0.37"/>
<ellipse cx="892.1" cy="80.7" rx="1.2" ry="1.9" fill="#a8803e" opacity="0.47"/>
<ellipse cx="891.6" cy="56.4" rx="1.0" ry="1.4" fill="#b08440" opacity="0.46"/>
<ellipse cx="888.2" cy="53.2" rx="1.5" ry="2.3" fill="#a8803e" opacity="0.42"/>
<ellipse cx="870.5" cy="81.2" rx="0.9" ry="1.1" fill="#b88c48" opacity="0.41"/>
<ellipse cx="889.6" cy="207.2" rx="1.2" ry="1.9" fill="#b08440" opacity="0.36"/>
<ellipse cx="866.5" cy="222.8" rx="1.4" ry="1.7" fill="#a8803e" opacity="0.25"/>
<ellipse cx="862.4" cy="191.5" rx="1.4" ry="2.1" fill="#a8803e" opacity="0.44"/>
<ellipse cx="893.0" cy="76.4" rx="0.9" ry="1.5" fill="#b08440" opacity="0.34"/>
<ellipse cx="888.5" cy="155.4" rx="1.0" ry="1.2" fill="#b08440" opacity="0.37"/>
<ellipse cx="880.4" cy="120.2" rx="0.9" ry="1.4" fill="#b08440" opacity="0.25"/>
<ellipse cx="866.0" cy="108.3" rx="0.8" ry="1.0" fill="#b88c48" opacity="0.42"/>
<ellipse cx="875.2" cy="200.3" rx="0.9" ry="1.0" fill="#b08440" opacity="0.33"/>
<ellipse cx="864.6" cy="66.3" rx="1.4" ry="1.5" fill="#b08440" opacity="0.40"/>
<ellipse cx="863.4" cy="135.0" rx="0.8" ry="1.5" fill="#b08440" opacity="0.39"/>
<ellipse cx="860.1" cy="114.6" rx="1.0" ry="1.6" fill="#a8803e" opacity="0.41"/>
<ellipse cx="877.5" cy="179.4" rx="0.9" ry="1.2" fill="#a8803e" opacity="0.32"/>
<ellipse cx="869.2" cy="74.2" rx="1.1" ry="1.6" fill="#b88c48" opacity="0.29"/>
<ellipse cx="886.7" cy="107.9" rx="1.3" ry="1.4" fill="#b08440" opacity="0.28"/>
<ellipse cx="878.7" cy="208.9" rx="1.0" ry="1.2" fill="#b88c48" opacity="0.27"/>
<ellipse cx="883.4" cy="168.8" rx="1.2" ry="1.4" fill="#a8803e" opacity="0.25"/>
<ellipse cx="888.1" cy="227.2" rx="1.1" ry="1.6" fill="#b88c48" opacity="0.38"/>
</g>
<line x1="718.6" y1="52.0" x2="718.6" y2="234.7" stroke="#222" stroke-width="1"/>
<rect x="805.2" y="52" width="1.6" height="182.7" fill="#4f6634" opacity="0.55"/>
<line x1="640.3" y1="242.9" x2="755.0" y2="242.9" stroke="#000" stroke-width="2"/>
<line x1="778.0" y1="242.9" x2="895.0" y2="242.9" stroke="#000" stroke-width="2"/>
<text x="696.8" y="263.9" font-size="12.5" text-anchor="middle" font-weight="normal" font-style="normal" fill="#000"  stroke="#000" stroke-width="0.25">N</text>
<text x="838.9" y="263.9" font-size="12.5" text-anchor="middle" font-weight="normal" font-style="normal" fill="#000"  stroke="#000" stroke-width="0.25">NHN</text>
<text x="310.4" y="261.1" font-size="10.8" text-anchor="start" font-weight="normal" font-style="normal" fill="#000"  stroke="#000" stroke-width="0.05">E</text>
<line x1="361.6" y1="266.5" x2="537.0" y2="266.5" stroke="#111" stroke-width="1.2"/>
<line x1="537.0" y1="266.5" x2="537.0" y2="484.2" stroke="#111" stroke-width="1.2"/>
<line x1="361.6" y1="265.9" x2="361.6" y2="484.2" stroke="#111" stroke-width="1.3"/>
<line x1="361.0" y1="484.2" x2="537.6" y2="484.2" stroke="#111" stroke-width="1.3"/>
<line x1="353.1" y1="484.2" x2="361.6" y2="484.2" stroke="#111" stroke-width="1.1"/>
<text x="352.8" y="488.4" font-size="12" text-anchor="end" font-weight="normal" font-style="normal" fill="#000"  stroke="#000" stroke-width="0.05">0</text>
<line x1="353.1" y1="411.6" x2="361.6" y2="411.6" stroke="#111" stroke-width="1.1"/>
<text x="352.8" y="415.8" font-size="12" text-anchor="end" font-weight="normal" font-style="normal" fill="#000"  stroke="#000" stroke-width="0.05">40</text>
<line x1="353.1" y1="339.1" x2="361.6" y2="339.1" stroke="#111" stroke-width="1.1"/>
<text x="352.8" y="343.3" font-size="12" text-anchor="end" font-weight="normal" font-style="normal" fill="#000"  stroke="#000" stroke-width="0.05">80</text>
<line x1="353.1" y1="266.5" x2="361.6" y2="266.5" stroke="#111" stroke-width="1.1"/>
<text x="352.8" y="270.7" font-size="12" text-anchor="end" font-weight="normal" font-style="normal" fill="#000"  stroke="#000" stroke-width="0.05">120</text>
<line x1="383.8" y1="484.2" x2="383.8" y2="493.5" stroke="#111" stroke-width="1.1"/>
<text x="386.6" y="503.8" font-size="11.9" text-anchor="middle" font-weight="normal" font-style="normal" fill="#000"  stroke="#000" stroke-width="0.05">0h</text>
<line x1="416.5" y1="484.2" x2="416.5" y2="493.5" stroke="#111" stroke-width="1.1"/>
<text x="419.3" y="503.8" font-size="11.9" text-anchor="middle" font-weight="normal" font-style="normal" fill="#000"  stroke="#000" stroke-width="0.05">6h</text>
<line x1="449.2" y1="484.2" x2="449.2" y2="493.5" stroke="#888" stroke-width="1.1"/>
<text x="452.0" y="503.8" font-size="11.9" text-anchor="middle" font-weight="normal" font-style="normal" fill="#000"  stroke="#000" stroke-width="0.05">12h</text>
<line x1="481.9" y1="484.2" x2="481.9" y2="493.5" stroke="#111" stroke-width="1.1"/>
<text x="484.7" y="503.8" font-size="11.9" text-anchor="middle" font-weight="normal" font-style="normal" fill="#000"  stroke="#000" stroke-width="0.05">24h</text>
<line x1="514.5" y1="484.2" x2="514.5" y2="493.5" stroke="#111" stroke-width="1.1"/>
<text x="517.3" y="503.8" font-size="11.9" text-anchor="middle" font-weight="normal" font-style="normal" fill="#000"  stroke="#000" stroke-width="0.05">48h</text>
<text x="456.2" y="523.9" font-size="12" text-anchor="middle" font-weight="normal" font-style="normal" fill="#000" textLength="142.5" lengthAdjust="spacingAndGlyphs" stroke="#000" stroke-width="0.05">Hours post inoculation (hpi)</text>
<text transform="translate(327.7,370.3) rotate(-90)" font-size="12" text-anchor="middle" textLength="121" lengthAdjust="spacingAndGlyphs">SA concents (ng/g FW)</text>
<rect x="372.9" y="439.8" width="10.9" height="44.4" fill="#000" />
<line x1="378.4" y1="425.6" x2="378.4" y2="439.8" stroke="#111" stroke-width="1.1"/>
<line x1="375.4" y1="425.6" x2="381.4" y2="425.6" stroke="#111" stroke-width="1.1"/>
<rect x="384.3" y="435.9" width="9.9" height="48.3" fill="#fff" stroke="#777" stroke-width="1.1"/>
<line x1="389.2" y1="425.4" x2="389.2" y2="446.5" stroke="#777" stroke-width="1.1"/>
<line x1="386.2" y1="425.4" x2="392.2" y2="425.4" stroke="#777" stroke-width="1.1"/>
<line x1="386.2" y1="446.5" x2="392.2" y2="446.5" stroke="#777" stroke-width="1.1"/>
<rect x="405.6" y="423.8" width="10.9" height="60.4" fill="#000" />
<line x1="411.1" y1="417.4" x2="411.1" y2="423.8" stroke="#111" stroke-width="1.1"/>
<line x1="408.1" y1="417.4" x2="414.1" y2="417.4" stroke="#111" stroke-width="1.1"/>
<rect x="417.0" y="436.9" width="9.9" height="47.3" fill="#fff" stroke="#777" stroke-width="1.1"/>
<line x1="421.9" y1="421.2" x2="421.9" y2="452.5" stroke="#777" stroke-width="1.1"/>
<line x1="418.9" y1="421.2" x2="424.9" y2="421.2" stroke="#777" stroke-width="1.1"/>
<line x1="418.9" y1="452.5" x2="424.9" y2="452.5" stroke="#777" stroke-width="1.1"/>
<rect x="438.3" y="438.8" width="10.9" height="45.4" fill="#000" />
<line x1="443.8" y1="434.1" x2="443.8" y2="438.8" stroke="#111" stroke-width="1.1"/>
<line x1="440.8" y1="434.1" x2="446.8" y2="434.1" stroke="#111" stroke-width="1.1"/>
<rect x="449.7" y="346.7" width="9.9" height="137.5" fill="#fff" stroke="#777" stroke-width="1.1"/>
<line x1="454.6" y1="318.2" x2="454.6" y2="375.2" stroke="#777" stroke-width="1.1"/>
<line x1="451.6" y1="318.2" x2="457.6" y2="318.2" stroke="#777" stroke-width="1.1"/>
<line x1="451.6" y1="375.2" x2="457.6" y2="375.2" stroke="#777" stroke-width="1.1"/>
<rect x="471.0" y="428.3" width="10.9" height="55.9" fill="#000" />
<line x1="476.4" y1="421.1" x2="476.4" y2="428.3" stroke="#111" stroke-width="1.1"/>
<line x1="473.4" y1="421.1" x2="479.4" y2="421.1" stroke="#111" stroke-width="1.1"/>
<rect x="482.4" y="429.8" width="9.9" height="54.4" fill="#fff" stroke="#777" stroke-width="1.1"/>
<line x1="487.3" y1="421.4" x2="487.3" y2="438.1" stroke="#777" stroke-width="1.1"/>
<line x1="484.3" y1="421.4" x2="490.3" y2="421.4" stroke="#777" stroke-width="1.1"/>
<line x1="484.3" y1="438.1" x2="490.3" y2="438.1" stroke="#777" stroke-width="1.1"/>
<rect x="503.6" y="428.3" width="10.9" height="55.9" fill="#000" />
<line x1="509.1" y1="426.1" x2="509.1" y2="428.3" stroke="#111" stroke-width="1.1"/>
<line x1="506.1" y1="426.1" x2="512.0" y2="426.1" stroke="#111" stroke-width="1.1"/>
<rect x="515.0" y="386.4" width="9.9" height="97.8" fill="#fff" stroke="#777" stroke-width="1.1"/>
<line x1="520.0" y1="366.5" x2="520.0" y2="406.4" stroke="#777" stroke-width="1.1"/>
<line x1="517.0" y1="366.5" x2="523.0" y2="366.5" stroke="#777" stroke-width="1.1"/>
<line x1="517.0" y1="406.4" x2="523.0" y2="406.4" stroke="#777" stroke-width="1.1"/>
<text x="455.0" y="316.6" font-size="13" text-anchor="middle" font-weight="bold" font-style="normal" fill="#000" >*</text>
<rect x="370.9" y="275.8" width="23.6" height="3.0" fill="#000" />
<rect x="371.4" y="291.4" width="22.6" height="3.2" fill="#fff" stroke="#777" stroke-width="1"/>
<text x="408.6" y="280.4" font-size="12.1" text-anchor="start" font-weight="normal" font-style="normal" fill="#000"  stroke="#000" stroke-width="0.05">Fielder</text>
<text x="408.6" y="295.6" font-size="12.4" text-anchor="start" font-weight="normal" font-style="normal" fill="#000"  stroke="#000" stroke-width="0.05"><tspan font-style="italic">TaCRK6</tspan>-OE</text>
<text x="594.0" y="263.5" font-size="10.8" text-anchor="start" font-weight="normal" font-style="normal" fill="#000"  stroke="#000" stroke-width="0.25">F</text>
<line x1="640.3" y1="285.6" x2="896.9" y2="285.6" stroke="#222" stroke-width="1.2"/>
<line x1="896.9" y1="285.6" x2="896.9" y2="467.8" stroke="#222" stroke-width="1.2"/>
<line x1="640.3" y1="285.0" x2="640.3" y2="467.8" stroke="#222" stroke-width="1.4"/>
<line x1="639.7" y1="467.8" x2="897.5" y2="467.8" stroke="#222" stroke-width="1.5"/>
<line x1="632.9" y1="467.8" x2="640.3" y2="467.8" stroke="#222" stroke-width="1.1"/>
<text x="633.1" y="472.1" font-size="12.5" text-anchor="end" font-weight="normal" font-style="normal" fill="#000"  stroke="#000" stroke-width="0.25">0</text>
<line x1="632.9" y1="376.7" x2="640.3" y2="376.7" stroke="#222" stroke-width="1.1"/>
<text x="633.1" y="381.0" font-size="12.5" text-anchor="end" font-weight="normal" font-style="normal" fill="#000"  stroke="#000" stroke-width="0.25">5</text>
<line x1="632.9" y1="285.6" x2="640.3" y2="285.6" stroke="#222" stroke-width="1.1"/>
<text x="633.1" y="289.9" font-size="12.5" text-anchor="end" font-weight="normal" font-style="normal" fill="#000"  stroke="#000" stroke-width="0.25">10</text>
<line x1="676.6" y1="467.8" x2="676.6" y2="474.8" stroke="#222" stroke-width="1.1"/>
<text x="678.9" y="487.0" font-size="12.4" text-anchor="middle" font-weight="normal" font-style="normal" fill="#000"  stroke="#000" stroke-width="0.25">0h</text>
<line x1="737.6" y1="467.8" x2="737.6" y2="474.8" stroke="#222" stroke-width="1.1"/>
<text x="739.9" y="487.0" font-size="12.4" text-anchor="middle" font-weight="normal" font-style="normal" fill="#000"  stroke="#000" stroke-width="0.25">12h</text>
<line x1="798.6" y1="467.8" x2="798.6" y2="474.8" stroke="#222" stroke-width="1.1"/>
<text x="800.9" y="487.0" font-size="12.4" text-anchor="middle" font-weight="normal" font-style="normal" fill="#000"  stroke="#000" stroke-width="0.25">24h</text>
<line x1="859.6" y1="467.8" x2="859.6" y2="474.8" stroke="#222" stroke-width="1.1"/>
<text x="861.9" y="487.0" font-size="12.4" text-anchor="middle" font-weight="normal" font-style="normal" fill="#000"  stroke="#000" stroke-width="0.25">48h</text>
<text x="771.4" y="505.0" font-size="12.8" text-anchor="middle" font-weight="normal" font-style="normal" fill="#000"  stroke="#000" stroke-width="0.25">Hours post temperature treatment (hptt)</text>
<text transform="translate(610.3,379.5) rotate(-90)" font-size="13.5" text-anchor="middle">Relative expression of <tspan font-style="italic">TaPAL</tspan></text>
<rect x="652.5" y="449.6" width="11.6" height="18.2" fill="#5a8fca" />
<line x1="658.3" y1="447.8" x2="658.3" y2="451.4" stroke="#111" stroke-width="1.1"/>
<line x1="655.3" y1="447.8" x2="661.3" y2="447.8" stroke="#111" stroke-width="1.1"/>
<line x1="655.3" y1="451.4" x2="661.3" y2="451.4" stroke="#111" stroke-width="1.1"/>
<text x="658.3" y="443.8" font-size="13" text-anchor="middle" font-weight="normal" font-style="normal" fill="#000"  stroke="#000" stroke-width="0.25">a</text>
<rect x="664.7" y="439.7" width="11.6" height="28.1" fill="#ee7b80" />
<line x1="670.5" y1="436.1" x2="670.5" y2="443.4" stroke="#111" stroke-width="1.1"/>
<line x1="667.5" y1="436.1" x2="673.5" y2="436.1" stroke="#111" stroke-width="1.1"/>
<line x1="667.5" y1="443.4" x2="673.5" y2="443.4" stroke="#111" stroke-width="1.1"/>
<text x="670.5" y="432.1" font-size="13" text-anchor="middle" font-weight="normal" font-style="normal" fill="#000"  stroke="#000" stroke-width="0.25">a</text>
<rect x="676.9" y="442.8" width="11.6" height="25.0" fill="#23877c" />
<line x1="682.7" y1="434.1" x2="682.7" y2="451.6" stroke="#111" stroke-width="1.1"/>
<line x1="679.7" y1="434.1" x2="685.7" y2="434.1" stroke="#111" stroke-width="1.1"/>
<line x1="679.7" y1="451.6" x2="685.7" y2="451.6" stroke="#111" stroke-width="1.1"/>
<text x="682.7" y="430.1" font-size="13" text-anchor="middle" font-weight="normal" font-style="normal" fill="#000"  stroke="#000" stroke-width="0.25">a</text>
<rect x="689.1" y="450.9" width="11.6" height="16.9" fill="#f2c558" />
<line x1="694.9" y1="449.0" x2="694.9" y2="452.7" stroke="#111" stroke-width="1.1"/>
<line x1="691.9" y1="449.0" x2="697.9" y2="449.0" stroke="#111" stroke-width="1.1"/>
<line x1="691.9" y1="452.7" x2="697.9" y2="452.7" stroke="#111" stroke-width="1.1"/>
<text x="694.9" y="445.0" font-size="13" text-anchor="middle" font-weight="normal" font-style="normal" fill="#000"  stroke="#000" stroke-width="0.25">a</text>
<rect x="713.5" y="454.7" width="11.6" height="13.1" fill="#5a8fca" />
<line x1="719.3" y1="450.7" x2="719.3" y2="458.7" stroke="#111" stroke-width="1.1"/>
<line x1="716.3" y1="450.7" x2="722.3" y2="450.7" stroke="#111" stroke-width="1.1"/>
<line x1="716.3" y1="458.7" x2="722.3" y2="458.7" stroke="#111" stroke-width="1.1"/>
<text x="719.3" y="446.7" font-size="13" text-anchor="middle" font-weight="normal" font-style="normal" fill="#000"  stroke="#000" stroke-width="0.25">b</text>
<rect x="725.7" y="336.8" width="11.6" height="131.0" fill="#ee7b80" />
<line x1="731.5" y1="328.2" x2="731.5" y2="345.4" stroke="#111" stroke-width="1.1"/>
<line x1="728.5" y1="328.2" x2="734.5" y2="328.2" stroke="#111" stroke-width="1.1"/>
<line x1="728.5" y1="345.4" x2="734.5" y2="345.4" stroke="#111" stroke-width="1.1"/>
<text x="731.5" y="324.2" font-size="13" text-anchor="middle" font-weight="normal" font-style="normal" fill="#000"  stroke="#000" stroke-width="0.25">a</text>
<rect x="737.9" y="450.7" width="11.6" height="17.1" fill="#23877c" />
<line x1="743.7" y1="449.2" x2="743.7" y2="452.1" stroke="#111" stroke-width="1.1"/>
<line x1="740.7" y1="449.2" x2="746.7" y2="449.2" stroke="#111" stroke-width="1.1"/>
<line x1="740.7" y1="452.1" x2="746.7" y2="452.1" stroke="#111" stroke-width="1.1"/>
<text x="743.7" y="445.2" font-size="13" text-anchor="middle" font-weight="normal" font-style="normal" fill="#000"  stroke="#000" stroke-width="0.25">b</text>
<rect x="750.1" y="454.9" width="11.6" height="12.9" fill="#f2c558" />
<line x1="755.9" y1="454.1" x2="755.9" y2="455.6" stroke="#111" stroke-width="1.1"/>
<line x1="752.9" y1="454.1" x2="758.9" y2="454.1" stroke="#111" stroke-width="1.1"/>
<line x1="752.9" y1="455.6" x2="758.9" y2="455.6" stroke="#111" stroke-width="1.1"/>
<text x="755.9" y="450.1" font-size="13" text-anchor="middle" font-weight="normal" font-style="normal" fill="#000"  stroke="#000" stroke-width="0.25">b</text>
<rect x="774.5" y="457.6" width="11.6" height="10.2" fill="#5a8fca" />
<line x1="780.3" y1="455.0" x2="780.3" y2="460.1" stroke="#111" stroke-width="1.1"/>
<line x1="777.3" y1="455.0" x2="783.3" y2="455.0" stroke="#111" stroke-width="1.1"/>
<line x1="777.3" y1="460.1" x2="783.3" y2="460.1" stroke="#111" stroke-width="1.1"/>
<text x="780.3" y="451.0" font-size="13" text-anchor="middle" font-weight="normal" font-style="normal" fill="#000"  stroke="#000" stroke-width="0.25">b</text>
<rect x="786.7" y="382.2" width="11.6" height="85.6" fill="#ee7b80" />
<line x1="792.5" y1="374.1" x2="792.5" y2="390.2" stroke="#111" stroke-width="1.1"/>
<line x1="789.5" y1="374.1" x2="795.5" y2="374.1" stroke="#111" stroke-width="1.1"/>
<line x1="789.5" y1="390.2" x2="795.5" y2="390.2" stroke="#111" stroke-width="1.1"/>
<text x="792.5" y="370.1" font-size="13" text-anchor="middle" font-weight="normal" font-style="normal" fill="#000"  stroke="#000" stroke-width="0.25">a</text>
<rect x="798.9" y="454.9" width="11.6" height="12.9" fill="#23877c" />
<line x1="804.7" y1="452.1" x2="804.7" y2="457.6" stroke="#111" stroke-width="1.1"/>
<line x1="801.7" y1="452.1" x2="807.7" y2="452.1" stroke="#111" stroke-width="1.1"/>
<line x1="801.7" y1="457.6" x2="807.7" y2="457.6" stroke="#111" stroke-width="1.1"/>
<text x="804.7" y="448.1" font-size="13" text-anchor="middle" font-weight="normal" font-style="normal" fill="#000"  stroke="#000" stroke-width="0.25">b</text>
<rect x="811.1" y="453.8" width="11.6" height="14.0" fill="#f2c558" />
<line x1="816.9" y1="448.9" x2="816.9" y2="458.7" stroke="#111" stroke-width="1.1"/>
<line x1="813.9" y1="448.9" x2="819.9" y2="448.9" stroke="#111" stroke-width="1.1"/>
<line x1="813.9" y1="458.7" x2="819.9" y2="458.7" stroke="#111" stroke-width="1.1"/>
<text x="816.9" y="444.9" font-size="13" text-anchor="middle" font-weight="normal" font-style="normal" fill="#000"  stroke="#000" stroke-width="0.25">b</text>
<rect x="835.5" y="445.9" width="11.6" height="21.9" fill="#5a8fca" />
<line x1="841.3" y1="441.6" x2="841.3" y2="450.3" stroke="#111" stroke-width="1.1"/>
<line x1="838.3" y1="441.6" x2="844.3" y2="441.6" stroke="#111" stroke-width="1.1"/>
<line x1="838.3" y1="450.3" x2="844.3" y2="450.3" stroke="#111" stroke-width="1.1"/>
<text x="841.3" y="437.6" font-size="13" text-anchor="middle" font-weight="normal" font-style="normal" fill="#000"  stroke="#000" stroke-width="0.25">b</text>
<rect x="847.7" y="415.5" width="11.6" height="52.3" fill="#ee7b80" />
<line x1="853.5" y1="413.1" x2="853.5" y2="417.9" stroke="#111" stroke-width="1.1"/>
<line x1="850.5" y1="413.1" x2="856.5" y2="413.1" stroke="#111" stroke-width="1.1"/>
<line x1="850.5" y1="417.9" x2="856.5" y2="417.9" stroke="#111" stroke-width="1.1"/>
<text x="853.5" y="409.1" font-size="13" text-anchor="middle" font-weight="normal" font-style="normal" fill="#000"  stroke="#000" stroke-width="0.25">a</text>
<rect x="859.9" y="456.1" width="11.6" height="11.7" fill="#23877c" />
<line x1="865.7" y1="453.4" x2="865.7" y2="458.9" stroke="#111" stroke-width="1.1"/>
<line x1="862.7" y1="453.4" x2="868.7" y2="453.4" stroke="#111" stroke-width="1.1"/>
<line x1="862.7" y1="458.9" x2="868.7" y2="458.9" stroke="#111" stroke-width="1.1"/>
<text x="865.7" y="449.4" font-size="13" text-anchor="middle" font-weight="normal" font-style="normal" fill="#000"  stroke="#000" stroke-width="0.25">c</text>
<rect x="872.1" y="457.1" width="11.6" height="10.7" fill="#f2c558" />
<line x1="877.9" y1="456.0" x2="877.9" y2="458.1" stroke="#111" stroke-width="1.1"/>
<line x1="874.9" y1="456.0" x2="880.9" y2="456.0" stroke="#111" stroke-width="1.1"/>
<line x1="874.9" y1="458.1" x2="880.9" y2="458.1" stroke="#111" stroke-width="1.1"/>
<text x="877.9" y="452.0" font-size="13" text-anchor="middle" font-weight="normal" font-style="normal" fill="#000"  stroke="#000" stroke-width="0.25">c</text>
<rect x="647.7" y="292.6" width="19.9" height="4.0" fill="#5a8fca" />
<rect x="647.7" y="306.2" width="19.9" height="4.0" fill="#23877c" />
<rect x="759.8" y="292.6" width="20.2" height="4.0" fill="#ee7b80" />
<rect x="759.8" y="306.2" width="20.2" height="4.0" fill="#f2c558" />
<text x="673.4" y="298.4" font-size="12.7" text-anchor="start" font-weight="normal" font-style="normal" fill="#000"  stroke="#000" stroke-width="0.25">N  <tspan font-style="italic">00</tspan></text>
<text x="673.4" y="311.6" font-size="12.7" text-anchor="start" font-weight="normal" font-style="normal" fill="#000"  stroke="#000" stroke-width="0.25">N  <tspan font-style="italic">TaMAPK6</tspan></text>
<text x="791.8" y="298.4" font-size="12.7" text-anchor="start" font-weight="normal" font-style="normal" fill="#000"  stroke="#000" stroke-width="0.25">NHN  <tspan font-style="italic">00</tspan></text>
<text x="791.8" y="311.6" font-size="12.7" text-anchor="start" font-weight="normal" font-style="normal" fill="#000"  stroke="#000" stroke-width="0.25">NHN  <tspan font-style="italic">TaMAPK6</tspan></text>
<text x="929.6" y="11.8" font-size="10.8" text-anchor="start" font-weight="normal" font-style="normal" fill="#000"  stroke="#000" stroke-width="0.25">G</text>
<text x="949.0" y="44.3" font-size="17" text-anchor="start" font-weight="bold" font-style="normal" fill="#000" >High temperature</text>
<text x="949.0" y="103.3" font-size="16.8" text-anchor="start" font-weight="bold" font-style="normal" fill="#000" >Apoplast</text>
<text x="949.0" y="197.3" font-size="16.8" text-anchor="start" font-weight="bold" font-style="normal" fill="#000" >Cytoplasm</text>
<circle cx="1118.1" cy="37.4" r="12.6" fill="#f4cb62"/>
<line x1="1118.1" y1="21.4" x2="1118.1" y2="12.4" stroke="#f4cb62" stroke-width="3.5"/>
<line x1="1106.8" y1="26.1" x2="1100.4" y2="19.7" stroke="#f4cb62" stroke-width="3.5"/>
<line x1="1102.1" y1="37.4" x2="1093.1" y2="37.4" stroke="#f4cb62" stroke-width="3.5"/>
<line x1="1106.8" y1="48.7" x2="1100.4" y2="55.1" stroke="#f4cb62" stroke-width="3.5"/>
<line x1="1118.1" y1="53.4" x2="1118.1" y2="62.4" stroke="#f4cb62" stroke-width="3.5"/>
<path d="M1133.3,44 L1133.3,20 A5.3,5.3 0 0 1 1143.9,20 L1143.9,44 A11,11 0 1 1 1133.3,44 Z" fill="#fff" stroke="#000" stroke-width="3.6"/>
<circle cx="1138.6" cy="54.6" r="6.6" fill="#d9232a"/>
<rect x="1137.3" y="34" width="2.6" height="20" fill="#d9232a"/>
<text x="1158.0" y="44.7" font-size="16.8" text-anchor="start" font-weight="bold" font-style="normal" fill="#d4232b" stroke="#d4232b" stroke-width="0.4">20</text>
<circle cx="1180.6" cy="35.6" r="1.75" fill="none" stroke="#d4232b" stroke-width="1.1"/>
<text x="1183.3" y="44.7" font-size="15.0" text-anchor="start" font-weight="normal" font-style="normal" fill="#d4232b" stroke="#d4232b" stroke-width="0.55">C</text>
<text x="1158.2" y="64.8" font-size="16.3" text-anchor="start" font-weight="bold" font-style="normal" fill="#d4232b" stroke="#d4232b" stroke-width="0.4">24 h</text>
<g fill="#f2a232" stroke="#9a6414" stroke-width="0.7">
<ellipse cx="1204.6" cy="28.0" rx="4.6" ry="2.8" transform="rotate(38 1204.6 28.0)"/>
<ellipse cx="1216.6" cy="26.6" rx="2.5" ry="4.5" transform="rotate(8 1216.6 26.6)"/>
<ellipse cx="1221.0" cy="28.6" rx="2.6" ry="4.2" transform="rotate(40 1221.0 28.6)"/>
<ellipse cx="1201.8" cy="38.8" rx="4.3" ry="2.6" transform="rotate(-8 1201.8 38.8)"/>
<ellipse cx="1225.2" cy="41.0" rx="5.0" ry="2.8" transform="rotate(20 1225.2 41.0)"/>
<ellipse cx="1205.0" cy="46.2" rx="4.6" ry="2.8" transform="rotate(-40 1205.0 46.2)"/>
<ellipse cx="1213.5" cy="38.6" rx="6.1" ry="7.6" transform="rotate(-12 1213.5 38.6)"/>
</g>
<ellipse cx="1210.8" cy="35" rx="1.2" ry="1.8" fill="#f8d080" opacity="0.8"/>
<text x="1204.0" y="66.0" font-size="16" text-anchor="start" font-weight="bold" font-style="italic" fill="#e8962e" stroke="#e8962e" stroke-width="0.5">Pst</text>
<path d="M1132.2,135.6L1131.4,138.3V142.8M1133.2,135.6L1134.0,138.3V142.8M1131.4,144.6V149L1132.3,151.3M1134.0,144.6V149L1133.1,151.3M1127.0,135.6L1126.2,138.3V142.8M1128.0,135.6L1128.8,138.3V142.8M1126.2,144.6V149L1127.1,151.3M1128.8,144.6V149L1127.9,151.3M1121.9,135.6L1121.1,138.3V142.8M1122.9,135.6L1123.7,138.3V142.8M1121.1,144.6V149L1122.0,151.3M1123.7,144.6V149L1122.8,151.3M1116.7,135.6L1115.9,138.3V142.8M1117.7,135.6L1118.5,138.3V142.8M1115.9,144.6V149L1116.8,151.3M1118.5,144.6V149L1117.6,151.3M1111.6,135.6L1110.8,138.3V142.8M1112.6,135.6L1113.4,138.3V142.8M1110.8,144.6V149L1111.7,151.3M1113.4,144.6V149L1112.5,151.3M1106.4,135.6L1105.6,138.3V142.8M1107.4,135.6L1108.2,138.3V142.8M1105.6,144.6V149L1106.5,151.3M1108.2,144.6V149L1107.3,151.3M1101.2,135.6L1100.4,138.3V142.8M1102.2,135.6L1103.0,138.3V142.8M1100.4,144.6V149L1101.3,151.3M1103.0,144.6V149L1102.1,151.3M1096.1,135.6L1095.3,138.3V142.8M1097.1,135.6L1097.9,138.3V142.8M1095.3,144.6V149L1096.2,151.3M1097.9,144.6V149L1097.0,151.3M1090.9,135.6L1090.1,138.3V142.8M1091.9,135.6L1092.7,138.3V142.8M1090.1,144.6V149L1091.0,151.3M1092.7,144.6V149L1091.8,151.3M1085.8,135.6L1085.0,138.3V142.8M1086.8,135.6L1087.6,138.3V142.8M1085.0,144.6V149L1085.9,151.3M1087.6,144.6V149L1086.7,151.3M1080.6,135.6L1079.8,138.3V142.8M1081.6,135.6L1082.4,138.3V142.8M1079.8,144.6V149L1080.7,151.3M1082.4,144.6V149L1081.5,151.3M1075.5,135.6L1074.7,138.3V142.8M1076.5,135.6L1077.3,138.3V142.8M1074.7,144.6V149L1075.6,151.3M1077.3,144.6V149L1076.4,151.3M1070.3,135.6L1069.5,138.3V142.8M1071.3,135.6L1072.1,138.3V142.8M1069.5,144.6V149L1070.4,151.3M1072.1,144.6V149L1071.2,151.3M1065.1,135.6L1064.3,138.3V142.8M1066.1,135.6L1066.9,138.3V142.8M1064.3,144.6V149L1065.2,151.3M1066.9,144.6V149L1066.0,151.3M1060.0,135.6L1059.2,138.3V142.8M1061.0,135.6L1061.8,138.3V142.8M1059.2,144.6V149L1060.1,151.3M1061.8,144.6V149L1060.9,151.3M1054.8,135.6L1054.0,138.3V142.8M1055.8,135.6L1056.6,138.3V142.8M1054.0,144.6V149L1054.9,151.3M1056.6,144.6V149L1055.7,151.3M1049.7,135.6L1048.9,138.3V142.8M1050.7,135.6L1051.5,138.3V142.8M1048.9,144.6V149L1049.8,151.3M1051.5,144.6V149L1050.6,151.3M1044.5,135.6L1043.7,138.3V142.8M1045.5,135.6L1046.3,138.3V142.8M1043.7,144.6V149L1044.6,151.3M1046.3,144.6V149L1045.4,151.3M1039.3,135.6L1038.5,138.3V142.8M1040.3,135.6L1041.1,138.3V142.8M1038.5,144.6V149L1039.4,151.3M1041.1,144.6V149L1040.2,151.3M1034.2,135.6L1033.4,138.3V142.8M1035.2,135.6L1036.0,138.3V142.8M1033.4,144.6V149L1034.3,151.3M1036.0,144.6V149L1035.1,151.3M1029.0,135.6L1028.2,138.3V142.8M1030.0,135.6L1030.8,138.3V142.8M1028.2,144.6V149L1029.1,151.3M1030.8,144.6V149L1029.9,151.3M1023.9,135.6L1023.1,138.3V142.8M1024.9,135.6L1025.7,138.3V142.8M1023.1,144.6V149L1024.0,151.3M1025.7,144.6V149L1024.8,151.3M1018.7,135.6L1017.9,138.3V142.8M1019.7,135.6L1020.5,138.3V142.8M1017.9,144.6V149L1018.8,151.3M1020.5,144.6V149L1019.6,151.3M1013.5,135.6L1012.7,138.3V142.8M1014.5,135.6L1015.3,138.3V142.8M1012.7,144.6V149L1013.6,151.3M1015.3,144.6V149L1014.4,151.3M1008.4,135.6L1007.6,138.3V142.8M1009.4,135.6L1010.2,138.3V142.8M1007.6,144.6V149L1008.5,151.3M1010.2,144.6V149L1009.3,151.3M1003.2,135.6L1002.4,138.3V142.8M1004.2,135.6L1005.0,138.3V142.8M1002.4,144.6V149L1003.3,151.3M1005.0,144.6V149L1004.1,151.3M998.1,135.6L997.3,138.3V142.8M999.1,135.6L999.9,138.3V142.8M997.3,144.6V149L998.2,151.3M999.9,144.6V149L999.0,151.3M992.9,135.6L992.1,138.3V142.8M993.9,135.6L994.7,138.3V142.8M992.1,144.6V149L993.0,151.3M994.7,144.6V149L993.8,151.3M987.7,135.6L986.9,138.3V142.8M988.7,135.6L989.5,138.3V142.8M986.9,144.6V149L987.8,151.3M989.5,144.6V149L988.6,151.3M982.6,135.6L981.8,138.3V142.8M983.6,135.6L984.4,138.3V142.8M981.8,144.6V149L982.7,151.3M984.4,144.6V149L983.5,151.3M977.4,135.6L976.6,138.3V142.8M978.4,135.6L979.2,138.3V142.8M976.6,144.6V149L977.5,151.3M979.2,144.6V149L978.3,151.3M972.3,135.6L971.5,138.3V142.8M973.3,135.6L974.1,138.3V142.8M971.5,144.6V149L972.4,151.3M974.1,144.6V149L973.2,151.3M967.1,135.6L966.3,138.3V142.8M968.1,135.6L968.9,138.3V142.8M966.3,144.6V149L967.2,151.3M968.9,144.6V149L968.0,151.3M962.0,135.6L961.2,138.3V142.8M963.0,135.6L963.8,138.3V142.8M961.2,144.6V149L962.1,151.3M963.8,144.6V149L962.9,151.3M956.8,135.6L956.0,138.3V142.8M957.8,135.6L958.6,138.3V142.8M956.0,144.6V149L956.9,151.3M958.6,144.6V149L957.7,151.3M951.6,135.6L950.8,138.3V142.8M952.6,135.6L953.4,138.3V142.8M950.8,144.6V149L951.7,151.3M953.4,144.6V149L952.5,151.3M946.5,135.6L945.7,138.3V142.8M947.5,135.6L948.3,138.3V142.8M945.7,144.6V149L946.6,151.3M948.3,144.6V149L947.4,151.3M941.3,135.6L940.5,138.3V142.8M942.3,135.6L943.1,138.3V142.8M940.5,144.6V149L941.4,151.3M943.1,144.6V149L942.2,151.3M1142.6,135.6L1141.8,138.3V142.8M1143.6,135.6L1144.4,138.3V142.8M1141.8,144.6V149L1142.7,151.3M1144.4,144.6V149L1143.5,151.3M1147.7,135.6L1146.9,138.3V142.8M1148.7,135.6L1149.5,138.3V142.8M1146.9,144.6V149L1147.8,151.3M1149.5,144.6V149L1148.6,151.3M1152.8,135.6L1152.0,138.3V142.8M1153.8,135.6L1154.6,138.3V142.8M1152.0,144.6V149L1152.9,151.3M1154.6,144.6V149L1153.7,151.3M1158.0,135.6L1157.2,138.3V142.8M1159.0,135.6L1159.8,138.3V142.8M1157.2,144.6V149L1158.1,151.3M1159.8,144.6V149L1158.9,151.3M1163.1,135.6L1162.3,138.3V142.8M1164.1,135.6L1164.9,138.3V142.8M1162.3,144.6V149L1163.2,151.3M1164.9,144.6V149L1164.0,151.3M1168.2,135.6L1167.4,138.3V142.8M1169.2,135.6L1170.0,138.3V142.8M1167.4,144.6V149L1168.3,151.3M1170.0,144.6V149L1169.1,151.3M1173.3,135.6L1172.5,138.3V142.8M1174.3,135.6L1175.1,138.3V142.8M1172.5,144.6V149L1173.4,151.3M1175.1,144.6V149L1174.2,151.3M1178.4,135.6L1177.6,138.3V142.8M1179.4,135.6L1180.2,138.3V142.8M1177.6,144.6V149L1178.5,151.3M1180.2,144.6V149L1179.3,151.3M1183.6,135.6L1182.8,138.3V142.8M1184.6,135.6L1185.4,138.3V142.8M1182.8,144.6V149L1183.7,151.3M1185.4,144.6V149L1184.5,151.3M1188.7,135.6L1187.9,138.3V142.8M1189.7,135.6L1190.5,138.3V142.8M1187.9,144.6V149L1188.8,151.3M1190.5,144.6V149L1189.6,151.3M1193.8,135.6L1193.0,138.3V142.8M1194.8,135.6L1195.6,138.3V142.8M1193.0,144.6V149L1193.9,151.3M1195.6,144.6V149L1194.7,151.3M1198.9,135.6L1198.1,138.3V142.8M1199.9,135.6L1200.7,138.3V142.8M1198.1,144.6V149L1199.0,151.3M1200.7,144.6V149L1199.8,151.3M1204.0,135.6L1203.2,138.3V142.8M1205.0,135.6L1205.8,138.3V142.8M1203.2,144.6V149L1204.1,151.3M1205.8,144.6V149L1204.9,151.3M1209.2,135.6L1208.4,138.3V142.8M1210.2,135.6L1211.0,138.3V142.8M1208.4,144.6V149L1209.3,151.3M1211.0,144.6V149L1210.1,151.3M1214.3,135.6L1213.5,138.3V142.8M1215.3,135.6L1216.1,138.3V142.8M1213.5,144.6V149L1214.4,151.3M1216.1,144.6V149L1215.2,151.3M1219.4,135.6L1218.6,138.3V142.8M1220.4,135.6L1221.2,138.3V142.8M1218.6,144.6V149L1219.5,151.3M1221.2,144.6V149L1220.3,151.3M1224.5,135.6L1223.7,138.3V142.8M1225.5,135.6L1226.3,138.3V142.8M1223.7,144.6V149L1224.6,151.3M1226.3,144.6V149L1225.4,151.3M1229.6,135.6L1228.8,138.3V142.8M1230.6,135.6L1231.4,138.3V142.8M1228.8,144.6V149L1229.7,151.3M1231.4,144.6V149L1230.5,151.3M1234.8,135.6L1234.0,138.3V142.8M1235.8,135.6L1236.6,138.3V142.8M1234.0,144.6V149L1234.9,151.3M1236.6,144.6V149L1235.7,151.3M1239.9,135.6L1239.1,138.3V142.8M1240.9,135.6L1241.7,138.3V142.8M1239.1,144.6V149L1240.0,151.3M1241.7,144.6V149L1240.8,151.3M1245.0,135.6L1244.2,138.3V142.8M1246.0,135.6L1246.8,138.3V142.8M1244.2,144.6V149L1245.1,151.3M1246.8,144.6V149L1245.9,151.3M1250.1,135.6L1249.3,138.3V142.8M1251.1,135.6L1251.9,138.3V142.8M1249.3,144.6V149L1250.2,151.3M1251.9,144.6V149L1251.0,151.3M1255.2,135.6L1254.4,138.3V142.8M1256.2,135.6L1257.0,138.3V142.8M1254.4,144.6V149L1255.3,151.3M1257.0,144.6V149L1256.1,151.3M1260.4,135.6L1259.6,138.3V142.8M1261.4,135.6L1262.2,138.3V142.8M1259.6,144.6V149L1260.5,151.3M1262.2,144.6V149L1261.3,151.3" stroke="#1c2a62" stroke-width="0.8" fill="none"/>
<circle cx="1132.7" cy="132.4" r="2.45" fill="#93abdc" stroke="#5a6fae" stroke-width="0.7"/>
<circle cx="1132.7" cy="153.6" r="2.45" fill="#93abdc" stroke="#5a6fae" stroke-width="0.7"/>
<circle cx="1127.5" cy="132.4" r="2.45" fill="#93abdc" stroke="#5a6fae" stroke-width="0.7"/>
<circle cx="1127.5" cy="153.6" r="2.45" fill="#93abdc" stroke="#5a6fae" stroke-width="0.7"/>
<circle cx="1122.4" cy="132.4" r="2.45" fill="#93abdc" stroke="#5a6fae" stroke-width="0.7"/>
<circle cx="1122.4" cy="153.6" r="2.45" fill="#93abdc" stroke="#5a6fae" stroke-width="0.7"/>
<circle cx="1117.2" cy="132.4" r="2.45" fill="#93abdc" stroke="#5a6fae" stroke-width="0.7"/>
<circle cx="1117.2" cy="153.6" r="2.45" fill="#93abdc" stroke="#5a6fae" stroke-width="0.7"/>
<circle cx="1112.1" cy="132.4" r="2.45" fill="#93abdc" stroke="#5a6fae" stroke-width="0.7"/>
<circle cx="1112.1" cy="153.6" r="2.45" fill="#93abdc" stroke="#5a6fae" stroke-width="0.7"/>
<circle cx="1106.9" cy="132.4" r="2.45" fill="#93abdc" stroke="#5a6fae" stroke-width="0.7"/>
<circle cx="1106.9" cy="153.6" r="2.45" fill="#93abdc" stroke="#5a6fae" stroke-width="0.7"/>
<circle cx="1101.7" cy="132.4" r="2.45" fill="#93abdc" stroke="#5a6fae" stroke-width="0.7"/>
<circle cx="1101.7" cy="153.6" r="2.45" fill="#93abdc" stroke="#5a6fae" stroke-width="0.7"/>
<circle cx="1096.6" cy="132.4" r="2.45" fill="#93abdc" stroke="#5a6fae" stroke-width="0.7"/>
<circle cx="1096.6" cy="153.6" r="2.45" fill="#93abdc" stroke="#5a6fae" stroke-width="0.7"/>
<circle cx="1091.4" cy="132.4" r="2.45" fill="#93abdc" stroke="#5a6fae" stroke-width="0.7"/>
<circle cx="1091.4" cy="153.6" r="2.45" fill="#93abdc" stroke="#5a6fae" stroke-width="0.7"/>
<circle cx="1086.3" cy="132.4" r="2.45" fill="#93abdc" stroke="#5a6fae" stroke-width="0.7"/>
<circle cx="1086.3" cy="153.6" r="2.45" fill="#93abdc" stroke="#5a6fae" stroke-width="0.7"/>
<circle cx="1081.1" cy="132.4" r="2.45" fill="#93abdc" stroke="#5a6fae" stroke-width="0.7"/>
<circle cx="1081.1" cy="153.6" r="2.45" fill="#93abdc" stroke="#5a6fae" stroke-width="0.7"/>
<circle cx="1076.0" cy="132.4" r="2.45" fill="#93abdc" stroke="#5a6fae" stroke-width="0.7"/>
<circle cx="1076.0" cy="153.6" r="2.45" fill="#93abdc" stroke="#5a6fae" stroke-width="0.7"/>
<circle cx="1070.8" cy="132.4" r="2.45" fill="#93abdc" stroke="#5a6fae" stroke-width="0.7"/>
<circle cx="1070.8" cy="153.6" r="2.45" fill="#93abdc" stroke="#5a6fae" stroke-width="0.7"/>
<circle cx="1065.6" cy="132.4" r="2.45" fill="#93abdc" stroke="#5a6fae" stroke-width="0.7"/>
<circle cx="1065.6" cy="153.6" r="2.45" fill="#93abdc" stroke="#5a6fae" stroke-width="0.7"/>
<circle cx="1060.5" cy="132.4" r="2.45" fill="#93abdc" stroke="#5a6fae" stroke-width="0.7"/>
<circle cx="1060.5" cy="153.6" r="2.45" fill="#93abdc" stroke="#5a6fae" stroke-width="0.7"/>
<circle cx="1055.3" cy="132.4" r="2.45" fill="#93abdc" stroke="#5a6fae" stroke-width="0.7"/>
<circle cx="1055.3" cy="153.6" r="2.45" fill="#93abdc" stroke="#5a6fae" stroke-width="0.7"/>
<circle cx="1050.2" cy="132.4" r="2.45" fill="#93abdc" stroke="#5a6fae" stroke-width="0.7"/>
<circle cx="1050.2" cy="153.6" r="2.45" fill="#93abdc" stroke="#5a6fae" stroke-width="0.7"/>
<circle cx="1045.0" cy="132.4" r="2.45" fill="#93abdc" stroke="#5a6fae" stroke-width="0.7"/>
<circle cx="1045.0" cy="153.6" r="2.45" fill="#93abdc" stroke="#5a6fae" stroke-width="0.7"/>
<circle cx="1039.8" cy="132.4" r="2.45" fill="#93abdc" stroke="#5a6fae" stroke-width="0.7"/>
<circle cx="1039.8" cy="153.6" r="2.45" fill="#93abdc" stroke="#5a6fae" stroke-width="0.7"/>
<circle cx="1034.7" cy="132.4" r="2.45" fill="#93abdc" stroke="#5a6fae" stroke-width="0.7"/>
<circle cx="1034.7" cy="153.6" r="2.45" fill="#93abdc" stroke="#5a6fae" stroke-width="0.7"/>
<circle cx="1029.5" cy="132.4" r="2.45" fill="#93abdc" stroke="#5a6fae" stroke-width="0.7"/>
<circle cx="1029.5" cy="153.6" r="2.45" fill="#93abdc" stroke="#5a6fae" stroke-width="0.7"/>
<circle cx="1024.4" cy="132.4" r="2.45" fill="#93abdc" stroke="#5a6fae" stroke-width="0.7"/>
<circle cx="1024.4" cy="153.6" r="2.45" fill="#93abdc" stroke="#5a6fae" stroke-width="0.7"/>
<circle cx="1019.2" cy="132.4" r="2.45" fill="#93abdc" stroke="#5a6fae" stroke-width="0.7"/>
<circle cx="1019.2" cy="153.6" r="2.45" fill="#93abdc" stroke="#5a6fae" stroke-width="0.7"/>
<circle cx="1014.0" cy="132.4" r="2.45" fill="#93abdc" stroke="#5a6fae" stroke-width="0.7"/>
<circle cx="1014.0" cy="153.6" r="2.45" fill="#93abdc" stroke="#5a6fae" stroke-width="0.7"/>
<circle cx="1008.9" cy="132.4" r="2.45" fill="#93abdc" stroke="#5a6fae" stroke-width="0.7"/>
<circle cx="1008.9" cy="153.6" r="2.45" fill="#93abdc" stroke="#5a6fae" stroke-width="0.7"/>
<circle cx="1003.7" cy="132.4" r="2.45" fill="#93abdc" stroke="#5a6fae" stroke-width="0.7"/>
<circle cx="1003.7" cy="153.6" r="2.45" fill="#93abdc" stroke="#5a6fae" stroke-width="0.7"/>
<circle cx="998.6" cy="132.4" r="2.45" fill="#93abdc" stroke="#5a6fae" stroke-width="0.7"/>
<circle cx="998.6" cy="153.6" r="2.45" fill="#93abdc" stroke="#5a6fae" stroke-width="0.7"/>
<circle cx="993.4" cy="132.4" r="2.45" fill="#93abdc" stroke="#5a6fae" stroke-width="0.7"/>
<circle cx="993.4" cy="153.6" r="2.45" fill="#93abdc" stroke="#5a6fae" stroke-width="0.7"/>
<circle cx="988.2" cy="132.4" r="2.45" fill="#93abdc" stroke="#5a6fae" stroke-width="0.7"/>
<circle cx="988.2" cy="153.6" r="2.45" fill="#93abdc" stroke="#5a6fae" stroke-width="0.7"/>
<circle cx="983.1" cy="132.4" r="2.45" fill="#93abdc" stroke="#5a6fae" stroke-width="0.7"/>
<circle cx="983.1" cy="153.6" r="2.45" fill="#93abdc" stroke="#5a6fae" stroke-width="0.7"/>
<circle cx="977.9" cy="132.4" r="2.45" fill="#93abdc" stroke="#5a6fae" stroke-width="0.7"/>
<circle cx="977.9" cy="153.6" r="2.45" fill="#93abdc" stroke="#5a6fae" stroke-width="0.7"/>
<circle cx="972.8" cy="132.4" r="2.45" fill="#93abdc" stroke="#5a6fae" stroke-width="0.7"/>
<circle cx="972.8" cy="153.6" r="2.45" fill="#93abdc" stroke="#5a6fae" stroke-width="0.7"/>
<circle cx="967.6" cy="132.4" r="2.45" fill="#93abdc" stroke="#5a6fae" stroke-width="0.7"/>
<circle cx="967.6" cy="153.6" r="2.45" fill="#93abdc" stroke="#5a6fae" stroke-width="0.7"/>
<circle cx="962.5" cy="132.4" r="2.45" fill="#93abdc" stroke="#5a6fae" stroke-width="0.7"/>
<circle cx="962.5" cy="153.6" r="2.45" fill="#93abdc" stroke="#5a6fae" stroke-width="0.7"/>
<circle cx="957.3" cy="132.4" r="2.45" fill="#93abdc" stroke="#5a6fae" stroke-width="0.7"/>
<circle cx="957.3" cy="153.6" r="2.45" fill="#93abdc" stroke="#5a6fae" stroke-width="0.7"/>
<circle cx="952.1" cy="132.4" r="2.45" fill="#93abdc" stroke="#5a6fae" stroke-width="0.7"/>
<circle cx="952.1" cy="153.6" r="2.45" fill="#93abdc" stroke="#5a6fae" stroke-width="0.7"/>
<circle cx="947.0" cy="132.4" r="2.45" fill="#93abdc" stroke="#5a6fae" stroke-width="0.7"/>
<circle cx="947.0" cy="153.6" r="2.45" fill="#93abdc" stroke="#5a6fae" stroke-width="0.7"/>
<circle cx="941.8" cy="132.4" r="2.45" fill="#93abdc" stroke="#5a6fae" stroke-width="0.7"/>
<circle cx="941.8" cy="153.6" r="2.45" fill="#93abdc" stroke="#5a6fae" stroke-width="0.7"/>
<circle cx="1143.1" cy="132.4" r="2.45" fill="#93abdc" stroke="#5a6fae" stroke-width="0.7"/>
<circle cx="1143.1" cy="153.6" r="2.45" fill="#93abdc" stroke="#5a6fae" stroke-width="0.7"/>
<circle cx="1148.2" cy="132.4" r="2.45" fill="#93abdc" stroke="#5a6fae" stroke-width="0.7"/>
<circle cx="1148.2" cy="153.6" r="2.45" fill="#93abdc" stroke="#5a6fae" stroke-width="0.7"/>
<circle cx="1153.3" cy="132.4" r="2.45" fill="#93abdc" stroke="#5a6fae" stroke-width="0.7"/>
<circle cx="1153.3" cy="153.6" r="2.45" fill="#93abdc" stroke="#5a6fae" stroke-width="0.7"/>
<circle cx="1158.5" cy="132.4" r="2.45" fill="#93abdc" stroke="#5a6fae" stroke-width="0.7"/>
<circle cx="1158.5" cy="153.6" r="2.45" fill="#93abdc" stroke="#5a6fae" stroke-width="0.7"/>
<circle cx="1163.6" cy="132.4" r="2.45" fill="#93abdc" stroke="#5a6fae" stroke-width="0.7"/>
<circle cx="1163.6" cy="153.6" r="2.45" fill="#93abdc" stroke="#5a6fae" stroke-width="0.7"/>
<circle cx="1168.7" cy="132.4" r="2.45" fill="#93abdc" stroke="#5a6fae" stroke-width="0.7"/>
<circle cx="1168.7" cy="153.6" r="2.45" fill="#93abdc" stroke="#5a6fae" stroke-width="0.7"/>
<circle cx="1173.8" cy="132.4" r="2.45" fill="#93abdc" stroke="#5a6fae" stroke-width="0.7"/>
<circle cx="1173.8" cy="153.6" r="2.45" fill="#93abdc" stroke="#5a6fae" stroke-width="0.7"/>
<circle cx="1178.9" cy="132.4" r="2.45" fill="#93abdc" stroke="#5a6fae" stroke-width="0.7"/>
<circle cx="1178.9" cy="153.6" r="2.45" fill="#93abdc" stroke="#5a6fae" stroke-width="0.7"/>
<circle cx="1184.1" cy="132.4" r="2.45" fill="#93abdc" stroke="#5a6fae" stroke-width="0.7"/>
<circle cx="1184.1" cy="153.6" r="2.45" fill="#93abdc" stroke="#5a6fae" stroke-width="0.7"/>
<circle cx="1189.2" cy="132.4" r="2.45" fill="#93abdc" stroke="#5a6fae" stroke-width="0.7"/>
<circle cx="1189.2" cy="153.6" r="2.45" fill="#93abdc" stroke="#5a6fae" stroke-width="0.7"/>
<circle cx="1194.3" cy="132.4" r="2.45" fill="#93abdc" stroke="#5a6fae" stroke-width="0.7"/>
<circle cx="1194.3" cy="153.6" r="2.45" fill="#93abdc" stroke="#5a6fae" stroke-width="0.7"/>
<circle cx="1199.4" cy="132.4" r="2.45" fill="#93abdc" stroke="#5a6fae" stroke-width="0.7"/>
<circle cx="1199.4" cy="153.6" r="2.45" fill="#93abdc" stroke="#5a6fae" stroke-width="0.7"/>
<circle cx="1204.5" cy="132.4" r="2.45" fill="#93abdc" stroke="#5a6fae" stroke-width="0.7"/>
<circle cx="1204.5" cy="153.6" r="2.45" fill="#93abdc" stroke="#5a6fae" stroke-width="0.7"/>
<circle cx="1209.7" cy="132.4" r="2.45" fill="#93abdc" stroke="#5a6fae" stroke-width="0.7"/>
<circle cx="1209.7" cy="153.6" r="2.45" fill="#93abdc" stroke="#5a6fae" stroke-width="0.7"/>
<circle cx="1214.8" cy="132.4" r="2.45" fill="#93abdc" stroke="#5a6fae" stroke-width="0.7"/>
<circle cx="1214.8" cy="153.6" r="2.45" fill="#93abdc" stroke="#5a6fae" stroke-width="0.7"/>
<circle cx="1219.9" cy="132.4" r="2.45" fill="#93abdc" stroke="#5a6fae" stroke-width="0.7"/>
<circle cx="1219.9" cy="153.6" r="2.45" fill="#93abdc" stroke="#5a6fae" stroke-width="0.7"/>
<circle cx="1225.0" cy="132.4" r="2.45" fill="#93abdc" stroke="#5a6fae" stroke-width="0.7"/>
<circle cx="1225.0" cy="153.6" r="2.45" fill="#93abdc" stroke="#5a6fae" stroke-width="0.7"/>
<circle cx="1230.1" cy="132.4" r="2.45" fill="#93abdc" stroke="#5a6fae" stroke-width="0.7"/>
<circle cx="1230.1" cy="153.6" r="2.45" fill="#93abdc" stroke="#5a6fae" stroke-width="0.7"/>
<circle cx="1235.3" cy="132.4" r="2.45" fill="#93abdc" stroke="#5a6fae" stroke-width="0.7"/>
<circle cx="1235.3" cy="153.6" r="2.45" fill="#93abdc" stroke="#5a6fae" stroke-width="0.7"/>
<circle cx="1240.4" cy="132.4" r="2.45" fill="#93abdc" stroke="#5a6fae" stroke-width="0.7"/>
<circle cx="1240.4" cy="153.6" r="2.45" fill="#93abdc" stroke="#5a6fae" stroke-width="0.7"/>
<circle cx="1245.5" cy="132.4" r="2.45" fill="#93abdc" stroke="#5a6fae" stroke-width="0.7"/>
<circle cx="1245.5" cy="153.6" r="2.45" fill="#93abdc" stroke="#5a6fae" stroke-width="0.7"/>
<circle cx="1250.6" cy="132.4" r="2.45" fill="#93abdc" stroke="#5a6fae" stroke-width="0.7"/>
<circle cx="1250.6" cy="153.6" r="2.45" fill="#93abdc" stroke="#5a6fae" stroke-width="0.7"/>
<circle cx="1255.7" cy="132.4" r="2.45" fill="#93abdc" stroke="#5a6fae" stroke-width="0.7"/>
<circle cx="1255.7" cy="153.6" r="2.45" fill="#93abdc" stroke="#5a6fae" stroke-width="0.7"/>
<circle cx="1260.9" cy="132.4" r="2.45" fill="#93abdc" stroke="#5a6fae" stroke-width="0.7"/>
<circle cx="1260.9" cy="153.6" r="2.45" fill="#93abdc" stroke="#5a6fae" stroke-width="0.7"/>
<rect x="1136.7" y="80.0" width="4.0" height="90.0" fill="#a9bde0" />
<rect x="1132.2" y="74.3" width="12.8" height="13.9" rx="2.2" fill="#8db4de" stroke="#4f6f98" stroke-width="0.9"/>
<rect x="1132.2" y="93.3" width="12.8" height="15.0" rx="2.2" fill="#8db4de" stroke="#4f6f98" stroke-width="0.9"/>
<rect x="1132.2" y="110.3" width="12.8" height="15.0" rx="2.2" fill="#8db4de" stroke="#4f6f98" stroke-width="0.9"/>
<rect x="1132.6" y="166.4" width="11.8" height="35.6" rx="3" fill="#8db4de" stroke="#4f6f98" stroke-width="0.9"/>
<text x="1152.4" y="105.7" font-size="12.8" text-anchor="start" font-weight="normal" font-style="normal" fill="#000"  stroke="#000" stroke-width="0.25">TaCRK6</text>
<line x1="1138.2" y1="202.0" x2="1138.2" y2="224.5" stroke="#2d4869" stroke-width="1.2"/>
<polygon points="1135.0,223.5 1141.4,223.5 1138.2,229.5" fill="#2d4869"/>
<polygon points="1109.0,202.7 1116.2,194.5 1115.5,202.1 1123.6,200.8 1120.4,204.9 1128.8,206.1 1122.1,209.4 1129.8,213.4 1120.6,212.9 1123.1,220.2 1115.2,215.0 1113.7,222.6 1108.5,215.7 1104.5,225.2 1103.1,216.7 1097.4,219.5 1099.1,214.3 1088.5,215.2 1095.4,211.2 1088.2,206.7 1097.1,205.3 1088.9,197.8 1102.3,203.5 1104.3,197.8" fill="url(#starg)" stroke="#efc43c" stroke-width="1" stroke-linejoin="miter"/>
<text x="1109.1" y="213.7" font-size="12.5" text-anchor="middle" font-weight="normal" font-style="normal" fill="#000" stroke="#000" stroke-width="0.2">P</text>
<rect x="1089.3" y="230.3" width="97.5" height="35.2" rx="17.6" fill="#c7caea" stroke="#34466b" stroke-width="1.1"/>
<text x="1138.4" y="253.0" font-size="12.9" text-anchor="middle" font-weight="normal" font-style="normal" fill="#000"  stroke="#000" stroke-width="0.25">TaRLCK185</text>
<line x1="1138.2" y1="265.5" x2="1138.2" y2="294.0" stroke="#2d4869" stroke-width="1.2"/>
<polygon points="1135.0,293.0 1141.4,293.0 1138.2,299.0" fill="#2d4869"/>
<polygon points="1111.5,276.5 1118.6,268.6 1117.9,275.9 1125.9,274.7 1122.7,278.6 1131.0,279.7 1124.4,282.9 1132.0,286.8 1123.0,286.3 1125.4,293.3 1117.6,288.3 1116.1,295.6 1111.0,289.0 1107.1,298.1 1105.6,289.9 1100.0,292.7 1101.8,287.6 1091.3,288.5 1098.1,284.7 1091.0,280.4 1099.8,279.0 1091.7,271.7 1104.9,277.2 1106.9,271.7" fill="url(#starg)" stroke="#efc43c" stroke-width="1" stroke-linejoin="miter"/>
<text x="1111.8" y="287.7" font-size="12.5" text-anchor="middle" font-weight="normal" font-style="normal" fill="#000" stroke="#000" stroke-width="0.2">P</text>
<rect x="1089.5" y="299.3" width="97.3" height="25.8" rx="4" fill="#b9e1dd" stroke="#2c4866" stroke-width="1.1"/>
<text x="1138.2" y="317.1" font-size="12.8" text-anchor="middle" font-weight="normal" font-style="normal" fill="#000"  stroke="#000" stroke-width="0.25">TaMAPKKK1</text>
<rect x="1089.5" y="326.8" width="97.3" height="25.3" rx="4" fill="#b9e1dd" stroke="#2c4866" stroke-width="1.1"/>
<text x="1138.2" y="344.6" font-size="12.8" text-anchor="middle" font-weight="normal" font-style="normal" fill="#000"  stroke="#000" stroke-width="0.25">TaMAPKK9</text>
<rect x="1089.5" y="354.6" width="97.3" height="25.8" rx="4" fill="#b9e1dd" stroke="#2c4866" stroke-width="1.1"/>
<text x="1138.2" y="372.4" font-size="12.8" text-anchor="middle" font-weight="normal" font-style="normal" fill="#000"  stroke="#000" stroke-width="0.25">TaMAPK6</text>
<polygon points="1063.1,319.4 1070.4,311.2 1069.7,318.7 1077.9,317.5 1074.6,321.6 1083.2,322.7 1076.4,326.0 1084.2,330.0 1074.9,329.5 1077.4,336.8 1069.4,331.7 1067.9,339.2 1062.6,332.4 1058.6,341.8 1057.1,333.3 1051.3,336.2 1053.1,330.9 1042.3,331.9 1049.3,327.9 1042.0,323.4 1051.0,322.0 1042.7,314.5 1056.3,320.2 1058.3,314.5" fill="url(#starg)" stroke="#efc43c" stroke-width="1" stroke-linejoin="miter"/>
<text x="1062.6" y="330.7" font-size="12.5" text-anchor="middle" font-weight="normal" font-style="normal" fill="#000" stroke="#000" stroke-width="0.2">P</text>
<polygon points="1063.7,358.4 1071.0,350.2 1070.3,357.7 1078.5,356.5 1075.2,360.5 1083.8,361.7 1077.0,364.9 1084.8,368.9 1075.5,368.4 1078.0,375.7 1070.0,370.5 1068.5,378.0 1063.2,371.2 1059.2,380.6 1057.7,372.2 1051.9,375.0 1053.7,369.8 1042.9,370.7 1049.9,366.8 1042.6,362.3 1051.6,360.9 1043.3,353.4 1056.9,359.1 1058.9,353.4" fill="url(#starg)" stroke="#efc43c" stroke-width="1" stroke-linejoin="miter"/>
<text x="1063.2" y="368.5" font-size="12.5" text-anchor="middle" font-weight="normal" font-style="normal" fill="#000" stroke="#000" stroke-width="0.2">P</text>
<line x1="1138.7" y1="380.5" x2="1138.7" y2="403.0" stroke="#2d4869" stroke-width="1.2"/>
<polygon points="1135.5,402.0 1141.9,402.0 1138.7,408.0" fill="#2d4869"/>
<text x="1137.0" y="429.8" font-size="12.2" text-anchor="middle" font-weight="bold" font-style="normal" fill="#000" >SA</text>
<rect x="1100.6" y="417.5" width="5.4" height="5.4" fill="#b2385d" transform="rotate(45 1103.3 420.2)"/>
<rect x="1116.3" y="409.9" width="5.4" height="5.4" fill="#b2385d" transform="rotate(45 1119 412.6)"/>
<rect x="1140.1" y="409.9" width="5.4" height="5.4" fill="#b2385d" transform="rotate(45 1142.8 412.6)"/>
<rect x="1157.9" y="412.9" width="5.4" height="5.4" fill="#b2385d" transform="rotate(45 1160.6 415.6)"/>
<rect x="1152.7" y="424.9" width="5.4" height="5.4" fill="#b2385d" transform="rotate(45 1155.4 427.6)"/>
<rect x="1169.2" y="429.1" width="5.4" height="5.4" fill="#b2385d" transform="rotate(45 1171.9 431.8)"/>
<rect x="1108.0" y="438.1" width="5.4" height="5.4" fill="#b2385d" transform="rotate(45 1110.7 440.8)"/>
<rect x="1127.2" y="435.4" width="5.4" height="5.4" fill="#b2385d" transform="rotate(45 1129.9 438.1)"/>
<rect x="1155.2" y="442.2" width="5.4" height="5.4" fill="#b2385d" transform="rotate(45 1157.9 444.9)"/>
<line x1="1138.7" y1="443.5" x2="1138.7" y2="464.8" stroke="#2d4869" stroke-width="1.2"/>
<polygon points="1135.5,463.8 1141.9,463.8 1138.7,469.8" fill="#2d4869"/>
<rect x="1079.7" y="472.3" width="116" height="37.1" rx="6" fill="#d81f47"/>
<text x="1138.2" y="495.6" font-size="13" text-anchor="middle" font-weight="normal" font-style="normal" fill="#2a0a10"  stroke="#2a0a10" stroke-width="0.25">HTAS resistance</text>
</svg></body></html>
